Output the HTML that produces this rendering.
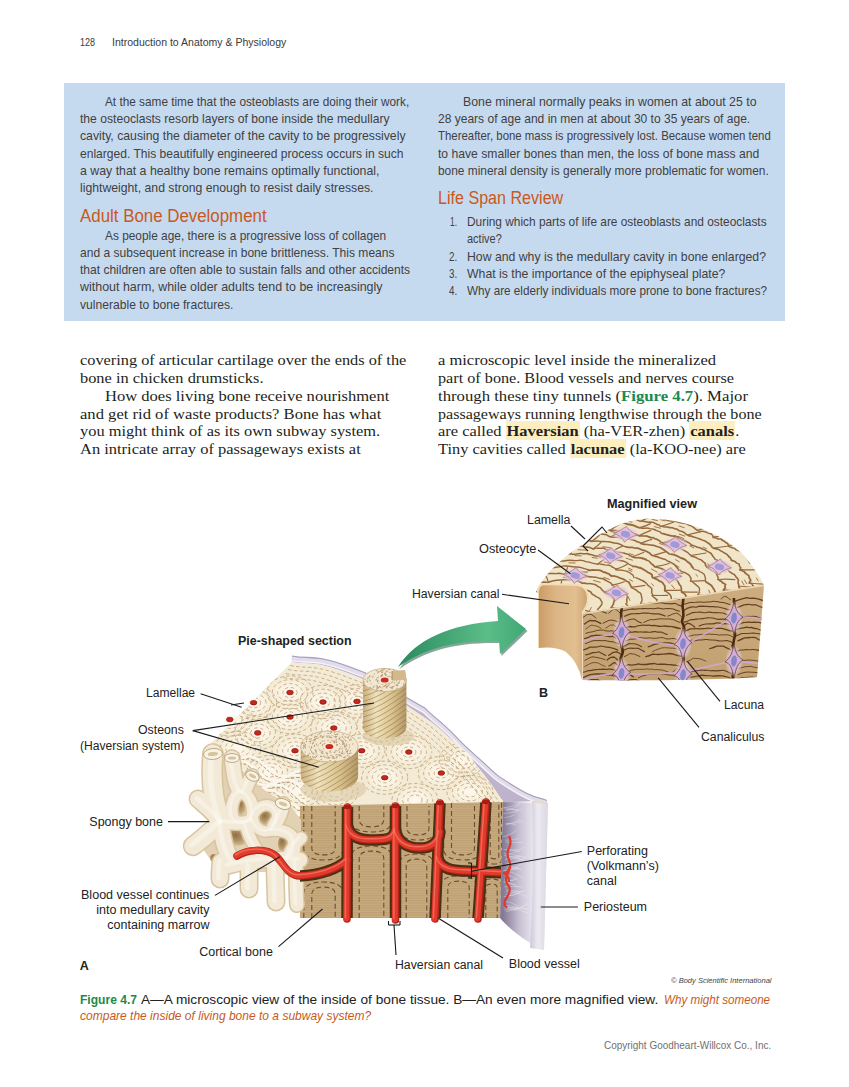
<!DOCTYPE html><html><head><meta charset="utf-8"><style>html,body{margin:0;padding:0;background:#fff}body{width:849px;height:1087px;position:relative;overflow:hidden}.t{position:absolute;white-space:nowrap;line-height:1;transform-origin:0 0}.hdr{font-family:"Liberation Sans", sans-serif;font-size:11.5px;color:#3a3a3a;}.box{font-family:"Liberation Sans", sans-serif;font-size:13px;color:#414141;}.h{font-family:"Liberation Sans", sans-serif;font-size:18px;color:#c8591a;}.body{font-family:"Liberation Serif", serif;font-size:15.5px;color:#231f20;}.lab{font-family:"Liberation Sans", sans-serif;font-size:12.5px;color:#222;}.labb{font-family:"Liberation Sans", sans-serif;font-size:12.5px;color:#222;font-weight:bold;}.cr{font-family:"Liberation Sans", sans-serif;font-size:8px;color:#444;font-style:italic;}.cap{font-family:"Liberation Sans", sans-serif;font-size:13.5px;color:#222;}.copy{font-family:"Liberation Sans", sans-serif;font-size:11px;color:#707070;}
.g{color:#1b8a4c;font-weight:bold}
.hl{background:#fdeebf;font-weight:bold;padding:1px 1px 0.5px 1px}
.fg{color:#1b8a4c;font-weight:bold}
.oi{color:#c8591a;font-style:italic}
.box{}#bluebox{position:absolute;left:64px;top:83px;width:721px;height:238px;background:#c6daef}</style></head><body><div id="bluebox"></div><svg style="position:absolute;left:0;top:0" width="849" height="1087" viewBox="0 0 849 1087"><defs><linearGradient id="canalG" x1="0" x2="1" y1="0" y2="0">
<stop offset="0" stop-color="#c99b66"/><stop offset="0.35" stop-color="#dcb584"/><stop offset="0.75" stop-color="#e2bf90"/><stop offset="1" stop-color="#c9a070"/></linearGradient>
<linearGradient id="arrowG" x1="0" x2="1" y1="0" y2="0">
<stop offset="0" stop-color="#2a8a5e"/><stop offset="0.7" stop-color="#5bbd88"/><stop offset="1" stop-color="#3fa776"/></linearGradient>
<linearGradient id="cylG" x1="0" x2="1" y1="0" y2="0">
<stop offset="0" stop-color="#cbb07e"/><stop offset="0.3" stop-color="#f0e2bc"/><stop offset="0.65" stop-color="#dcc591"/><stop offset="1" stop-color="#b39765"/></linearGradient>
<linearGradient id="perG" x1="0" x2="1" y1="0" y2="0">
<stop offset="0" stop-color="#bfb6cf"/><stop offset="0.5" stop-color="#d8d1e2"/><stop offset="1" stop-color="#e9e5ef"/></linearGradient>
<linearGradient id="sheetG" x1="0" x2="1" y1="0" y2="0">
<stop offset="0" stop-color="#c2b9d0"/><stop offset="0.3" stop-color="#e9e5f0"/><stop offset="1" stop-color="#f6f4f9"/></linearGradient>
<radialGradient id="lacG" cx="0.5" cy="0.5" r="0.5">
<stop offset="0" stop-color="#d6b3e0"/><stop offset="0.55" stop-color="#dcbfe2"/><stop offset="1" stop-color="#e8d2e8" stop-opacity="0"/></radialGradient>
<linearGradient id="frontBG" x1="0" x2="0" y1="0" y2="1">
<stop offset="0" stop-color="#cdad80"/><stop offset="1" stop-color="#c2a070"/></linearGradient>
<radialGradient id="holeG" cx="0.5" cy="0.4" r="0.6">
<stop offset="0" stop-color="#b89a6a"/><stop offset="0.7" stop-color="#cdb488"/><stop offset="1" stop-color="#e3d3b2"/></radialGradient>
<clipPath id="cTopB"><path d="M536,592 C545,572 565,555 590,540 C610,528 625,521 642,519 C682,517 722,533 742,554 C752,565 760,576 764,586 L582,614 Z"/></clipPath>
<clipPath id="cFrontB"><path d="M582,613 L764,585 L757,677 C720,680 640,681 582,680 Z"/></clipPath>
<clipPath id="cTopA"><path d="M292.0,662.0 C311.3,666.0 311.7,659.3 350.0,674.0 C388.3,688.7 371.5,682.7 407.0,706.0 C442.5,729.3 432.5,723.1 456.5,744.0 C480.5,764.9 463.3,749.1 479.0,768.6 C494.7,788.1 495.5,791.2 503.7,802.5 L300,806 L300,822 L262,798 L230,768 L210,750 L212,742 Z"/></clipPath>
<radialGradient id="halo" cx="0.5" cy="0.5" r="0.5"><stop offset="0" stop-color="#fffaf0"/><stop offset="0.5" stop-color="#faf3e2" stop-opacity="0.8"/><stop offset="1" stop-color="#f0e6ca" stop-opacity="0"/></radialGradient>
<clipPath id="cFrontA"><path d="M300,806 L503,802 L500,918 L300,918 Z"/></clipPath>
<pattern id="hstripe" width="4" height="2.4" patternUnits="userSpaceOnUse"><rect width="4" height="1.2" fill="#a2855a" opacity="0.35"/></pattern>
<radialGradient id="holeG2" cx="0.4" cy="0.35" r="0.7">
<stop offset="0" stop-color="#8f7048"/><stop offset="0.55" stop-color="#b49668"/><stop offset="1" stop-color="#d6c09a"/></radialGradient>
<linearGradient id="perG2" gradientUnits="userSpaceOnUse" x1="503" y1="0" x2="534" y2="0">
<stop offset="0" stop-color="#857a96"/><stop offset="0.5" stop-color="#c4bdd0"/><stop offset="1" stop-color="#ebe8ef"/></linearGradient>
<linearGradient id="sheetG2" gradientUnits="userSpaceOnUse" x1="531" y1="0" x2="548" y2="0">
<stop offset="0" stop-color="#d2ccda"/><stop offset="0.4" stop-color="#eceaf1"/><stop offset="1" stop-color="#dcd7e3"/></linearGradient>
<clipPath id="cyl1"><path d="M363.0,680 L363.0,727 A21.7,11.5 0 0 0 406.4,727 L406.4,680 Z"/></clipPath>
<clipPath id="cyl1t"><ellipse cx="384.7" cy="680" rx="21.7" ry="11.5"/></clipPath>
<clipPath id="cyl2"><path d="M300.7,746.5 L300.7,776.0 A28.7,15.5 0 0 0 358.09999999999997,776.0 L358.09999999999997,746.5 Z"/></clipPath>
<clipPath id="cyl2t"><ellipse cx="329.4" cy="746.5" rx="28.7" ry="15.5"/></clipPath></defs>
<path d="M536,592 C545,572 565,555 590,540 C610,528 625,521 642,519 C682,517 722,533 742,554 C752,565 760,576 764,586 L582,614 Z" fill="#f0e5c8"/>
<g clip-path="url(#cTopB)" fill="none" stroke="#96693d" stroke-linecap="round">
<path d="M543.5,603.5 Q543.0,601.6 543.1,600.5 Q543.6,598.7 544.7,597.2 Q547.6,596.3 550.5,595.3 Q554.1,594.8 556.5,593.5 Q560.2,594.3 563.6,593.6 Q566.2,593.8 569.6,595.1" stroke-width="1.67"/>
<path d="M569.6,595.1 Q570.8,591.8 575.7,588.4" stroke-width="1.2"/>
<path d="M561.5,590.1 l6.6,-0.2" stroke-width="0.9"/>
<path d="M548.6,594.0 l3.4,-1.1" stroke-width="0.9"/>
<path d="M569.8,595.4 Q572.8,596.2 575.9,596.0 Q578.5,597.3 580.8,597.9 Q582.6,599.2 585.4,600.3 Q585.3,602.5 585.2,603.6 Q584.2,605.2 583.6,606.5 Q581.6,607.6 580.6,609.0" stroke-width="1.49"/>
<path d="M580.1,608.9 Q587.8,610.7 592.9,613.1" stroke-width="1.2"/>
<path d="M591.3,607.5 l-1.8,3.2" stroke-width="0.9"/>
<path d="M527.8,603.0 Q527.7,602.0 526.6,600.6 Q526.6,599.9 527.4,598.1 Q528.1,597.4 527.8,595.5 Q530.0,594.0 532.0,593.7 Q533.5,593.5 535.6,591.9 Q538.3,591.0 540.8,591.1" stroke-width="1.83"/>
<path d="M540.6,591.0 Q537.4,588.1 533.6,585.8" stroke-width="1.2"/>
<path d="M526.1,598.2 l2.7,-3.7" stroke-width="0.9"/>
<path d="M524.4,595.1 l2.5,-2.4" stroke-width="0.9"/>
<path d="M541.9,590.6 Q543.5,589.7 544.2,589.3 Q545.6,588.9 546.8,588.0 Q548.0,587.3 549.5,586.5 Q551.8,587.1 553.4,586.4 Q554.9,587.3 557.2,586.8 Q558.5,587.4 560.9,587.3" stroke-width="1.79"/>
<path d="M560.9,587.3 Q560.9,584.8 561.6,581.1" stroke-width="1.2"/>
<path d="M540.4,586.4 l6.8,-1.9" stroke-width="0.9"/>
<path d="M561.9,587.5 Q564.8,586.8 568.0,586.9 Q571.8,586.8 574.5,586.9 Q578.1,587.5 580.5,588.0 Q583.2,589.4 585.9,589.6 Q588.5,590.8 590.5,591.7 Q591.5,593.8 592.7,594.6" stroke-width="1.55"/>
<path d="M593.7,594.8 Q594.9,595.7 596.6,596.9 Q598.2,597.3 600.4,599.1 Q600.8,601.0 601.8,601.7 Q602.2,602.4 601.8,604.4 Q601.0,605.6 599.9,606.9 Q598.9,608.4 597.6,609.3" stroke-width="1.48"/>
<path d="M515.1,602.8 Q514.6,602.4 513.3,600.8 Q512.9,600.4 512.4,598.7 Q512.1,597.0 513.0,596.7 Q513.4,595.4 514.9,594.9 Q516.5,593.7 518.6,593.5 Q519.8,592.0 520.9,591.9" stroke-width="1.65"/>
<path d="M521.4,592.1 Q516.4,589.0 509.9,587.8" stroke-width="1.2"/>
<path d="M511.8,592.3 l3.5,-3.4" stroke-width="0.9"/>
<path d="M522.5,591.7 Q523.1,590.0 524.1,589.0 Q525.5,588.1 527.8,586.9 Q529.8,585.4 531.2,584.5 Q534.1,584.2 536.2,583.0 Q538.7,583.0 542.1,582.2 Q545.7,581.9 548.4,582.5" stroke-width="1.64"/>
<path d="M548.2,582.2 Q547.3,578.0 545.5,575.4" stroke-width="1.2"/>
<path d="M549.3,581.8 Q551.4,581.4 554.6,580.5 Q557.2,580.3 560.4,580.0 Q564.0,579.6 566.4,579.5 Q569.1,579.7 572.4,580.0 Q575.4,579.9 577.9,581.1 Q580.0,581.6 582.4,583.3" stroke-width="1.70"/>
<path d="M563.2,577.3 l5.1,0.0" stroke-width="0.9"/>
<path d="M583.0,583.2 Q584.8,582.9 587.5,583.7 Q589.7,583.2 592.7,584.0 Q595.2,584.3 596.7,585.4 Q597.9,586.8 599.6,587.2 Q600.7,587.8 601.6,589.3 Q602.6,590.9 603.9,591.2" stroke-width="1.53"/>
<path d="M593.5,580.4 l6.7,1.9" stroke-width="0.9"/>
<path d="M604.2,592.0 Q606.4,593.8 608.0,594.2 Q609.5,594.9 612.0,596.5 Q613.5,598.1 614.3,599.2 Q614.3,601.5 613.8,602.2 Q613.8,604.2 612.8,605.0 Q612.3,606.2 611.1,607.7" stroke-width="1.68"/>
<path d="M611.0,607.7 Q619.2,609.2 625.2,609.7" stroke-width="1.2"/>
<path d="M499.1,603.5 Q499.1,602.4 498.1,601.8 Q497.4,601.3 497.5,600.1 Q498.1,598.6 497.4,598.3 Q498.1,598.0 498.3,596.7 Q500.1,595.4 500.9,595.3 Q501.4,595.3 502.8,593.8" stroke-width="1.37"/>
<path d="M503.3,593.9 Q497.5,592.2 491.0,590.7" stroke-width="1.2"/>
<path d="M496.8,596.4 l2.0,-3.9" stroke-width="0.9"/>
<path d="M490.2,600.0 l0.5,-2.0" stroke-width="0.9"/>
<path d="M503.9,593.6 Q504.4,592.3 503.8,591.8 Q503.6,590.4 503.7,589.9 Q504.1,588.4 505.4,588.4 Q506.8,587.2 508.2,587.2 Q508.7,587.0 509.9,585.7 Q511.7,584.8 513.5,584.9" stroke-width="1.70"/>
<path d="M514.0,585.1 Q509.4,582.2 504.7,580.1" stroke-width="1.2"/>
<path d="M502.4,586.4 l3.1,-2.4" stroke-width="0.9"/>
<path d="M501.3,584.6 l2.7,-1.9" stroke-width="0.9"/>
<path d="M513.6,584.8 Q514.7,583.1 514.9,582.9 Q516.1,582.5 517.6,581.6 Q518.0,580.3 519.5,579.8 Q521.5,580.2 523.6,579.3 Q525.7,579.4 527.2,578.5 Q529.5,578.7 531.2,578.2" stroke-width="1.81"/>
<path d="M531.2,578.2 Q529.7,574.7 526.3,572.0" stroke-width="1.2"/>
<path d="M511.3,579.7 l3.4,-1.6" stroke-width="0.9"/>
<path d="M533.0,577.9 Q535.3,576.4 536.9,575.7 Q539.9,575.5 542.2,574.7 Q545.1,574.9 547.5,573.5 Q550.4,573.4 553.4,573.5 Q556.4,573.9 559.0,573.2 Q561.7,573.9 564.7,574.2" stroke-width="1.43"/>
<path d="M564.7,574.2 Q567.1,570.1 567.4,567.7" stroke-width="1.2"/>
<path d="M533.0,571.7 l5.8,-1.2" stroke-width="0.9"/>
<path d="M543.7,571.0 l6.4,-0.8" stroke-width="0.9"/>
<path d="M566.1,574.2 Q567.5,574.0 570.0,573.6 Q571.6,572.8 574.0,573.0 Q576.2,572.9 577.5,573.8 Q579.3,574.4 581.2,574.1 Q583.1,574.7 584.6,575.1 Q586.3,575.7 587.4,576.5" stroke-width="1.67"/>
<path d="M581.9,571.3 l5.8,0.7" stroke-width="0.9"/>
<path d="M579.4,572.0 l7.5,0.8" stroke-width="0.9"/>
<path d="M588.2,576.5 Q590.7,577.1 593.4,577.0 Q595.3,577.2 598.3,577.9 Q601.3,578.5 603.4,578.8 Q605.1,580.1 606.7,580.8 Q608.7,581.8 610.2,582.6 Q611.2,583.3 612.4,585.0" stroke-width="1.48"/>
<path d="M612.0,585.1 Q617.9,584.5 624.3,581.8" stroke-width="1.2"/>
<path d="M603.9,577.5 l5.6,1.9" stroke-width="0.9"/>
<path d="M613.0,585.9 Q615.3,586.9 618.0,588.1 Q620.2,589.1 623.2,590.4 Q624.8,592.4 625.7,593.4 Q626.6,595.4 627.5,596.5 Q627.1,598.0 626.7,599.9 Q626.9,601.0 626.9,603.0" stroke-width="1.49"/>
<path d="M628.2,596.9 l1.7,3.5" stroke-width="0.9"/>
<path d="M625.7,603.8 Q626.9,605.0 628.1,606.2 Q628.2,606.9 628.0,608.6 Q628.6,609.5 628.1,611.1 Q626.8,611.8 625.9,613.3 Q624.2,614.3 623.4,615.5 Q621.7,616.7 619.4,617.2" stroke-width="1.42"/>
<path d="M619.7,617.3 Q624.7,619.8 631.2,621.2" stroke-width="1.2"/>
<path d="M630.5,616.2 l-2.6,3.1" stroke-width="0.9"/>
<path d="M485.9,601.5 Q484.9,600.1 484.7,599.4 Q485.3,597.6 484.7,597.3 Q484.4,595.7 484.8,595.2 Q485.4,593.4 486.0,593.2 Q487.6,591.8 489.3,591.5 Q490.5,591.2 492.3,589.9" stroke-width="1.41"/>
<path d="M491.8,589.8 Q485.7,587.8 480.3,586.1" stroke-width="1.2"/>
<path d="M485.1,592.3 l2.6,-3.9" stroke-width="0.9"/>
<path d="M493.2,589.2 Q492.8,587.4 493.5,586.2 Q494.0,585.4 495.6,583.5 Q497.5,583.0 498.5,581.0 Q501.0,580.4 503.3,579.2 Q505.6,578.3 507.4,577.2 Q510.7,576.7 512.9,575.9" stroke-width="1.50"/>
<path d="M513.3,576.1 Q508.0,573.7 506.6,570.4" stroke-width="1.2"/>
<path d="M513.7,575.7 Q516.5,574.3 518.3,573.5 Q521.4,572.9 523.5,571.6 Q526.8,570.6 529.2,569.9 Q531.7,569.9 535.5,568.9 Q538.5,568.1 542.1,568.4 Q545.7,568.6 548.7,568.3" stroke-width="1.43"/>
<path d="M548.7,568.3 Q550.5,564.5 548.8,561.7" stroke-width="1.2"/>
<path d="M533.9,568.2 l7.5,-1.4" stroke-width="0.9"/>
<path d="M517.2,570.4 l3.5,-1.1" stroke-width="0.9"/>
<path d="M549.9,568.5 Q553.4,567.5 556.0,567.2 Q559.6,566.9 562.6,566.1 Q566.2,566.0 569.3,566.2 Q572.8,566.9 575.8,567.0 Q578.8,566.7 582.1,567.9 Q585.6,569.1 587.9,569.6" stroke-width="1.42"/>
<path d="M568.9,562.8 l6.2,0.2" stroke-width="0.9"/>
<path d="M588.2,570.0 Q590.9,570.6 593.0,569.9 Q595.1,570.2 597.7,570.2 Q599.8,570.0 601.9,571.1 Q603.3,572.4 605.5,572.5 Q607.2,573.7 609.0,573.9 Q609.7,575.0 611.4,575.9" stroke-width="1.82"/>
<path d="M611.5,575.8 Q614.8,575.9 617.0,576.7 Q618.4,577.4 620.9,578.4 Q622.5,578.6 625.0,580.1 Q626.9,581.8 628.7,582.0 Q629.5,583.5 630.2,584.6 Q630.6,586.0 631.4,587.1" stroke-width="1.75"/>
<path d="M631.5,587.1 Q639.4,586.3 644.9,585.3" stroke-width="1.2"/>
<path d="M629.7,579.5 l3.0,1.8" stroke-width="0.9"/>
<path d="M631.5,587.7 Q634.1,589.0 636.2,590.0 Q637.6,591.9 639.8,592.7 Q641.1,593.5 641.4,595.7 Q641.4,596.7 642.0,598.8 Q642.2,601.0 641.6,601.8 Q640.5,603.1 640.4,604.9" stroke-width="1.42"/>
<path d="M640.3,604.9 Q648.8,604.7 653.9,606.3" stroke-width="1.2"/>
<path d="M640.4,605.0 Q640.7,606.7 642.0,607.5 Q641.8,609.2 642.0,610.0 Q640.9,611.8 640.9,612.4 Q639.8,613.6 639.5,614.8 Q638.8,616.0 637.7,617.2 Q635.4,617.5 633.8,619.1" stroke-width="1.47"/>
<path d="M633.5,619.0 Q638.0,620.2 644.8,622.8" stroke-width="1.2"/>
<path d="M647.0,611.4 l-1.0,2.5" stroke-width="0.9"/>
<path d="M472.1,603.5 Q470.8,601.9 470.1,601.5 Q469.9,600.6 469.8,599.4 Q470.0,597.7 469.2,597.2 Q470.0,596.2 470.4,595.2 Q471.4,595.1 473.4,593.4 Q474.7,591.9 475.4,591.6" stroke-width="1.84"/>
<path d="M475.8,591.6 Q467.4,589.6 462.3,588.2" stroke-width="1.2"/>
<path d="M471.3,593.5 l2.0,-3.9" stroke-width="0.9"/>
<path d="M476.1,591.1 Q476.3,590.0 475.9,589.3 Q476.2,589.0 475.9,587.4 Q476.9,586.2 476.7,585.7 Q477.7,585.7 478.8,584.2 Q480.5,583.3 481.1,582.8 Q483.8,582.3 485.5,582.1" stroke-width="1.52"/>
<path d="M485.5,581.6 Q486.1,580.1 487.2,579.4 Q487.9,578.0 489.2,577.3 Q490.5,576.0 491.1,575.1 Q492.8,574.5 494.9,573.6 Q496.6,572.3 499.1,572.3 Q501.6,572.2 503.6,571.3" stroke-width="1.48"/>
<path d="M503.9,571.4 Q498.4,568.1 496.5,565.1" stroke-width="1.2"/>
<path d="M490.7,573.9 l3.8,-2.0" stroke-width="0.9"/>
<path d="M505.2,571.3 Q507.2,569.7 508.0,568.7 Q510.4,568.7 512.6,567.2 Q515.1,565.4 516.5,565.1 Q519.4,564.9 522.3,564.5 Q525.3,563.9 527.8,563.9 Q530.5,563.0 533.6,563.7" stroke-width="1.32"/>
<path d="M533.4,563.5 Q530.8,559.3 531.6,556.3" stroke-width="1.2"/>
<path d="M508.1,567.9 l7.0,-2.4" stroke-width="0.9"/>
<path d="M514.6,565.0 l6.5,-1.8" stroke-width="0.9"/>
<path d="M533.2,563.2 Q534.5,561.9 536.9,561.9 Q539.0,560.8 540.9,561.0 Q542.6,561.6 545.2,560.8 Q547.2,560.4 549.5,560.5 Q551.3,561.2 554.0,561.0 Q556.4,561.3 558.3,561.5" stroke-width="1.67"/>
<path d="M558.3,561.3 Q558.6,557.8 560.7,554.1" stroke-width="1.2"/>
<path d="M560.2,561.1 Q563.8,561.2 566.6,560.5 Q569.8,560.0 573.1,560.5 Q575.9,560.9 579.8,560.1 Q583.4,560.4 585.8,561.6 Q589.2,562.1 591.7,562.9 Q594.3,563.6 597.4,564.2" stroke-width="1.30"/>
<path d="M597.3,564.4 Q600.4,561.8 606.0,558.3" stroke-width="1.2"/>
<path d="M592.1,557.5 l5.4,0.7" stroke-width="0.9"/>
<path d="M574.8,555.6 l6.5,0.3" stroke-width="0.9"/>
<path d="M597.8,564.0 Q600.2,563.6 601.4,564.3 Q602.7,564.4 604.8,564.9 Q607.1,565.2 608.5,565.2 Q610.3,565.8 611.4,566.2 Q612.3,567.4 613.8,567.6 Q614.5,568.6 616.3,568.9" stroke-width="1.42"/>
<path d="M615.9,569.1 Q623.4,566.8 627.2,564.2" stroke-width="1.2"/>
<path d="M604.2,562.0 l6.6,1.4" stroke-width="0.9"/>
<path d="M615.5,569.5 Q618.4,570.4 620.4,569.8 Q622.4,570.2 624.3,570.7 Q626.6,571.0 628.0,571.9 Q629.7,572.4 630.6,573.6 Q632.1,574.2 633.1,575.3 Q633.7,577.1 634.0,577.6" stroke-width="1.33"/>
<path d="M628.6,570.0 l3.2,1.4" stroke-width="0.9"/>
<path d="M628.7,568.3 l3.4,1.4" stroke-width="0.9"/>
<path d="M635.8,577.7 Q638.9,579.0 641.1,580.0 Q643.3,580.8 645.6,582.6 Q646.9,583.8 648.3,585.7 Q649.6,586.5 651.7,588.6 Q652.1,591.0 651.6,592.1 Q651.8,592.9 652.8,595.3" stroke-width="1.46"/>
<path d="M652.2,595.4 Q658.7,595.6 667.6,595.4" stroke-width="1.2"/>
<path d="M651.5,583.7 l2.2,2.1" stroke-width="0.9"/>
<path d="M652.3,596.0 Q653.4,597.0 654.7,597.9 Q656.3,599.2 657.1,599.9 Q656.4,600.4 656.8,602.1 Q657.6,602.4 657.2,604.2 Q656.0,606.0 655.2,606.3 Q654.1,606.8 654.2,608.4" stroke-width="1.43"/>
<path d="M653.6,608.3 Q660.8,609.6 668.3,610.5" stroke-width="1.2"/>
<path d="M457.7,600.1 Q456.4,598.9 456.0,597.5 Q456.1,596.5 455.6,594.8 Q455.8,594.3 456.6,592.3 Q457.4,590.9 457.8,589.7 Q459.4,589.0 461.3,587.5 Q462.5,586.6 464.5,585.3" stroke-width="1.73"/>
<path d="M464.5,585.3 Q459.6,583.1 451.7,581.1" stroke-width="1.2"/>
<path d="M464.2,584.8 Q465.4,584.0 465.4,582.8 Q465.1,581.7 465.8,580.5 Q466.3,579.7 467.9,578.7 Q468.5,577.5 469.9,576.8 Q471.4,576.2 473.3,575.3 Q476.2,575.6 478.4,574.4" stroke-width="1.50"/>
<path d="M477.8,574.2 Q470.7,571.1 467.7,568.6" stroke-width="1.2"/>
<path d="M477.7,574.1 Q479.6,572.6 481.0,571.4 Q482.1,569.9 484.0,568.4 Q486.3,567.4 489.0,566.3 Q491.7,565.8 493.8,564.1 Q496.6,563.7 500.5,563.1 Q504.3,562.5 506.8,562.0" stroke-width="1.76"/>
<path d="M506.5,561.7 Q505.5,558.4 501.5,554.7" stroke-width="1.2"/>
<path d="M492.5,559.9 l6.7,-2.4" stroke-width="0.9"/>
<path d="M474.7,568.2 l3.3,-1.8" stroke-width="0.9"/>
<path d="M506.9,561.5 Q508.5,560.7 510.0,559.8 Q511.9,559.2 513.3,558.1 Q515.3,557.1 517.9,557.6 Q520.0,557.8 522.2,556.8 Q524.6,555.9 526.8,556.4 Q529.1,556.0 531.4,556.1" stroke-width="1.65"/>
<path d="M531.6,556.3 Q532.9,552.3 530.5,549.0" stroke-width="1.2"/>
<path d="M516.1,552.9 l6.9,-1.4" stroke-width="0.9"/>
<path d="M532.5,556.2 Q535.4,555.3 538.0,554.3 Q540.7,554.5 544.4,553.7 Q547.0,554.2 550.7,553.2 Q554.4,552.6 557.1,552.6 Q560.0,553.7 563.6,553.5 Q566.8,553.1 570.0,553.9" stroke-width="1.60"/>
<path d="M570.0,554.2 Q571.9,550.9 574.6,547.1" stroke-width="1.2"/>
<path d="M561.9,548.8 l4.8,-0.0" stroke-width="0.9"/>
<path d="M571.0,553.9 Q573.3,554.6 576.1,554.0 Q578.4,553.3 581.6,553.5 Q583.8,553.9 587.0,553.5 Q589.2,554.7 591.8,554.7 Q594.6,556.0 596.4,556.0 Q598.4,555.9 600.9,557.3" stroke-width="1.53"/>
<path d="M578.1,549.7 l8.5,0.5" stroke-width="0.9"/>
<path d="M602.9,557.4 Q606.6,557.8 609.1,557.9 Q611.9,559.2 614.7,559.0 Q617.1,560.5 620.0,560.5 Q623.2,560.9 625.4,561.8 Q627.0,562.5 629.0,564.3 Q631.5,564.9 632.9,566.5" stroke-width="1.31"/>
<path d="M626.1,558.2 l6.4,2.0" stroke-width="0.9"/>
<path d="M610.3,557.2 l5.9,1.3" stroke-width="0.9"/>
<path d="M633.3,566.4 Q635.8,566.2 638.2,567.5 Q641.0,567.7 642.7,568.9 Q644.2,570.0 645.9,570.9 Q647.7,572.6 649.1,572.9 Q650.9,573.7 652.1,575.0 Q651.9,576.7 652.6,577.7" stroke-width="1.88"/>
<path d="M653.1,577.6 Q661.7,575.8 668.0,575.3" stroke-width="1.2"/>
<path d="M651.4,569.0 l5.8,3.2" stroke-width="0.9"/>
<path d="M654.1,578.1 Q655.4,578.8 657.6,579.7 Q658.9,581.2 660.8,581.5 Q662.4,582.3 663.2,583.6 Q664.1,585.3 664.8,585.7 Q664.7,587.0 665.0,588.1 Q664.8,589.5 664.8,590.5" stroke-width="1.88"/>
<path d="M665.2,590.4 Q674.9,590.6 680.9,590.1" stroke-width="1.2"/>
<path d="M671.6,585.1 l2.9,3.7" stroke-width="0.9"/>
<path d="M665.0,590.8 Q666.9,591.8 668.4,593.3 Q669.8,594.0 670.9,596.0 Q671.3,597.5 671.4,598.8 Q671.4,600.2 671.2,601.7 Q670.9,603.5 671.3,604.5 Q670.3,606.3 669.5,607.3" stroke-width="1.52"/>
<path d="M669.0,607.3 Q676.6,608.6 684.0,609.5" stroke-width="1.2"/>
<path d="M441.2,605.5 Q440.9,604.3 440.1,603.5 Q439.8,602.2 439.1,601.5 Q439.0,600.3 438.7,599.4 Q439.2,597.6 439.5,597.3 Q440.2,595.9 440.9,595.4 Q442.0,593.7 443.3,593.5" stroke-width="1.69"/>
<path d="M437.6,600.6 l0.4,-3.3" stroke-width="0.9"/>
<path d="M429.4,602.5 l0.1,-2.2" stroke-width="0.9"/>
<path d="M444.3,593.2 Q443.5,592.1 443.5,590.7 Q443.5,589.1 443.7,588.1 Q444.4,587.3 444.2,585.6 Q444.6,584.1 446.0,583.3 Q448.3,583.1 449.9,581.4 Q451.5,580.9 452.9,579.3" stroke-width="1.89"/>
<path d="M439.3,588.0 l1.9,-3.2" stroke-width="0.9"/>
<path d="M445.2,581.0 l2.3,-2.6" stroke-width="0.9"/>
<path d="M453.4,579.4 Q453.7,578.3 454.2,576.5 Q455.2,574.6 456.9,574.0 Q458.0,572.2 459.2,571.3 Q461.5,570.7 463.0,569.1 Q466.0,568.7 467.9,567.3 Q470.8,566.0 473.3,565.8" stroke-width="1.79"/>
<path d="M457.5,567.0 l4.9,-3.1" stroke-width="0.9"/>
<path d="M473.3,565.4 Q475.3,564.5 476.4,563.0 Q478.4,562.7 479.9,560.7 Q481.8,559.8 484.3,558.9 Q486.1,557.8 488.9,557.1 Q492.2,555.9 494.5,556.0 Q497.7,556.2 500.2,555.2" stroke-width="1.61"/>
<path d="M477.9,558.0 l3.8,-1.5" stroke-width="0.9"/>
<path d="M500.3,554.6 Q502.3,553.9 503.9,553.4 Q505.3,552.0 507.4,552.0 Q508.7,550.9 510.9,550.4 Q513.2,551.0 515.8,550.3 Q517.9,550.6 519.9,549.4 Q522.6,548.9 524.8,549.5" stroke-width="1.63"/>
<path d="M524.9,549.8 Q522.7,547.0 524.1,542.4" stroke-width="1.2"/>
<path d="M507.6,550.6 l4.1,-0.9" stroke-width="0.9"/>
<path d="M526.4,549.9 Q528.7,549.8 530.5,548.0 Q533.3,546.9 535.3,547.2 Q537.7,546.3 540.1,546.2 Q542.3,545.7 545.4,546.2 Q547.7,547.0 550.6,546.4 Q553.5,547.3 555.7,547.0" stroke-width="1.72"/>
<path d="M555.7,547.0 Q556.9,543.3 558.9,539.8" stroke-width="1.2"/>
<path d="M556.6,547.3 Q559.3,546.5 562.7,546.3 Q565.6,546.4 569.0,545.7 Q572.8,545.9 575.4,545.5 Q577.9,545.5 581.6,546.1 Q585.0,547.3 587.6,547.1 Q590.5,547.8 593.1,549.0" stroke-width="1.51"/>
<path d="M593.2,548.7 Q598.6,545.2 601.0,542.3" stroke-width="1.2"/>
<path d="M593.5,549.0 Q595.6,547.9 597.4,548.2 Q599.1,548.4 600.9,548.3 Q602.9,548.2 604.5,548.3 Q605.4,549.8 607.1,549.7 Q608.5,550.5 610.0,550.6 Q611.4,550.5 612.7,551.6" stroke-width="1.44"/>
<path d="M612.5,551.8 Q616.2,548.4 622.4,546.1" stroke-width="1.2"/>
<path d="M602.9,546.7 l7.7,1.2" stroke-width="0.9"/>
<path d="M612.7,551.6 Q615.1,551.5 616.6,551.9 Q618.0,552.7 620.5,552.3 Q621.9,552.9 623.9,553.0 Q626.0,554.0 627.2,553.9 Q628.8,554.7 629.5,555.5 Q631.3,556.1 632.3,556.7" stroke-width="1.46"/>
<path d="M631.9,557.0 Q637.3,555.1 643.9,552.2" stroke-width="1.2"/>
<path d="M629.3,553.7 l4.1,1.2" stroke-width="0.9"/>
<path d="M633.0,556.9 Q634.9,557.8 638.0,557.7 Q640.2,557.6 642.8,558.8 Q644.6,559.3 646.8,560.3 Q648.7,560.5 650.2,562.2 Q651.0,564.0 652.5,564.5 Q654.1,565.8 654.8,566.7" stroke-width="1.64"/>
<path d="M654.9,566.7 Q663.5,565.6 669.1,563.5" stroke-width="1.2"/>
<path d="M642.2,557.5 l4.6,1.7" stroke-width="0.9"/>
<path d="M655.3,566.9 Q657.0,566.8 658.8,567.7 Q660.7,568.3 661.8,568.8 Q663.0,569.7 664.4,570.0 Q665.5,571.3 666.0,571.6 Q666.9,572.7 667.1,573.3 Q667.8,573.6 667.9,575.0" stroke-width="1.72"/>
<path d="M667.7,575.0 Q674.3,573.3 682.9,573.1" stroke-width="1.2"/>
<path d="M663.6,569.4 l4.3,2.8" stroke-width="0.9"/>
<path d="M668.0,575.8 Q670.1,576.9 673.1,577.8 Q674.9,579.3 677.1,580.2 Q678.0,581.9 678.7,583.1 Q679.4,584.8 680.7,585.9 Q681.3,587.8 681.5,588.9 Q681.1,591.1 681.7,591.9" stroke-width="1.65"/>
<path d="M681.7,591.8 Q689.3,592.1 697.4,592.2" stroke-width="1.2"/>
<path d="M681.6,592.1 Q683.7,592.7 684.7,593.9 Q685.4,594.7 686.0,595.9 Q685.6,597.6 686.3,597.9 Q687.1,598.5 686.9,600.0 Q686.2,600.8 685.6,602.1 Q684.3,603.4 683.7,604.1" stroke-width="1.77"/>
<path d="M687.3,599.4 l0.4,2.4" stroke-width="0.9"/>
<path d="M684.3,604.6 Q684.8,605.3 685.8,607.4 Q686.4,609.1 687.1,610.3 Q685.9,612.2 685.4,613.1 Q684.5,614.8 684.3,615.9 Q682.7,617.8 681.9,618.5 Q680.4,620.2 679.8,621.1" stroke-width="1.80"/>
<path d="M679.0,621.0 Q684.0,623.2 692.2,625.0" stroke-width="1.2"/>
<path d="M426.7,599.2 Q426.5,597.4 425.6,596.7 Q425.1,595.5 425.2,594.2 Q425.4,592.6 426.1,591.8 Q426.5,590.6 427.3,589.4 Q428.8,589.0 429.8,587.2 Q431.7,586.0 432.8,585.0" stroke-width="1.57"/>
<path d="M432.4,585.0 Q425.3,583.9 420.3,581.0" stroke-width="1.2"/>
<path d="M422.4,596.1 l0.9,-3.4" stroke-width="0.9"/>
<path d="M432.1,584.4 Q432.9,584.0 432.8,582.3 Q433.3,581.7 432.9,580.1 Q433.6,578.4 435.0,578.2 Q435.4,576.5 436.0,576.2 Q438.6,574.7 440.1,574.8 Q441.4,573.5 443.2,573.2" stroke-width="1.31"/>
<path d="M443.0,573.2 Q436.2,571.5 432.9,568.1" stroke-width="1.2"/>
<path d="M426.5,577.8 l3.0,-3.5" stroke-width="0.9"/>
<path d="M442.7,572.8 Q444.3,571.6 445.1,569.9 Q446.2,568.6 448.0,567.1 Q449.2,566.3 450.8,564.2 Q452.8,562.6 455.2,561.9 Q457.6,560.8 461.1,560.2 Q464.6,559.0 467.0,558.7" stroke-width="1.57"/>
<path d="M441.5,569.1 l4.2,-3.3" stroke-width="0.9"/>
<path d="M437.9,566.6 l4.4,-3.2" stroke-width="0.9"/>
<path d="M466.7,558.3 Q468.5,557.7 469.4,555.9 Q471.2,555.3 473.3,554.0 Q475.3,552.7 477.3,552.1 Q479.6,552.2 482.2,550.8 Q484.6,550.4 487.4,549.7 Q490.7,549.1 493.0,549.1" stroke-width="1.79"/>
<path d="M492.8,548.9 Q492.0,546.1 489.4,542.1" stroke-width="1.2"/>
<path d="M494.1,548.1 Q496.9,546.5 499.1,546.5 Q501.9,545.2 503.8,544.6 Q506.3,544.6 509.3,543.5 Q512.7,543.5 515.2,542.7 Q517.9,542.4 521.1,542.1 Q524.5,541.7 527.2,541.8" stroke-width="1.78"/>
<path d="M505.3,540.0 l5.5,-1.1" stroke-width="0.9"/>
<path d="M513.2,539.7 l5.3,-0.9" stroke-width="0.9"/>
<path d="M528.3,541.8 Q530.4,541.8 533.5,540.8 Q535.9,540.3 538.5,539.1 Q541.7,538.8 544.1,538.5 Q546.5,539.3 549.9,539.1 Q553.0,539.6 555.5,538.7 Q558.1,539.7 561.2,539.7" stroke-width="1.82"/>
<path d="M561.2,539.7 Q563.0,536.1 565.6,533.1" stroke-width="1.2"/>
<path d="M537.3,538.0 l4.5,-0.4" stroke-width="0.9"/>
<path d="M562.7,539.7 Q565.3,540.1 567.7,539.2 Q569.9,539.0 572.7,538.7 Q575.5,537.9 577.8,538.4 Q580.8,538.8 582.7,539.1 Q584.7,539.9 587.4,539.9 Q590.0,540.8 591.9,541.3" stroke-width="1.85"/>
<path d="M591.9,541.2 Q595.7,538.7 599.3,535.2" stroke-width="1.2"/>
<path d="M593.7,541.3 Q597.2,540.7 599.6,541.4 Q602.9,541.4 605.6,541.5 Q608.7,541.5 611.2,542.2 Q613.9,543.2 616.7,543.2 Q618.5,543.6 621.4,544.8 Q623.6,546.3 625.8,546.7" stroke-width="1.46"/>
<path d="M626.3,546.9 Q629.5,547.8 632.0,547.3 Q634.6,548.4 637.3,548.2 Q639.0,548.5 641.6,549.8 Q644.2,550.2 646.3,551.2 Q648.1,552.2 649.8,553.2 Q650.8,554.8 652.6,555.6" stroke-width="1.74"/>
<path d="M652.7,555.5 Q658.1,554.3 665.4,551.9" stroke-width="1.2"/>
<path d="M654.1,556.1 Q656.8,556.2 659.8,557.7 Q662.6,558.9 665.4,559.5 Q667.7,561.5 669.8,561.9 Q672.3,563.3 674.0,564.3 Q675.8,565.7 676.6,567.2 Q678.0,568.4 678.7,570.3" stroke-width="1.62"/>
<path d="M675.6,559.7 l3.6,2.0" stroke-width="0.9"/>
<path d="M675.9,565.2 l3.1,2.0" stroke-width="0.9"/>
<path d="M680.0,570.1 Q680.8,571.5 682.3,571.8 Q683.6,571.8 685.8,573.2 Q686.9,574.0 688.6,574.8 Q689.9,576.2 690.2,576.8 Q690.7,577.8 691.0,578.8 Q691.0,580.2 690.5,581.1" stroke-width="1.50"/>
<path d="M690.7,581.1 Q696.9,581.4 705.5,580.7" stroke-width="1.2"/>
<path d="M695.9,574.5 l1.8,1.8" stroke-width="0.9"/>
<path d="M692.0,581.7 Q693.4,582.5 694.6,583.7 Q695.3,584.1 697.0,585.7 Q698.1,586.4 699.1,587.8 Q699.7,588.3 699.5,590.1 Q698.9,592.1 699.4,592.4 Q698.4,593.6 697.8,594.8" stroke-width="1.43"/>
<path d="M698.3,594.8 Q705.2,595.9 712.9,595.9" stroke-width="1.2"/>
<path d="M708.8,590.2 l1.3,3.1" stroke-width="0.9"/>
<path d="M697.9,595.1 Q698.6,596.4 700.2,597.0 Q701.6,597.7 702.6,598.9 Q702.7,599.5 702.0,600.9 Q702.4,601.3 702.9,602.9 Q702.4,603.3 701.6,604.9 Q699.8,606.3 698.8,606.9" stroke-width="1.60"/>
<path d="M699.6,606.9 Q707.4,608.3 713.4,609.3" stroke-width="1.2"/>
<path d="M412.5,599.6 Q411.8,598.6 411.8,597.5 Q411.6,597.1 411.1,595.4 Q410.2,595.0 410.4,593.3 Q411.5,592.0 411.4,591.2 Q413.0,590.8 414.0,589.4 Q415.4,588.1 416.5,587.5" stroke-width="1.67"/>
<path d="M410.6,593.5 l1.2,-3.8" stroke-width="0.9"/>
<path d="M411.3,590.9 l1.4,-3.6" stroke-width="0.9"/>
<path d="M416.6,586.9 Q415.6,585.3 415.7,584.9 Q416.4,584.4 416.2,583.1 Q416.9,582.3 416.7,581.3 Q417.3,580.4 417.7,579.5 Q419.4,578.5 420.6,578.1 Q422.2,577.4 423.8,576.7" stroke-width="1.70"/>
<path d="M423.8,576.7 Q416.9,573.7 413.8,572.3" stroke-width="1.2"/>
<path d="M423.6,576.5 Q424.3,574.8 424.7,573.4 Q425.5,572.1 427.0,570.5 Q428.7,568.9 430.3,567.8 Q431.7,566.8 433.6,565.1 Q435.5,564.0 437.7,562.7 Q440.2,562.2 443.3,560.8" stroke-width="1.52"/>
<path d="M443.3,560.8 Q441.5,558.5 436.2,555.3" stroke-width="1.2"/>
<path d="M421.9,568.0 l2.8,-2.4" stroke-width="0.9"/>
<path d="M444.4,560.0 Q445.3,558.1 447.2,557.0 Q449.2,556.2 451.1,554.5 Q452.8,554.0 455.4,552.0 Q458.1,551.9 461.2,550.3 Q464.0,549.2 466.2,548.2 Q469.3,546.9 472.7,546.9" stroke-width="1.35"/>
<path d="M472.9,547.1 Q472.2,544.8 469.2,540.9" stroke-width="1.2"/>
<path d="M447.7,551.0 l3.8,-1.8" stroke-width="0.9"/>
<path d="M460.4,545.6 l3.7,-1.4" stroke-width="0.9"/>
<path d="M474.1,546.5 Q475.7,545.8 478.0,544.2 Q480.1,542.8 482.7,542.4 Q484.8,541.7 487.7,540.8 Q490.2,539.9 493.3,539.8 Q495.6,538.9 498.9,538.7 Q502.3,537.7 505.0,538.2" stroke-width="1.59"/>
<path d="M505.2,538.5 Q503.2,534.9 504.8,532.1" stroke-width="1.2"/>
<path d="M496.2,535.4 l4.4,-0.9" stroke-width="0.9"/>
<path d="M506.8,538.5 Q509.4,537.6 510.8,536.7 Q512.5,536.0 514.9,535.1 Q517.5,534.6 519.7,534.2 Q522.1,533.8 524.9,534.1 Q527.3,533.5 530.2,534.4 Q532.4,534.9 535.2,534.0" stroke-width="1.30"/>
<path d="M525.1,532.4 l6.8,-0.8" stroke-width="0.9"/>
<path d="M512.6,533.1 l7.2,-1.1" stroke-width="0.9"/>
<path d="M536.6,533.8 Q539.5,533.0 541.5,532.8 Q544.6,531.8 546.6,532.2 Q549.2,531.3 551.8,531.7 Q554.1,532.3 557.1,532.0 Q559.2,531.8 562.3,532.0 Q564.5,533.1 567.4,533.0" stroke-width="1.35"/>
<path d="M567.4,533.1 Q571.5,530.5 572.7,527.2" stroke-width="1.2"/>
<path d="M562.6,531.6 l7.3,-0.0" stroke-width="0.9"/>
<path d="M557.0,529.0 l7.6,-0.1" stroke-width="0.9"/>
<path d="M567.6,532.9 Q569.3,533.1 571.3,532.4 Q572.7,532.3 575.0,532.2 Q576.4,532.7 578.7,532.3 Q580.7,531.9 582.5,532.4 Q584.7,533.2 585.8,533.5 Q587.4,534.3 589.4,534.0" stroke-width="1.53"/>
<path d="M576.3,528.3 l4.3,0.2" stroke-width="0.9"/>
<path d="M582.7,531.2 l6.1,0.4" stroke-width="0.9"/>
<path d="M590.5,534.5 Q592.8,534.3 594.2,534.2 Q596.3,534.2 598.1,533.5 Q600.2,533.4 601.5,534.1 Q602.7,534.3 604.9,534.5 Q606.0,534.3 607.9,535.7 Q609.8,536.5 610.7,537.0" stroke-width="1.55"/>
<path d="M610.9,536.8 Q616.3,534.3 619.6,531.8" stroke-width="1.2"/>
<path d="M610.7,531.6 l8.2,1.2" stroke-width="0.9"/>
<path d="M612.3,537.2 Q615.0,537.4 618.1,537.1 Q620.9,538.0 623.2,537.9 Q626.0,538.7 628.5,538.4 Q630.9,539.9 632.8,540.0 Q635.3,540.2 636.9,541.8 Q638.8,542.3 641.2,543.2" stroke-width="1.45"/>
<path d="M641.1,543.3 Q648.0,540.4 651.9,539.4" stroke-width="1.2"/>
<path d="M641.2,543.6 Q644.8,544.5 647.2,544.5 Q649.9,545.2 653.6,545.3 Q656.0,546.5 658.7,547.0 Q660.6,547.5 662.9,549.2 Q664.1,550.2 666.4,551.7 Q668.6,553.6 669.9,554.2" stroke-width="1.71"/>
<path d="M659.5,543.5 l7.1,2.5" stroke-width="0.9"/>
<path d="M671.3,554.2 Q673.7,554.2 676.8,555.8 Q679.2,557.2 680.9,558.0 Q683.7,558.4 685.6,560.0 Q686.8,561.5 688.7,562.6 Q690.5,563.9 691.3,565.3 Q691.9,566.9 693.2,568.2" stroke-width="1.87"/>
<path d="M693.8,569.0 Q696.5,570.4 698.4,570.4 Q699.8,572.0 701.5,572.3 Q702.7,573.2 704.1,574.3 Q704.6,575.0 705.0,576.6 Q705.0,577.5 705.5,579.0 Q705.2,580.2 705.6,581.4" stroke-width="1.36"/>
<path d="M705.7,581.8 Q707.9,583.1 709.3,584.1 Q711.0,584.8 712.2,586.6 Q713.0,588.2 713.9,589.2 Q714.8,591.0 715.1,591.9 Q714.5,593.8 714.6,594.6 Q713.7,596.3 712.6,597.5" stroke-width="1.81"/>
<path d="M713.2,597.4 Q721.5,599.1 726.4,599.2" stroke-width="1.2"/>
<path d="M713.4,598.2 Q713.5,599.9 714.7,600.4 Q715.8,601.1 717.0,602.6 Q716.8,604.2 717.7,604.9 Q716.6,606.0 715.9,607.1 Q715.3,608.4 715.4,609.3 Q714.2,610.9 713.3,611.5" stroke-width="1.70"/>
<path d="M399.2,597.2 Q398.8,595.9 398.6,594.5 Q397.9,592.9 398.4,591.7 Q398.6,590.6 399.3,589.0 Q400.5,587.9 401.0,586.4 Q402.3,585.3 403.3,583.9 Q404.8,582.5 406.8,581.6" stroke-width="1.81"/>
<path d="M405.8,581.2 Q405.6,580.7 405.5,579.5 Q405.3,579.0 405.8,577.9 Q405.8,577.4 406.3,576.2 Q407.7,575.4 408.3,574.9 Q409.8,574.4 410.2,573.5 Q412.4,572.2 414.0,572.5" stroke-width="1.37"/>
<path d="M414.8,572.1 Q415.1,570.6 415.1,568.6 Q416.2,566.7 417.3,565.5 Q418.4,563.7 420.7,562.8 Q423.3,561.1 425.0,560.3 Q426.8,558.7 429.5,557.9 Q432.5,557.1 435.5,556.0" stroke-width="1.83"/>
<path d="M420.8,555.0 l3.7,-2.4" stroke-width="0.9"/>
<path d="M406.9,564.8 l2.4,-2.1" stroke-width="0.9"/>
<path d="M435.5,555.3 Q436.4,553.9 437.8,553.6 Q439.1,553.0 439.6,551.6 Q441.3,551.6 442.5,550.0 Q443.8,548.7 445.1,548.4 Q447.3,547.6 449.3,547.4 Q451.5,547.0 453.6,546.6" stroke-width="1.64"/>
<path d="M434.8,547.6 l5.7,-2.9" stroke-width="0.9"/>
<path d="M454.4,546.0 Q456.1,544.5 457.9,544.0 Q459.4,542.4 461.8,542.2 Q464.0,541.0 465.8,540.4 Q467.9,540.4 470.1,538.9 Q473.0,539.0 475.6,538.1 Q478.6,538.5 481.0,537.5" stroke-width="1.34"/>
<path d="M480.9,537.4 Q481.1,533.5 477.7,529.8" stroke-width="1.2"/>
<path d="M473.1,536.9 l3.6,-1.1" stroke-width="0.9"/>
<path d="M470.8,536.2 l5.5,-1.7" stroke-width="0.9"/>
<path d="M482.2,536.7 Q483.3,535.3 485.5,535.4 Q486.7,535.0 488.8,534.1 Q490.9,533.6 492.4,533.1 Q494.4,532.9 496.2,532.3 Q497.8,531.8 500.6,532.1 Q503.3,531.6 504.8,531.8" stroke-width="1.87"/>
<path d="M505.0,532.0 Q503.6,527.1 504.5,524.2" stroke-width="1.2"/>
<path d="M487.4,531.7 l5.6,-1.3" stroke-width="0.9"/>
<path d="M490.9,530.7 l3.8,-0.8" stroke-width="0.9"/>
<path d="M505.8,532.3 Q509.1,530.9 511.4,530.0 Q514.1,528.6 517.8,528.7 Q521.5,527.8 524.4,527.5 Q527.4,527.5 531.4,527.3 Q535.3,527.4 538.4,527.2 Q541.5,527.2 545.4,527.5" stroke-width="1.46"/>
<path d="M545.4,527.5 Q549.1,523.6 549.1,519.9" stroke-width="1.2"/>
<path d="M545.6,527.1 Q549.4,527.3 552.1,526.2 Q555.3,526.2 558.8,525.9 Q561.7,525.9 565.5,525.8 Q568.3,525.2 572.1,525.8 Q575.0,525.9 578.7,526.6 Q581.7,527.3 585.2,527.5" stroke-width="1.35"/>
<path d="M585.1,527.7 Q589.4,524.6 592.5,520.8" stroke-width="1.2"/>
<path d="M572.0,522.4 l6.8,0.2" stroke-width="0.9"/>
<path d="M572.3,525.3 l5.1,0.1" stroke-width="0.9"/>
<path d="M586.6,527.8 Q589.0,527.9 590.7,527.6 Q592.8,528.0 595.0,527.2 Q597.4,528.0 599.3,527.2 Q601.4,528.2 603.1,527.9 Q605.0,528.8 606.7,529.1 Q608.8,529.1 610.1,530.5" stroke-width="1.58"/>
<path d="M610.2,530.3 Q613.3,527.7 619.9,524.0" stroke-width="1.2"/>
<path d="M605.1,523.3 l5.7,0.7" stroke-width="0.9"/>
<path d="M600.7,522.9 l5.9,0.6" stroke-width="0.9"/>
<path d="M611.7,530.6 Q613.8,530.0 616.8,530.7 Q618.7,531.5 621.8,531.0 Q623.8,531.6 626.7,531.5 Q628.6,531.7 630.9,532.8 Q632.9,533.6 635.4,533.9 Q636.7,535.2 639.2,535.5" stroke-width="1.64"/>
<path d="M638.8,535.8 Q643.7,533.4 650.8,530.4" stroke-width="1.2"/>
<path d="M639.3,535.9 Q642.1,536.0 644.5,536.0 Q646.9,535.9 648.8,536.9 Q650.8,537.9 653.2,537.7 Q654.8,539.0 656.7,539.2 Q658.7,540.2 659.7,540.9 Q660.6,542.3 662.4,542.8" stroke-width="1.70"/>
<path d="M662.4,542.8 Q670.7,540.6 676.2,538.5" stroke-width="1.2"/>
<path d="M645.8,535.6 l4.5,1.2" stroke-width="0.9"/>
<path d="M663.0,543.4 Q666.4,544.5 668.8,544.7 Q671.3,544.8 675.0,546.0 Q677.5,547.7 679.8,548.0 Q681.4,549.2 684.0,550.3 Q685.8,551.4 687.9,552.7 Q689.1,553.7 690.9,555.4" stroke-width="1.44"/>
<path d="M690.4,555.6 Q698.4,554.2 706.0,553.0" stroke-width="1.2"/>
<path d="M689.8,545.9 l4.0,1.9" stroke-width="0.9"/>
<path d="M691.7,556.2 Q693.4,556.4 696.0,557.5 Q697.8,559.1 699.3,559.2 Q701.4,559.6 702.4,560.9 Q703.2,561.9 704.9,562.9 Q705.2,563.9 705.6,565.3 Q706.7,566.7 707.1,567.4" stroke-width="1.64"/>
<path d="M707.1,567.4 Q715.6,567.2 723.5,566.2" stroke-width="1.2"/>
<path d="M715.7,562.0 l4.5,3.6" stroke-width="0.9"/>
<path d="M707.2,563.6 l3.2,2.5" stroke-width="0.9"/>
<path d="M708.0,568.1 Q709.8,568.6 710.6,569.8 Q712.1,571.0 713.8,571.4 Q715.2,571.5 716.3,573.1 Q716.4,574.4 717.2,575.3 Q717.3,575.9 718.2,577.3 Q718.2,578.4 717.8,579.6" stroke-width="1.46"/>
<path d="M718.2,579.5 Q727.1,578.6 734.8,579.6" stroke-width="1.2"/>
<path d="M723.4,569.8 l1.8,1.8" stroke-width="0.9"/>
<path d="M717.0,571.5 l3.1,3.2" stroke-width="0.9"/>
<path d="M719.3,580.2 Q720.4,580.9 721.6,581.6 Q722.8,582.9 723.0,583.1 Q724.3,583.2 725.5,584.6 Q725.1,585.3 724.9,586.4 Q725.7,587.5 725.3,588.1 Q724.2,588.8 723.3,590.0" stroke-width="1.76"/>
<path d="M724.0,589.9 Q733.5,590.8 740.4,591.1" stroke-width="1.2"/>
<path d="M724.0,590.3 Q724.7,591.7 726.1,593.0 Q727.9,594.9 728.5,595.7 Q729.1,597.4 728.8,598.6 Q728.9,600.1 728.8,601.4 Q728.6,602.7 728.3,604.2 Q727.5,605.2 727.1,607.0" stroke-width="1.34"/>
<path d="M726.6,607.0 Q735.4,608.5 742.1,609.8" stroke-width="1.2"/>
<path d="M730.2,602.3 l0.2,4.1" stroke-width="0.9"/>
<path d="M735.6,600.2 l0.3,2.8" stroke-width="0.9"/>
<path d="M383.9,606.9 Q383.3,605.7 382.0,604.4 Q381.6,603.5 380.7,601.9 Q381.6,600.1 381.3,599.4 Q381.5,598.1 380.6,596.9 Q381.3,595.5 382.7,594.5 Q384.1,594.0 385.9,592.2" stroke-width="1.61"/>
<path d="M385.3,592.1 Q380.4,590.4 373.7,588.6" stroke-width="1.2"/>
<path d="M384.9,591.3 Q384.9,589.9 383.9,589.6 Q384.5,589.0 384.7,587.9 Q384.3,586.6 384.3,586.2 Q385.7,584.7 386.0,584.7 Q386.4,583.6 387.4,583.1 Q389.0,582.2 390.5,581.8" stroke-width="1.37"/>
<path d="M389.9,581.7 Q385.5,580.0 379.3,577.5" stroke-width="1.2"/>
<path d="M383.8,587.5 l1.3,-3.1" stroke-width="0.9"/>
<path d="M389.5,581.0 Q390.5,579.7 390.5,578.7 Q390.5,578.2 390.0,576.2 Q390.9,575.2 391.5,573.9 Q391.9,573.0 393.4,571.7 Q394.6,570.6 396.4,569.8 Q398.5,569.7 400.9,568.2" stroke-width="1.68"/>
<path d="M387.5,576.7 l2.6,-3.7" stroke-width="0.9"/>
<path d="M400.8,568.0 Q401.3,565.9 402.4,564.8 Q403.4,562.5 404.5,561.6 Q406.1,560.2 407.8,558.7 Q410.2,556.8 411.9,556.1 Q414.3,555.4 416.9,553.8 Q419.2,553.2 422.0,551.5" stroke-width="1.73"/>
<path d="M422.2,551.6 Q418.7,549.3 416.0,545.9" stroke-width="1.2"/>
<path d="M404.4,554.8 l4.1,-2.9" stroke-width="0.9"/>
<path d="M423.0,551.3 Q425.3,549.8 426.4,548.7 Q427.6,547.4 429.5,545.9 Q431.3,544.0 433.4,543.4 Q435.9,542.6 438.0,541.2 Q441.6,539.9 444.0,539.7 Q447.6,539.6 450.3,538.5" stroke-width="1.45"/>
<path d="M450.1,538.4 Q448.9,534.9 446.7,532.1" stroke-width="1.2"/>
<path d="M421.5,545.2 l3.2,-1.7" stroke-width="0.9"/>
<path d="M450.4,537.9 Q452.4,537.4 453.7,536.1 Q455.9,535.2 457.2,534.3 Q458.5,533.6 460.6,532.4 Q463.6,531.8 465.6,531.7 Q467.3,530.7 470.1,530.7 Q473.4,529.8 475.6,530.5" stroke-width="1.33"/>
<path d="M475.4,530.3 Q476.4,526.9 474.4,523.9" stroke-width="1.2"/>
<path d="M476.5,529.9 Q478.1,529.7 480.3,528.3 Q482.1,526.9 484.2,526.7 Q486.6,526.3 488.7,525.7 Q490.6,525.2 493.6,525.2 Q496.1,524.4 498.3,524.4 Q501.6,525.0 503.7,524.5" stroke-width="1.60"/>
<path d="M479.1,526.9 l7.6,-1.8" stroke-width="0.9"/>
<path d="M488.3,525.1 l6.3,-1.3" stroke-width="0.9"/>
<path d="M505.2,524.5 Q507.1,524.3 510.0,523.0 Q512.3,522.8 514.9,521.4 Q517.8,521.3 520.4,520.9 Q523.1,520.9 525.9,520.4 Q528.4,519.9 531.5,520.1 Q534.8,519.8 537.3,520.5" stroke-width="1.53"/>
<path d="M515.4,517.8 l4.9,-0.6" stroke-width="0.9"/>
<path d="M512.5,518.3 l5.2,-0.7" stroke-width="0.9"/>
<path d="M538.0,520.6 Q541.5,519.3 544.2,519.0 Q547.1,518.2 550.8,518.3 Q553.7,518.0 557.4,517.9 Q560.8,518.4 564.1,518.5 Q566.9,518.4 570.7,519.2 Q573.5,519.1 577.3,519.7" stroke-width="1.41"/>
<path d="M578.0,519.8 Q580.4,519.9 582.1,519.0 Q584.0,519.5 586.0,518.8 Q588.2,519.2 589.9,518.9 Q591.5,518.9 593.7,519.6 Q595.1,520.7 597.3,520.5 Q599.4,521.7 600.7,521.7" stroke-width="1.79"/>
<path d="M594.4,518.9 l7.2,0.6" stroke-width="0.9"/>
<path d="M601.0,521.2 Q604.5,522.1 607.8,521.8 Q611.7,521.3 615.1,521.7 Q618.6,522.2 621.9,522.4 Q624.3,522.8 627.9,524.3 Q630.9,524.5 634.2,525.7 Q636.7,527.0 639.8,527.8" stroke-width="1.88"/>
<path d="M639.8,527.7 Q645.7,526.2 650.4,523.6" stroke-width="1.2"/>
<path d="M628.2,521.4 l3.8,0.7" stroke-width="0.9"/>
<path d="M641.2,528.3 Q643.8,528.2 645.6,528.2 Q647.2,527.6 649.8,528.6 Q651.8,528.8 653.6,529.2 Q655.0,529.6 656.5,530.6 Q657.7,531.1 659.8,531.6 Q660.6,533.2 662.0,533.5" stroke-width="1.41"/>
<path d="M654.4,526.6 l6.0,1.6" stroke-width="0.9"/>
<path d="M662.9,533.6 Q665.6,534.3 668.5,535.1 Q671.7,536.2 675.0,536.0 Q677.7,536.9 679.4,538.2 Q681.4,539.5 683.9,540.4 Q685.7,541.3 688.3,542.5 Q690.1,543.1 691.5,545.3" stroke-width="1.76"/>
<path d="M678.5,536.5 l5.2,2.0" stroke-width="0.9"/>
<path d="M679.2,534.1 l5.5,2.0" stroke-width="0.9"/>
<path d="M692.2,545.3 Q695.3,546.1 697.2,547.2 Q700.2,547.4 702.5,549.0 Q704.6,549.6 707.0,551.1 Q709.5,552.4 711.1,553.5 Q711.7,554.3 713.0,556.5 Q714.0,557.3 715.2,559.4" stroke-width="1.59"/>
<path d="M703.3,547.1 l3.2,1.7" stroke-width="0.9"/>
<path d="M716.5,559.9 Q718.0,560.8 719.2,561.2 Q720.7,561.2 722.7,562.3 Q724.1,563.5 724.9,563.7 Q724.7,564.0 725.3,565.6 Q725.9,566.6 726.8,567.2 Q726.8,568.9 727.2,569.1" stroke-width="1.77"/>
<path d="M727.7,569.6 Q728.7,571.1 730.2,572.2 Q732.5,574.0 734.3,574.6 Q735.7,575.8 736.2,577.3 Q737.6,578.2 738.5,580.1 Q737.9,581.9 738.1,583.1 Q739.0,584.9 738.8,586.0" stroke-width="1.61"/>
<path d="M738.4,586.0 Q746.0,586.9 751.8,587.4" stroke-width="1.2"/>
<path d="M741.8,581.1 l2.2,3.9" stroke-width="0.9"/>
<path d="M744.5,580.0 l2.2,3.7" stroke-width="0.9"/>
<path d="M738.8,586.9 Q740.1,589.0 741.5,590.1 Q743.3,591.4 744.2,593.2 Q745.0,594.9 745.8,596.5 Q745.0,597.4 745.3,599.9 Q744.4,601.5 743.4,603.2 Q743.0,604.3 741.7,606.5" stroke-width="1.81"/>
<path d="M742.4,606.5 Q748.8,608.3 754.7,609.3" stroke-width="1.2"/>
<path d="M750.7,591.1 l1.3,4.1" stroke-width="0.9"/>
<path d="M370.4,607.1 Q370.3,605.8 369.8,604.4 Q369.6,603.5 368.8,601.7 Q367.6,600.9 367.5,598.9 Q368.8,598.2 369.2,596.1 Q370.6,594.6 371.3,593.5 Q372.2,592.8 373.6,590.9" stroke-width="1.55"/>
<path d="M373.0,590.8 Q367.0,589.3 359.4,586.9" stroke-width="1.2"/>
<path d="M363.5,597.3 l0.6,-3.7" stroke-width="0.9"/>
<path d="M372.4,590.4 Q371.8,589.6 371.7,588.3 Q371.0,587.1 371.5,586.2 Q372.4,585.0 372.8,584.2 Q374.0,583.9 374.4,582.3 Q374.4,581.6 375.3,580.3 Q376.5,578.9 378.0,578.6" stroke-width="1.51"/>
<path d="M378.6,578.6 Q374.1,576.8 366.3,573.9" stroke-width="1.2"/>
<path d="M370.2,588.3 l1.5,-4.2" stroke-width="0.9"/>
<path d="M366.9,583.1 l1.3,-2.6" stroke-width="0.9"/>
<path d="M379.0,577.9 Q379.0,576.3 379.6,575.3 Q379.1,574.1 379.5,572.6 Q381.0,570.8 381.9,570.3 Q383.2,569.2 384.5,568.0 Q385.3,566.9 387.1,565.8 Q388.5,564.2 390.5,563.7" stroke-width="1.89"/>
<path d="M391.0,563.8 Q385.2,561.2 380.6,558.1" stroke-width="1.2"/>
<path d="M369.8,573.9 l1.6,-2.3" stroke-width="0.9"/>
<path d="M390.7,563.3 Q391.1,562.0 392.5,560.2 Q393.7,558.3 395.5,557.3 Q396.4,556.6 398.2,554.4 Q399.8,553.8 402.2,551.8 Q404.7,550.6 407.9,549.8 Q409.8,549.4 412.3,547.5" stroke-width="1.36"/>
<path d="M387.8,554.6 l4.0,-3.1" stroke-width="0.9"/>
<path d="M413.6,547.6 Q415.1,545.8 415.4,545.2 Q416.7,543.4 418.5,543.1 Q419.6,541.8 420.9,540.8 Q423.0,539.7 425.0,539.2 Q427.2,539.1 430.0,538.1 Q432.3,537.3 435.2,537.1" stroke-width="1.59"/>
<path d="M434.7,536.8 Q433.0,532.5 429.5,529.8" stroke-width="1.2"/>
<path d="M434.9,536.4 Q436.8,535.2 437.6,534.8 Q438.5,534.3 440.1,533.0 Q441.4,531.8 443.2,531.5 Q444.4,531.1 446.6,530.3 Q449.5,530.7 451.4,529.9 Q453.4,529.3 455.2,529.0" stroke-width="1.89"/>
<path d="M455.5,529.2 Q455.8,525.9 452.5,521.8" stroke-width="1.2"/>
<path d="M457.0,529.0 Q458.6,527.8 461.0,526.8 Q463.2,525.4 465.7,525.0 Q467.4,524.2 470.0,522.9 Q473.1,521.6 475.5,521.8 Q478.4,521.2 481.7,521.3 Q484.9,521.4 488.1,521.2" stroke-width="1.55"/>
<path d="M462.4,521.4 l7.1,-1.9" stroke-width="0.9"/>
<path d="M478.2,520.6 l4.5,-1.0" stroke-width="0.9"/>
<path d="M488.6,520.7 Q491.9,520.2 494.4,518.8 Q497.5,517.7 500.8,517.4 Q504.4,516.6 507.0,515.7 Q510.3,515.1 514.2,515.6 Q518.0,515.9 521.1,515.1 Q524.7,514.9 528.1,515.1" stroke-width="1.70"/>
<path d="M507.4,512.4 l8.1,-1.1" stroke-width="0.9"/>
<path d="M529.8,515.3 Q532.5,513.9 534.4,513.8 Q537.1,513.0 539.4,512.8 Q542.5,512.3 544.5,512.3 Q546.7,513.0 549.8,512.9 Q552.2,513.0 555.0,513.3 Q557.2,513.2 560.2,513.6" stroke-width="1.38"/>
<path d="M560.2,513.7 Q563.5,509.9 566.2,506.8" stroke-width="1.2"/>
<path d="M562.0,514.1 Q564.7,513.6 567.5,512.6 Q570.2,512.4 573.0,512.8 Q575.7,512.5 578.6,512.6 Q581.1,512.9 584.1,512.9 Q586.7,513.2 589.4,513.7 Q592.2,514.9 594.5,515.1" stroke-width="1.69"/>
<path d="M594.5,514.9 Q600.6,511.0 603.1,508.6" stroke-width="1.2"/>
<path d="M586.1,511.0 l5.9,0.3" stroke-width="0.9"/>
<path d="M587.3,510.0 l8.8,0.5" stroke-width="0.9"/>
<path d="M596.3,515.1 Q598.1,514.5 600.4,514.5 Q602.0,514.5 604.1,514.8 Q606.5,514.8 608.1,514.7 Q610.1,514.2 611.9,515.0 Q612.9,516.5 614.9,516.5 Q616.3,517.9 618.0,517.8" stroke-width="1.50"/>
<path d="M618.2,517.5 Q623.9,513.8 628.4,511.8" stroke-width="1.2"/>
<path d="M619.0,517.8 Q621.2,517.0 623.0,517.7 Q625.7,517.6 627.1,517.7 Q629.5,517.0 630.9,518.0 Q632.1,517.8 634.3,518.9 Q636.4,519.4 637.4,520.1 Q639.3,521.1 640.4,521.4" stroke-width="1.35"/>
<path d="M640.4,521.4 Q645.5,518.7 652.0,516.2" stroke-width="1.2"/>
<path d="M642.1,521.4 Q643.9,521.1 645.8,521.7 Q647.3,522.5 649.5,522.1 Q651.5,522.1 653.2,522.4 Q654.9,523.7 656.0,523.7 Q657.1,525.0 659.0,524.7 Q659.5,525.8 661.1,526.5" stroke-width="1.46"/>
<path d="M661.2,526.4 Q667.6,524.4 674.0,522.0" stroke-width="1.2"/>
<path d="M660.4,519.6 l4.3,1.1" stroke-width="0.9"/>
<path d="M652.0,519.3 l5.4,1.3" stroke-width="0.9"/>
<path d="M661.9,526.4 Q664.2,527.4 667.3,526.9 Q669.6,527.7 672.4,527.8 Q674.9,529.1 676.9,529.1 Q678.8,530.9 680.4,531.1 Q681.9,531.1 684.4,532.7 Q685.4,533.9 687.2,534.9" stroke-width="1.55"/>
<path d="M687.0,535.0 Q692.9,533.5 701.2,531.7" stroke-width="1.2"/>
<path d="M679.0,526.0 l5.2,1.7" stroke-width="0.9"/>
<path d="M688.3,535.6 Q691.0,535.7 693.8,537.0 Q696.8,537.9 698.9,538.7 Q700.8,539.4 703.7,540.6 Q705.4,541.1 707.7,542.8 Q709.2,543.6 710.9,545.4 Q711.6,547.1 713.3,548.2" stroke-width="1.56"/>
<path d="M713.7,548.0 Q721.2,547.0 729.0,546.0" stroke-width="1.2"/>
<path d="M714.0,548.4 Q716.6,548.8 719.0,549.6 Q720.8,551.1 722.2,551.5 Q723.5,552.7 725.4,553.4 Q727.0,554.3 728.0,555.5 Q728.7,556.8 730.3,557.7 Q730.6,558.7 731.6,560.2" stroke-width="1.63"/>
<path d="M731.3,560.4 Q733.3,560.7 735.0,561.4 Q735.9,561.8 736.4,563.0 Q737.3,563.1 739.2,564.2 Q739.1,564.6 739.5,566.1 Q739.7,567.0 740.7,567.7 Q740.3,569.2 740.0,569.7" stroke-width="1.60"/>
<path d="M740.6,569.6 Q749.4,570.3 756.5,569.6" stroke-width="1.2"/>
<path d="M739.9,569.7 Q742.2,570.9 744.1,571.5 Q744.8,572.7 746.1,573.7 Q747.3,574.3 748.9,575.8 Q748.8,576.2 749.4,578.2 Q750.2,578.7 750.7,580.5 Q749.6,581.1 749.2,583.1" stroke-width="1.78"/>
<path d="M749.8,583.0 Q757.6,583.8 765.5,584.3" stroke-width="1.2"/>
<path d="M756.4,578.0 l1.8,3.0" stroke-width="0.9"/>
<path d="M750.7,583.3 Q752.3,583.7 752.8,585.6 Q753.2,586.0 754.8,587.9 Q755.8,588.5 756.7,590.3 Q756.3,591.9 755.7,592.9 Q754.8,594.7 755.1,595.4 Q754.8,596.7 755.1,597.9" stroke-width="1.51"/>
<path d="M754.6,597.9 Q761.8,598.1 769.7,600.3" stroke-width="1.2"/>
<path d="M758.5,587.6 l0.8,2.2" stroke-width="0.9"/>
<path d="M762.1,588.1 l1.5,4.1" stroke-width="0.9"/>
<path d="M754.9,598.1 Q755.6,600.2 755.9,601.1 Q756.5,602.4 757.1,604.2 Q757.7,605.3 758.8,607.3 Q758.0,609.6 757.0,610.4 Q755.5,611.7 755.0,613.4 Q754.1,614.2 753.5,616.4" stroke-width="1.66"/>
<path d="M765.2,604.4 l-0.0,4.0" stroke-width="0.9"/>
<path d="M357.6,595.0 Q356.7,594.0 356.4,592.2 Q356.5,591.5 356.3,589.5 Q356.2,587.4 355.6,586.7 Q356.3,585.5 357.2,584.0 Q359.5,582.6 360.8,581.6 Q361.5,580.0 363.0,579.1" stroke-width="1.45"/>
<path d="M363.1,579.1 Q356.0,576.2 350.2,574.3" stroke-width="1.2"/>
<path d="M348.9,581.3 l1.1,-2.2" stroke-width="0.9"/>
<path d="M350.0,585.4 l0.9,-2.2" stroke-width="0.9"/>
<path d="M363.5,578.7 Q363.9,577.4 363.2,576.6 Q362.6,575.9 362.5,574.5 Q363.3,574.0 364.2,572.7 Q364.5,571.3 365.5,570.9 Q367.0,569.9 368.0,569.3 Q370.1,568.1 371.3,567.8" stroke-width="1.44"/>
<path d="M362.2,573.6 l1.6,-2.3" stroke-width="0.9"/>
<path d="M371.6,567.1 Q371.5,565.5 371.4,564.8 Q371.4,563.5 372.4,562.8 Q372.6,562.2 373.7,560.8 Q374.8,559.2 375.7,559.0 Q378.2,558.5 379.7,557.7 Q381.0,556.3 382.4,556.0" stroke-width="1.58"/>
<path d="M368.3,560.0 l2.9,-2.9" stroke-width="0.9"/>
<path d="M384.0,555.8 Q384.9,554.4 384.9,553.8 Q384.4,552.2 384.9,551.6 Q386.4,550.5 387.9,550.2 Q389.0,549.7 390.2,548.6 Q391.4,548.1 393.1,547.2 Q394.4,546.7 396.9,546.1" stroke-width="1.84"/>
<path d="M379.8,546.9 l2.9,-2.0" stroke-width="0.9"/>
<path d="M397.2,545.9 Q397.6,544.3 398.6,543.4 Q399.5,542.1 401.3,541.4 Q403.1,540.1 404.7,539.6 Q405.6,538.8 407.6,537.7 Q410.3,536.5 412.4,536.6 Q414.3,535.1 416.3,535.1" stroke-width="1.31"/>
<path d="M416.7,535.3 Q412.9,532.4 410.8,528.1" stroke-width="1.2"/>
<path d="M400.8,536.1 l4.0,-2.1" stroke-width="0.9"/>
<path d="M402.4,538.7 l3.4,-1.9" stroke-width="0.9"/>
<path d="M417.4,535.5 Q419.5,533.5 420.9,532.7 Q422.4,531.7 424.5,529.8 Q426.8,529.5 429.6,527.8 Q432.0,526.9 435.1,525.9 Q438.3,525.3 441.4,524.6 Q445.0,523.4 447.9,523.5" stroke-width="1.63"/>
<path d="M447.7,523.3 Q450.2,522.6 451.4,521.4 Q453.0,519.8 455.2,519.5 Q456.9,518.3 459.6,518.0 Q461.6,517.7 464.5,516.9 Q467.4,516.6 469.7,516.1 Q472.4,515.9 475.4,515.8" stroke-width="1.46"/>
<path d="M453.4,516.7 l4.2,-1.2" stroke-width="0.9"/>
<path d="M477.2,515.7 Q479.1,515.5 481.4,514.2 Q483.7,513.8 485.6,512.6 Q488.3,512.5 490.1,511.4 Q492.4,511.3 495.2,510.9 Q497.6,510.4 500.6,510.9 Q502.8,510.1 505.7,510.5" stroke-width="1.44"/>
<path d="M505.7,510.6 Q507.6,506.3 508.0,502.9" stroke-width="1.2"/>
<path d="M506.0,510.8 Q507.8,510.0 510.1,509.1 Q512.3,508.0 514.7,508.3 Q516.5,508.4 519.3,507.4 Q521.7,507.7 524.4,507.4 Q526.8,507.9 529.4,507.3 Q531.5,507.4 534.4,507.4" stroke-width="1.63"/>
<path d="M515.5,505.6 l6.8,-0.7" stroke-width="0.9"/>
<path d="M534.7,507.6 Q537.8,506.2 539.8,506.5 Q543.0,505.5 545.1,506.1 Q547.3,505.3 550.4,505.5 Q552.9,506.2 555.9,505.7 Q559.0,506.6 561.3,506.1 Q563.8,505.7 566.6,506.9" stroke-width="1.68"/>
<path d="M566.8,507.2 Q569.7,506.5 573.3,506.0 Q576.0,505.7 579.7,505.8 Q582.9,504.9 586.3,505.6 Q589.4,506.5 592.7,506.2 Q595.1,507.7 598.6,507.8 Q601.7,507.8 604.7,508.8" stroke-width="1.88"/>
<path d="M604.7,508.8 Q609.3,505.4 614.3,502.5" stroke-width="1.2"/>
<path d="M576.3,504.6 l5.4,0.2" stroke-width="0.9"/>
<path d="M574.8,501.5 l6.4,0.2" stroke-width="0.9"/>
<path d="M605.9,508.9 Q609.5,508.4 612.6,509.0 Q616.6,508.6 619.4,509.1 Q622.4,508.9 626.0,509.8 Q628.9,510.3 632.0,511.1 Q635.2,512.6 637.8,512.8 Q640.3,514.2 643.4,514.6" stroke-width="1.48"/>
<path d="M643.5,514.5 Q648.0,512.6 655.5,509.2" stroke-width="1.2"/>
<path d="M624.5,506.2 l4.0,0.6" stroke-width="0.9"/>
<path d="M631.9,509.7 l5.9,1.0" stroke-width="0.9"/>
<path d="M644.8,514.7 Q647.0,514.8 649.3,514.5 Q651.5,515.2 652.9,515.3 Q654.7,515.5 656.9,515.7 Q658.7,516.9 660.1,517.0 Q661.8,517.7 663.0,518.4 Q664.1,519.6 666.0,519.7" stroke-width="1.47"/>
<path d="M666.0,519.7 Q674.2,516.8 679.2,515.1" stroke-width="1.2"/>
<path d="M653.1,514.5 l5.9,1.3" stroke-width="0.9"/>
<path d="M663.2,515.2 l7.3,1.8" stroke-width="0.9"/>
<path d="M666.4,520.1 Q669.8,521.3 672.8,520.9 Q675.2,521.3 678.6,522.2 Q682.1,523.3 684.7,523.3 Q687.5,523.9 689.4,525.4 Q691.7,525.9 693.9,527.6 Q695.5,529.1 697.3,530.3" stroke-width="1.46"/>
<path d="M697.6,530.2 Q704.5,527.7 712.4,526.9" stroke-width="1.2"/>
<path d="M678.9,517.4 l3.4,1.0" stroke-width="0.9"/>
<path d="M700.5,523.9 l7.0,2.6" stroke-width="0.9"/>
<path d="M698.4,530.9 Q700.0,531.6 702.1,531.2 Q704.1,531.3 705.3,532.0 Q706.1,531.9 707.9,533.0 Q709.3,533.9 711.0,533.8 Q711.2,534.4 712.5,535.3 Q712.9,536.8 713.5,537.0" stroke-width="1.39"/>
<path d="M713.2,537.2 Q720.3,536.2 728.7,534.6" stroke-width="1.2"/>
<path d="M717.6,531.5 l3.9,1.8" stroke-width="0.9"/>
<path d="M713.3,537.5 Q715.7,537.7 716.9,538.4 Q718.5,539.2 721.1,539.0 Q721.8,540.2 723.1,540.6 Q723.6,540.6 725.3,542.1 Q726.6,543.1 727.6,543.5 Q728.1,544.5 728.6,545.4" stroke-width="1.66"/>
<path d="M728.2,545.5 Q734.5,544.4 744.2,543.8" stroke-width="1.2"/>
<path d="M725.9,540.0 l3.1,1.8" stroke-width="0.9"/>
<path d="M726.1,538.9 l3.5,1.9" stroke-width="0.9"/>
<path d="M728.8,546.4 Q731.2,547.7 734.6,548.4 Q736.3,550.3 739.0,550.9 Q741.5,551.8 743.1,553.5 Q744.7,555.7 745.8,556.5 Q746.4,558.1 748.0,559.6 Q748.7,560.9 749.5,562.8" stroke-width="1.47"/>
<path d="M750.2,562.6 Q759.0,562.0 766.6,562.5" stroke-width="1.2"/>
<path d="M752.4,557.8 l2.6,2.3" stroke-width="0.9"/>
<path d="M754.5,557.3 l3.2,2.9" stroke-width="0.9"/>
<path d="M750.2,562.9 Q752.0,563.6 754.2,565.0 Q755.3,565.8 757.3,567.3 Q758.1,568.0 759.3,569.8 Q760.4,570.7 762.0,572.2 Q762.7,573.5 762.4,575.0 Q763.1,575.7 762.9,577.8" stroke-width="1.41"/>
<path d="M756.4,564.9 l2.6,2.8" stroke-width="0.9"/>
<path d="M762.5,578.1 Q763.5,579.0 765.1,579.7 Q765.3,581.2 766.6,581.6 Q768.1,582.2 768.4,583.3 Q768.9,583.9 768.7,585.3 Q769.3,585.8 768.9,587.2 Q767.2,587.6 766.8,589.3" stroke-width="1.58"/>
<path d="M767.4,589.3 Q777.3,590.5 783.3,591.3" stroke-width="1.2"/>
<path d="M772.8,584.0 l1.7,3.9" stroke-width="0.9"/>
<path d="M767.3,589.9 Q768.4,590.4 769.3,592.2 Q770.4,593.5 771.3,594.4 Q771.3,596.3 772.2,596.7 Q771.5,597.5 771.7,599.1 Q772.1,600.0 772.0,601.4 Q771.2,602.1 769.4,603.7" stroke-width="1.49"/>
<path d="M769.8,603.7 Q778.8,606.0 784.9,606.8" stroke-width="1.2"/>
<path d="M777.2,594.4 l0.6,2.8" stroke-width="0.9"/>
<path d="M770.4,604.4 Q771.2,606.0 771.7,606.3 Q771.7,608.0 771.9,608.3 Q771.8,608.5 772.3,610.3 Q771.5,611.6 771.6,612.3 Q771.1,613.8 771.0,614.2 Q769.6,615.5 768.2,616.1" stroke-width="1.51"/>
<path d="M768.2,616.1 Q776.1,617.8 782.3,620.1" stroke-width="1.2"/>
<path d="M781.3,613.6 l-0.5,2.7" stroke-width="0.9"/>
</g>
<ellipse cx="625.5" cy="534.2" rx="14" ry="8" fill="url(#lacG)" clip-path="url(#cTopB)"/>
<path d="M613.5,533.2 C619.5,532.2 621.5,529.2 626.5,526.2 C628.5,530.2 631.5,532.2 637.5,535.2 C631.5,536.2 628.5,538.2 624.5,542.2 C622.5,538.2 619.5,535.2 613.5,533.2 Z" fill="#e2bfe2" stroke="#9a6b45" stroke-width="0.6" clip-path="url(#cTopB)"/>
<ellipse cx="625.5" cy="534.2" rx="4.8" ry="3.2" fill="#a19ad6" transform="rotate(15 625.5 534.2)"/>
<ellipse cx="610.7" cy="555.8" rx="14" ry="8" fill="url(#lacG)" clip-path="url(#cTopB)"/>
<path d="M598.7,554.8 C604.7,553.8 606.7,550.8 611.7,547.8 C613.7,551.8 616.7,553.8 622.7,556.8 C616.7,557.8 613.7,559.8 609.7,563.8 C607.7,559.8 604.7,556.8 598.7,554.8 Z" fill="#e2bfe2" stroke="#9a6b45" stroke-width="0.6" clip-path="url(#cTopB)"/>
<ellipse cx="610.7" cy="555.8" rx="4.8" ry="3.2" fill="#a19ad6" transform="rotate(15 610.7 555.8)"/>
<ellipse cx="575.3" cy="575.5" rx="14" ry="8" fill="url(#lacG)" clip-path="url(#cTopB)"/>
<path d="M563.3,574.5 C569.3,573.5 571.3,570.5 576.3,567.5 C578.3,571.5 581.3,573.5 587.3,576.5 C581.3,577.5 578.3,579.5 574.3,583.5 C572.3,579.5 569.3,576.5 563.3,574.5 Z" fill="#e2bfe2" stroke="#9a6b45" stroke-width="0.6" clip-path="url(#cTopB)"/>
<ellipse cx="575.3" cy="575.5" rx="4.8" ry="3.2" fill="#a19ad6" transform="rotate(15 575.3 575.5)"/>
<ellipse cx="616.4" cy="592.9" rx="14" ry="8" fill="url(#lacG)" clip-path="url(#cTopB)"/>
<path d="M604.4,591.9 C610.4,590.9 612.4,587.9 617.4,584.9 C619.4,588.9 622.4,590.9 628.4,593.9 C622.4,594.9 619.4,596.9 615.4,600.9 C613.4,596.9 610.4,593.9 604.4,591.9 Z" fill="#e2bfe2" stroke="#9a6b45" stroke-width="0.6" clip-path="url(#cTopB)"/>
<ellipse cx="616.4" cy="592.9" rx="4.8" ry="3.2" fill="#a19ad6" transform="rotate(15 616.4 592.9)"/>
<ellipse cx="675" cy="544.6" rx="14" ry="8" fill="url(#lacG)" clip-path="url(#cTopB)"/>
<path d="M663,543.6 C669,542.6 671,539.6 676,536.6 C678,540.6 681,542.6 687,545.6 C681,546.6 678,548.6 674,552.6 C672,548.6 669,545.6 663,543.6 Z" fill="#e2bfe2" stroke="#9a6b45" stroke-width="0.6" clip-path="url(#cTopB)"/>
<ellipse cx="675" cy="544.6" rx="4.8" ry="3.2" fill="#a19ad6" transform="rotate(15 675 544.6)"/>
<ellipse cx="719.5" cy="566.9" rx="14" ry="8" fill="url(#lacG)" clip-path="url(#cTopB)"/>
<path d="M707.5,565.9 C713.5,564.9 715.5,561.9 720.5,558.9 C722.5,562.9 725.5,564.9 731.5,567.9 C725.5,568.9 722.5,570.9 718.5,574.9 C716.5,570.9 713.5,567.9 707.5,565.9 Z" fill="#e2bfe2" stroke="#9a6b45" stroke-width="0.6" clip-path="url(#cTopB)"/>
<ellipse cx="719.5" cy="566.9" rx="4.8" ry="3.2" fill="#a19ad6" transform="rotate(15 719.5 566.9)"/>
<ellipse cx="670" cy="575.5" rx="14" ry="8" fill="url(#lacG)" clip-path="url(#cTopB)"/>
<path d="M658,574.5 C664,573.5 666,570.5 671,567.5 C673,571.5 676,573.5 682,576.5 C676,577.5 673,579.5 669,583.5 C667,579.5 664,576.5 658,574.5 Z" fill="#e2bfe2" stroke="#9a6b45" stroke-width="0.6" clip-path="url(#cTopB)"/>
<ellipse cx="670" cy="575.5" rx="4.8" ry="3.2" fill="#a19ad6" transform="rotate(15 670 575.5)"/>
<path d="M582,613 L764,585 L757,677 C720,680 640,681 582,680 Z" fill="url(#frontBG)"/>
<g clip-path="url(#cFrontB)" fill="none" stroke="#654020" stroke-linecap="round">
<path d="M583.8,601.4 Q586.8,600.3 590.1,598.7 Q592.6,598.8 595.4,598.2 Q598.1,598.6 600.7,598.2 Q603.7,598.2 606.0,598.1 Q609.2,599.1 611.3,599.2 Q614.9,599.3 617.6,600.9" stroke-width="0.81"/>
<path d="M583.3,607.3 Q586.9,605.5 590.8,603.7 Q594.6,604.4 597.3,603.8 Q600.8,605.7 604.8,606.9" stroke-width="1.37"/>
<path d="M609.0,607.3 Q611.2,606.5 612.4,604.2 Q613.2,604.5 614.7,604.3 Q615.9,605.5 618.0,606.4" stroke-width="1.23"/>
<path d="M585.4,613.3 Q589.5,612.0 592.8,609.8 Q596.5,609.7 599.2,610.3 Q602.7,612.0 606.6,613.2" stroke-width="1.15"/>
<path d="M608.6,613.3 Q610.9,611.2 612.8,609.7 Q613.9,608.8 616.1,609.5 Q617.9,611.0 620.3,613.3" stroke-width="0.92"/>
<path d="M582.7,617.7 Q584.9,616.2 587.4,614.4 Q589.6,614.7 591.2,614.5 Q594.0,615.6 595.9,618.1" stroke-width="0.98"/>
<path d="M584.5,624.1 Q587.2,621.6 590.2,620.3 Q592.2,621.0 594.9,620.7 Q597.7,621.7 600.7,623.4" stroke-width="1.39"/>
<path d="M603.0,623.3 Q606.0,621.5 609.1,620.4 Q612.1,619.8 614.3,620.6 Q618.0,621.4 620.5,623.1" stroke-width="1.00"/>
<path d="M585.7,629.0 Q588.6,626.9 591.1,625.1 Q593.4,625.5 595.6,625.8 Q598.4,626.3 601.0,628.2" stroke-width="0.84"/>
<path d="M605.6,628.2 Q608.5,626.6 610.1,625.2 Q611.7,624.9 613.7,625.1 Q615.4,626.2 618.2,628.6" stroke-width="0.83"/>
<path d="M585.9,633.3 Q589.7,632.1 592.4,631.8 Q595.6,630.8 597.9,630.3 Q600.8,629.9 603.4,630.1 Q606.0,631.3 608.9,631.1 Q612.2,630.6 614.4,631.1 Q618.0,631.7 620.9,633.5" stroke-width="0.98"/>
<path d="M584.6,638.6 Q588.3,637.9 590.9,636.0 Q593.9,635.7 596.3,635.1 Q598.6,635.6 601.6,635.4 Q604.2,636.1 606.9,636.2 Q609.3,636.9 612.3,636.3 Q615.0,638.0 618.6,638.9" stroke-width="1.33"/>
<path d="M585.5,643.6 Q588.4,642.8 591.7,641.1 Q594.9,640.4 596.9,640.7 Q599.5,640.3 602.2,640.7 Q605.4,640.1 607.4,641.0 Q610.5,641.8 612.7,641.6 Q615.6,642.9 618.9,643.6" stroke-width="1.02"/>
<path d="M583.7,649.8 Q587.0,648.7 590.1,647.1 Q593.3,647.1 595.4,647.2 Q598.5,647.0 600.8,646.0 Q603.9,646.5 606.1,647.1 Q609.0,646.8 611.5,647.9 Q614.1,648.4 617.8,650.1" stroke-width="1.24"/>
<path d="M585.6,654.8 Q589.1,654.4 592.7,652.6 Q595.4,652.9 598.7,651.8 Q602.0,653.6 605.7,655.5" stroke-width="1.18"/>
<path d="M608.8,655.3 Q611.3,653.9 613.3,652.3 Q615.1,652.0 616.7,651.8 Q619.5,652.8 621.2,654.5" stroke-width="1.35"/>
<path d="M584.8,660.4 Q588.1,658.4 591.9,656.9 Q594.8,656.9 598.0,657.7 Q601.0,658.2 605.1,659.6" stroke-width="0.96"/>
<path d="M607.2,660.0 Q608.7,658.3 611.0,657.4 Q612.9,657.1 613.9,657.0 Q615.6,658.1 617.7,660.0" stroke-width="1.33"/>
<path d="M584.8,666.4 Q588.9,664.3 591.9,662.8 Q594.6,662.3 598.0,662.9 Q601.8,665.3 605.1,666.4" stroke-width="0.81"/>
<path d="M609.0,665.8 Q611.0,665.5 612.4,663.7 Q614.0,662.5 614.9,662.7 Q616.5,664.2 618.3,665.7" stroke-width="1.34"/>
<path d="M582.2,672.5 Q585.4,671.9 588.3,670.5 Q591.3,670.9 593.4,669.9 Q595.6,669.4 598.4,669.4 Q600.6,669.3 603.5,669.1 Q606.6,669.5 608.6,669.1 Q611.0,668.8 613.6,669.6 Q617.1,671.3 619.7,671.9" stroke-width="1.26"/>
<path d="M583.6,677.5 Q586.8,675.7 590.2,674.6 Q593.3,674.2 595.8,673.9 Q598.0,674.1 601.4,673.9 Q604.8,673.7 607.0,674.9 Q610.4,674.5 612.6,675.4 Q615.6,677.2 619.2,677.5" stroke-width="1.38"/>
<path d="M584.9,682.9 Q587.8,680.6 591.7,679.7 Q594.0,679.9 597.5,679.7 Q600.8,681.8 604.2,682.9" stroke-width="1.38"/>
<path d="M623.7,600.0 Q627.2,598.9 630.1,597.5 Q633.0,597.2 635.4,597.3 Q637.6,597.5 640.8,596.3 Q643.9,597.2 646.2,596.6 Q648.8,597.1 651.5,596.4 Q654.7,596.7 656.9,596.7 Q660.1,597.3 662.3,596.9 Q664.5,596.5 667.6,597.3 Q670.2,597.7 673.0,598.0 Q676.4,598.8 679.4,599.3" stroke-width="1.33"/>
<path d="M621.9,605.3 Q625.5,604.3 628.2,604.1 Q631.0,603.1 633.4,603.0 Q635.7,602.8 638.7,603.1 Q641.0,604.0 643.9,603.4 Q646.2,602.6 649.2,602.1 Q651.8,602.9 654.4,603.0 Q657.6,603.1 659.6,602.8 Q662.7,602.6 664.9,603.6 Q667.7,603.2 670.1,603.9 Q673.2,603.8 675.4,603.4 Q678.1,605.3 681.6,606.1" stroke-width="1.11"/>
<path d="M621.8,611.0 Q624.6,610.8 627.9,609.8 Q630.5,609.2 632.9,608.9 Q635.8,609.5 638.0,608.7 Q640.7,608.9 643.0,608.6 Q646.0,608.3 648.1,608.7 Q651.2,608.2 653.1,608.8 Q655.1,608.9 658.2,608.0 Q660.3,608.3 663.2,609.1 Q665.8,608.2 668.3,608.6 Q670.7,608.5 673.3,609.0 Q675.9,610.3 679.4,611.3" stroke-width="1.07"/>
<path d="M624.7,616.3 Q627.5,614.7 631.2,613.8 Q633.5,613.8 636.7,613.5 Q639.9,613.8 642.2,613.0 Q644.9,613.4 647.7,613.0 Q650.8,613.7 653.2,613.9 Q656.3,613.7 658.7,613.9 Q662.3,615.0 665.2,616.0" stroke-width="1.24"/>
<path d="M667.8,616.1 Q670.4,615.5 672.7,614.0 Q674.1,613.8 676.5,613.0 Q678.8,614.0 681.4,616.5" stroke-width="1.00"/>
<path d="M621.8,623.1 Q625.1,621.2 628.7,619.9 Q631.9,618.8 634.6,619.1 Q637.4,621.7 641.5,622.9" stroke-width="1.01"/>
<path d="M643.7,622.4 Q646.8,620.8 650.4,619.6 Q653.7,620.0 656.0,619.4 Q659.1,618.7 661.7,618.8 Q664.8,619.2 667.3,618.9 Q670.2,618.8 673.0,619.5 Q675.9,620.8 679.6,622.4" stroke-width="0.97"/>
<path d="M623.4,628.4 Q626.1,627.7 629.9,626.5 Q632.1,627.1 635.3,626.8 Q637.7,625.3 640.8,625.3 Q644.2,624.8 646.3,625.3 Q649.2,624.8 651.8,625.7 Q655.1,625.1 657.3,626.0 Q660.3,626.7 662.8,626.2 Q665.3,625.6 668.3,626.5 Q670.5,626.1 673.8,627.0 Q677.3,627.9 680.3,628.7" stroke-width="1.34"/>
<path d="M623.9,634.9 Q626.5,634.4 630.1,632.2 Q632.4,632.4 635.2,631.6 Q637.5,632.4 640.4,631.8 Q643.0,632.4 645.6,631.9 Q648.3,632.4 650.8,632.1 Q652.9,631.3 656.0,631.7 Q658.4,632.5 661.2,632.0 Q664.7,633.6 667.3,634.5" stroke-width="1.16"/>
<path d="M624.1,641.2 Q627.8,640.4 630.6,639.2 Q633.1,639.5 636.0,638.8 Q638.9,637.6 641.5,637.6 Q643.9,638.4 646.9,638.1 Q650.0,637.5 652.3,638.2 Q655.1,638.5 657.8,638.0 Q660.3,637.2 663.2,637.7 Q665.8,639.1 668.7,639.0 Q671.7,638.3 674.1,638.5 Q677.7,639.9 680.5,640.7" stroke-width="0.97"/>
<path d="M622.2,646.9 Q625.8,645.5 629.0,643.5 Q632.2,644.0 634.8,643.8 Q638.6,645.0 641.6,646.7" stroke-width="1.02"/>
<path d="M648.2,646.8 Q651.9,645.8 654.4,644.4 Q657.0,644.2 659.6,643.2 Q662.7,643.6 664.8,642.9 Q667.2,642.9 670.0,642.8 Q673.1,643.7 675.2,644.5 Q678.6,645.5 681.4,646.5" stroke-width="1.30"/>
<path d="M621.5,651.6 Q624.0,650.0 627.7,648.5 Q630.1,648.0 633.0,648.3 Q635.3,648.2 638.2,648.3 Q641.3,650.0 644.4,651.6" stroke-width="1.24"/>
<path d="M652.3,651.8 Q655.4,649.9 658.9,648.9 Q661.8,647.6 664.6,647.7 Q667.5,647.8 670.3,648.1 Q672.5,648.0 676.0,648.6 Q679.9,649.9 682.6,650.9" stroke-width="0.84"/>
<path d="M624.3,656.6 Q627.1,655.6 629.8,653.5 Q632.4,654.1 634.4,654.1 Q636.5,655.2 639.9,656.5" stroke-width="0.95"/>
<path d="M645.8,656.6 Q649.0,656.2 652.6,654.2 Q656.0,654.3 658.4,654.5 Q661.5,654.1 664.1,654.2 Q667.4,653.5 669.9,653.5 Q672.4,653.7 675.7,655.0 Q679.2,655.8 682.5,656.5" stroke-width="1.34"/>
<path d="M621.9,667.1 Q624.9,666.3 628.1,664.6 Q631.2,665.3 633.4,664.9 Q636.1,664.9 638.6,663.8 Q640.8,664.8 643.9,664.3 Q646.0,664.8 649.1,664.0 Q652.1,663.6 654.4,663.5 Q657.4,664.6 659.6,664.2 Q661.9,664.4 664.9,664.1 Q666.9,664.6 670.2,664.7 Q672.3,665.2 675.4,665.2 Q678.0,665.9 681.7,666.9" stroke-width="1.32"/>
<path d="M625.4,673.0 Q628.7,670.9 631.5,670.3 Q634.1,669.6 636.6,669.3 Q639.3,669.4 641.7,669.3 Q644.2,669.5 646.8,668.9 Q649.4,669.6 651.9,669.1 Q654.5,669.9 657.0,669.5 Q659.9,670.0 662.0,669.9 Q664.9,670.9 668.1,671.9" stroke-width="0.85"/>
<path d="M672.0,672.6 Q673.8,671.6 675.4,669.8 Q676.0,668.6 677.7,668.9 Q679.2,670.2 681.1,672.0" stroke-width="0.83"/>
<path d="M622.3,677.5 Q623.9,676.6 626.3,674.3 Q628.2,674.3 629.3,674.0 Q631.5,675.8 633.4,676.9" stroke-width="1.29"/>
<path d="M638.5,677.8 Q641.2,676.2 644.8,675.4 Q647.0,674.3 650.1,674.4 Q653.0,673.9 655.4,674.0 Q658.1,673.6 660.7,673.7 Q663.9,674.2 666.0,674.3 Q668.2,675.2 671.3,675.2 Q673.7,675.3 676.6,675.6 Q679.5,676.3 682.9,677.0" stroke-width="0.98"/>
<path d="M622.1,682.6 Q626.0,681.6 629.4,679.8 Q632.2,679.4 635.6,679.7 Q639.4,681.0 642.9,682.6" stroke-width="1.30"/>
<path d="M721.2,599.0 Q722.5,597.0 724.6,596.3 Q726.1,596.8 727.1,597.0 Q728.2,598.5 730.5,599.7" stroke-width="0.91"/>
<path d="M683.4,604.5 Q687.1,603.3 690.0,602.5 Q692.6,602.4 695.6,602.2 Q698.4,601.9 701.1,602.0 Q703.3,602.4 706.7,602.0 Q709.0,602.3 712.3,601.4 Q714.8,601.2 717.9,601.8 Q720.7,602.8 723.5,602.5 Q726.6,603.5 730.0,604.6" stroke-width="1.05"/>
<path d="M684.2,610.3 Q686.8,608.1 690.7,607.1 Q693.7,606.6 696.2,607.3 Q698.4,606.2 701.7,606.1 Q705.1,606.2 707.2,606.4 Q709.6,606.8 712.8,606.6 Q715.4,606.9 718.3,607.0 Q721.6,607.9 723.8,608.2 Q727.1,609.7 730.3,609.7" stroke-width="1.10"/>
<path d="M686.4,615.3 Q689.5,614.2 692.6,612.6 Q695.2,612.2 697.8,612.3 Q700.8,611.8 703.1,612.6 Q706.2,613.1 708.3,612.1 Q711.3,612.3 713.5,612.7 Q716.1,612.6 718.7,612.8 Q721.3,612.6 723.9,613.3 Q727.4,615.1 730.2,615.8" stroke-width="1.10"/>
<path d="M684.2,622.2 Q687.0,621.4 690.7,619.7 Q694.0,619.6 696.3,619.1 Q698.5,619.2 701.8,618.5 Q704.6,618.7 707.4,617.8 Q709.7,617.6 712.9,618.0 Q716.2,619.2 718.5,619.3 Q721.7,619.2 724.0,619.1 Q727.5,621.2 730.6,621.9" stroke-width="1.20"/>
<path d="M683.6,626.5 Q686.2,624.1 687.6,623.1 Q689.2,623.8 690.6,624.0 Q692.6,625.1 694.6,627.1" stroke-width="1.35"/>
<path d="M699.2,626.0 Q702.2,624.4 705.7,624.0 Q708.9,623.7 711.1,623.8 Q714.2,624.0 716.6,622.9 Q719.1,622.6 722.1,623.9 Q724.8,623.4 727.5,623.9 Q731.2,624.7 734.0,626.5" stroke-width="1.23"/>
<path d="M684.1,631.6 Q686.8,630.5 690.3,628.8 Q692.4,629.1 695.6,628.6 Q698.4,628.5 700.8,628.9 Q703.4,628.6 706.0,628.3 Q708.1,627.7 711.3,628.5 Q713.7,627.6 716.5,628.4 Q718.7,628.2 721.7,628.4 Q724.5,629.2 727.0,629.8 Q729.7,630.9 733.2,631.2" stroke-width="1.28"/>
<path d="M685.8,637.0 Q689.3,636.1 691.8,635.5 Q694.5,634.6 696.8,634.9 Q699.4,634.8 701.8,634.4 Q704.7,635.0 706.9,634.1 Q709.3,633.9 711.9,634.4 Q714.0,634.2 716.9,634.6 Q719.4,635.5 721.9,634.8 Q724.5,635.1 727.0,634.7 Q730.3,635.1 733.0,637.1" stroke-width="0.94"/>
<path d="M683.2,642.7 Q686.4,641.2 689.6,640.5 Q692.3,639.9 694.9,640.8 Q697.2,639.8 700.3,640.0 Q703.2,640.1 705.6,639.6 Q708.0,639.5 711.0,640.1 Q714.0,640.0 716.3,640.2 Q718.8,641.3 721.7,641.0 Q724.4,640.8 727.0,640.5 Q730.4,641.2 733.4,643.4" stroke-width="1.04"/>
<path d="M709.6,648.8 Q713.6,647.5 716.9,646.1 Q720.2,646.0 723.2,646.1 Q726.6,647.8 730.4,649.6" stroke-width="1.18"/>
<path d="M686.4,661.8 Q690.3,660.7 693.2,658.3 Q695.6,658.5 699.0,658.6 Q702.7,659.4 705.9,661.2" stroke-width="0.82"/>
<path d="M684.7,674.0 Q687.7,672.2 690.8,671.6 Q693.0,671.2 695.9,670.7 Q698.7,670.7 701.0,670.0 Q703.7,670.4 706.0,670.3 Q708.0,670.1 711.1,670.8 Q713.5,670.5 716.2,670.9 Q718.6,670.5 721.3,670.3 Q723.6,670.0 726.4,671.2 Q729.8,673.1 732.4,673.5" stroke-width="1.17"/>
<path d="M684.8,679.0 Q687.5,677.6 691.2,677.2 Q694.3,676.8 696.7,676.2 Q699.7,675.8 702.1,675.1 Q704.7,675.8 707.6,675.5 Q709.9,675.6 713.0,676.1 Q715.6,676.1 718.5,675.6 Q721.5,675.9 723.9,676.1 Q727.3,676.8 730.4,678.2" stroke-width="1.16"/>
<path d="M684.8,685.1 Q687.6,684.0 691.3,682.4 Q694.0,681.8 696.8,681.9 Q699.3,682.4 702.3,681.5 Q705.1,682.4 707.9,681.8 Q710.4,681.5 713.4,682.1 Q716.4,682.9 718.9,682.5 Q721.3,683.1 724.5,682.5 Q727.8,684.3 731.0,684.8" stroke-width="1.37"/>
<path d="M734.7,601.3 Q738.1,599.8 741.2,599.1 Q744.1,598.5 746.7,597.6 Q749.8,598.6 752.2,598.1 Q755.5,598.4 757.7,598.8 Q760.7,599.5 764.2,601.0" stroke-width="1.27"/>
<path d="M737.2,607.6 Q741.1,606.0 744.0,604.8 Q747.3,604.3 749.9,604.5 Q752.8,605.3 755.8,604.8 Q759.8,607.0 762.7,607.7" stroke-width="1.25"/>
<path d="M737.0,620.0 Q740.7,618.6 744.0,617.0 Q746.8,616.2 750.1,616.6 Q753.2,616.0 756.1,616.6 Q759.9,617.7 763.1,619.8" stroke-width="1.26"/>
<path d="M737.6,625.5 Q740.7,623.6 743.7,622.4 Q745.8,622.8 748.8,621.9 Q750.9,622.8 753.9,622.1 Q756.9,622.2 759.0,622.4 Q762.5,623.0 765.1,625.0" stroke-width="1.14"/>
<path d="M735.2,630.1 Q737.7,628.8 741.2,628.2 Q743.8,628.0 746.3,627.1 Q748.2,627.8 751.3,627.4 Q754.3,628.7 756.4,628.5 Q759.0,629.3 762.4,630.9" stroke-width="1.30"/>
<path d="M735.0,636.5 Q738.3,634.8 741.8,633.5 Q745.1,633.4 747.6,633.5 Q750.1,633.2 753.4,633.0 Q756.8,633.6 759.1,633.7 Q762.1,634.8 765.9,636.1" stroke-width="1.08"/>
<path d="M737.8,640.8 Q741.0,639.7 744.5,637.9 Q747.7,637.8 750.1,637.5 Q752.7,637.0 755.7,637.7 Q759.2,639.8 762.3,641.3" stroke-width="1.27"/>
<path d="M734.2,651.6 Q738.0,651.0 740.7,650.0 Q743.7,650.0 746.1,649.4 Q748.5,650.0 751.6,649.5 Q754.5,649.2 757.0,649.9 Q760.1,650.3 763.5,651.9" stroke-width="1.06"/>
<path d="M737.0,663.7 Q740.4,662.2 743.3,660.5 Q745.7,660.4 748.6,660.0 Q750.6,660.1 753.9,660.4 Q756.9,660.5 759.2,661.6 Q762.5,663.0 765.5,663.8" stroke-width="0.89"/>
<path d="M735.0,670.4 Q737.5,668.8 741.0,667.7 Q744.0,667.2 746.0,666.6 Q748.2,666.7 751.1,666.3 Q753.5,667.5 756.1,667.4 Q759.1,667.9 762.1,669.9" stroke-width="0.90"/>
<path d="M737.8,674.6 Q741.4,673.1 745.0,672.3 Q748.3,671.8 751.2,672.2 Q753.9,672.1 757.4,672.7 Q760.5,673.9 764.6,674.5" stroke-width="0.97"/>
<path d="M735.1,680.7 Q738.8,678.3 741.6,677.5 Q744.0,678.0 747.1,677.4 Q749.3,676.8 752.5,677.0 Q755.0,677.7 758.0,677.4 Q760.8,679.4 764.5,680.0" stroke-width="0.87"/>
</g>
<path d="M583,641 C600,636 612,634 621,633 C640,640 665,646 683,645 C700,640 720,622 734,618 C745,616 755,617 766,620" fill="none" stroke="#cfa9d9" stroke-width="1.6" opacity="0.9" clip-path="url(#cFrontB)"/>
<path d="M583,680 C595,676 608,674 618,673 C640,676 665,672 683,673 C700,668 720,664 734,661 C748,662 758,664 766,664" fill="none" stroke="#cfa9d9" stroke-width="1.6" opacity="0.9" clip-path="url(#cFrontB)"/>
<path d="M622.3,598.0 Q622.1,601.5 621.7,604.0 Q622.0,607.3 621.5,610.0 Q620.8,613.5 621.3,616.0 Q620.5,619.6 620.8,622.0 Q621.3,625.4 623.0,628.0 Q622.3,630.2 621.2,634.0 Q621.9,637.1 621.9,640.0 Q621.4,643.6 621.7,646.0 Q622.4,648.9 622.9,652.0 Q622.3,654.5 620.7,658.0 Q620.2,661.6 620.5,664.0 Q621.2,667.5 622.7,670.0 Q621.8,673.5 621.5,676.0 Q621.6,679.2 621.9,682.0" stroke="#4a2c12" stroke-width="2.6" fill="none" clip-path="url(#cFrontB)"/>
<ellipse cx="621.5" cy="632.5" rx="9" ry="16" fill="url(#lacG)" clip-path="url(#cFrontB)"/>
<path d="M621.5,615.5 C623.0,623.5 624.5,627.5 630.5,631.5 C625.5,634.5 623.5,639.5 621.5,649.5 C619.5,639.5 617.5,634.5 612.5,633.5 C618.5,628.5 620.0,623.5 621.5,615.5 Z" fill="#d3acdc" stroke="#5c3a1a" stroke-width="0.7" clip-path="url(#cFrontB)"/>
<ellipse cx="621.5" cy="632.5" rx="2.8" ry="5.5" fill="#8388c8" transform="rotate(8 621.5 632.5)"/>
<ellipse cx="621.5" cy="673.4" rx="9" ry="16" fill="url(#lacG)" clip-path="url(#cFrontB)"/>
<path d="M621.5,656.4 C623.0,664.4 624.5,668.4 630.5,672.4 C625.5,675.4 623.5,680.4 621.5,690.4 C619.5,680.4 617.5,675.4 612.5,674.4 C618.5,669.4 620.0,664.4 621.5,656.4 Z" fill="#d3acdc" stroke="#5c3a1a" stroke-width="0.7" clip-path="url(#cFrontB)"/>
<ellipse cx="621.5" cy="673.4" rx="2.8" ry="5.5" fill="#8388c8" transform="rotate(8 621.5 673.4)"/>
<path d="M683.3,598.0 Q683.3,601.4 682.7,604.0 Q682.4,607.1 683.1,610.0 Q683.4,613.8 683.4,616.0 Q682.4,618.9 681.9,622.0 Q683.6,624.4 684.2,628.0 Q684.6,630.8 684.0,634.0 Q682.9,637.8 682.1,640.0 Q682.0,642.6 682.2,646.0 Q682.1,649.3 682.7,652.0 Q683.4,654.6 683.8,658.0 Q683.4,660.7 683.1,664.0 Q683.2,666.8 682.4,670.0 Q683.3,673.7 683.8,676.0 Q682.6,679.7 682.1,682.0" stroke="#4a2c12" stroke-width="2.6" fill="none" clip-path="url(#cFrontB)"/>
<ellipse cx="683" cy="643.7" rx="9" ry="16" fill="url(#lacG)" clip-path="url(#cFrontB)"/>
<path d="M683,626.7 C684.5,634.7 686,638.7 692,642.7 C687,645.7 685,650.7 683,660.7 C681,650.7 679,645.7 674,644.7 C680,639.7 681.5,634.7 683,626.7 Z" fill="#d3acdc" stroke="#5c3a1a" stroke-width="0.7" clip-path="url(#cFrontB)"/>
<ellipse cx="683" cy="643.7" rx="2.8" ry="5.5" fill="#8388c8" transform="rotate(8 683 643.7)"/>
<ellipse cx="683" cy="674.8" rx="9" ry="16" fill="url(#lacG)" clip-path="url(#cFrontB)"/>
<path d="M683,657.8 C684.5,665.8 686,669.8 692,673.8 C687,676.8 685,681.8 683,691.8 C681,681.8 679,676.8 674,675.8 C680,670.8 681.5,665.8 683,657.8 Z" fill="#d3acdc" stroke="#5c3a1a" stroke-width="0.7" clip-path="url(#cFrontB)"/>
<ellipse cx="683" cy="674.8" rx="2.8" ry="5.5" fill="#8388c8" transform="rotate(8 683 674.8)"/>
<path d="M734.0,598.0 Q733.7,601.2 734.4,604.0 Q734.3,607.3 733.3,610.0 Q734.3,612.7 734.6,616.0 Q734.1,618.9 734.7,622.0 Q734.1,624.7 734.3,628.0 Q734.4,630.5 735.1,634.0 Q734.7,637.2 733.9,640.0 Q733.6,643.8 732.5,646.0 Q733.6,649.7 735.2,652.0 Q735.0,655.1 734.2,658.0 Q734.8,661.0 734.3,664.0 Q733.8,666.4 734.3,670.0 Q733.2,673.3 732.6,676.0 Q733.1,679.3 733.4,682.0" stroke="#4a2c12" stroke-width="2.6" fill="none" clip-path="url(#cFrontB)"/>
<ellipse cx="734" cy="618" rx="9" ry="16" fill="url(#lacG)" clip-path="url(#cFrontB)"/>
<path d="M734,601 C735.5,609 737,613 743,617 C738,620 736,625 734,635 C732,625 730,620 725,619 C731,614 732.5,609 734,601 Z" fill="#d3acdc" stroke="#5c3a1a" stroke-width="0.7" clip-path="url(#cFrontB)"/>
<ellipse cx="734" cy="618" rx="2.8" ry="5.5" fill="#8388c8" transform="rotate(8 734 618)"/>
<ellipse cx="734" cy="661" rx="9" ry="16" fill="url(#lacG)" clip-path="url(#cFrontB)"/>
<path d="M734,644 C735.5,652 737,656 743,660 C738,663 736,668 734,678 C732,668 730,663 725,662 C731,657 732.5,652 734,644 Z" fill="#d3acdc" stroke="#5c3a1a" stroke-width="0.7" clip-path="url(#cFrontB)"/>
<ellipse cx="734" cy="661" rx="2.8" ry="5.5" fill="#8388c8" transform="rotate(8 734 661)"/>
<path d="M538,590 Q538,584 545,584 L578,585 Q588,587 588,598 Q588,606 582,613 L582,680 Q578,662 566,652 Q556,646 538,648 Z" fill="url(#canalG)"/>
<path d="M538,592 Q538,584 545,584 L578,585 Q588,587 588,598 Q588,606 582,613" fill="none" stroke="#f2dcb5" stroke-width="2"/>
<path d="M538.5,590 L538.5,648" stroke="#f0d8b0" stroke-width="1"/>
<path d="M582.5,613 L582.5,680" stroke="#eed9bd" stroke-width="1"/>
<path d="M583,613.5 L764,585.5" stroke="#ecd9b4" stroke-width="1.5"/>
<path d="M398,667 C415,640 450,624 498,621 L497,606 L526,629 L500,654 L499,641 C455,640 425,648 398,667 Z" fill="#1f5e44" transform="translate(1.5,2)" opacity="0.55"/>
<path d="M398,667 C415,640 450,624 498,621 L497,606 L526,629 L500,654 L499,641 C455,640 425,648 398,667 Z" fill="url(#arrowG)"/>
<path d="M292.0,656.0 C311.3,659.7 311.5,653.0 350.0,667.0 C388.5,681.0 378.3,680.5 407.5,698.0 C436.7,715.5 415.1,700.5 437.7,719.6 C460.3,738.7 450.3,733.4 475.4,755.4 C500.5,777.4 489.1,770.4 513.0,785.5 C536.9,800.6 535.7,795.6 547.0,800.6 L503.7,802.5 C495.5,791.2 494.7,788.1 479.0,768.6 C463.3,749.1 480.5,764.9 456.5,744.0 C432.5,723.1 442.5,729.3 407.0,706.0 C371.5,682.7 388.3,688.7 350.0,674.0 C311.7,659.3 311.3,666.0 292.0,662.0 Z" fill="#bdb3cc"/>
<path d="M291.5,659.0 C310.8,662.7 311.0,656.0 349.5,670.0 C388.0,684.0 377.8,683.5 407.0,701.0 C436.2,718.5 414.6,703.5 437.2,722.6 C459.8,741.7 449.8,736.4 474.9,758.4 C500.0,780.4 488.6,773.4 512.5,788.5 C536.4,803.6 535.2,798.6 546.5,803.6" fill="none" stroke="#e2dcea" stroke-width="5"/>
<path d="M291.0,660.5 C310.3,664.2 310.5,657.5 349.0,671.5 C387.5,685.5 377.3,685.0 406.5,702.5 C435.7,720.0 414.1,705.0 436.7,724.1 C459.3,743.2 449.3,737.9 474.4,759.9 C499.5,781.9 488.1,774.9 512.0,790.0 C535.9,805.1 534.7,800.1 546.0,805.1" fill="none" stroke="#f6f4f9" stroke-width="1.2"/>
<path d="M292.0,656.0 C311.3,659.7 311.5,653.0 350.0,667.0 C388.5,681.0 378.3,680.5 407.5,698.0 C436.7,715.5 415.1,700.5 437.7,719.6 C460.3,738.7 450.3,733.4 475.4,755.4 C500.5,777.4 489.1,770.4 513.0,785.5 C536.9,800.6 535.7,795.6 547.0,800.6" fill="none" stroke="#a79fbb" stroke-width="1.1"/>
<path d="M292.0,662.0 C311.3,666.0 311.7,659.3 350.0,674.0 C388.3,688.7 371.5,682.7 407.0,706.0 C442.5,729.3 432.5,723.1 456.5,744.0 C480.5,764.9 463.3,749.1 479.0,768.6 C494.7,788.1 495.5,791.2 503.7,802.5 L300,806 L300,822 L262,798 L230,768 L210,750 L212,742 Z" fill="#f3ebd5"/>
<g clip-path="url(#cTopA)">
<ellipse cx="253.6" cy="702.7" rx="26" ry="19" fill="url(#halo)"/>
<ellipse cx="290" cy="692.5" rx="26" ry="19" fill="url(#halo)"/>
<ellipse cx="323" cy="702" rx="26" ry="19" fill="url(#halo)"/>
<ellipse cx="357" cy="701.4" rx="26" ry="19" fill="url(#halo)"/>
<ellipse cx="229.8" cy="719.5" rx="26" ry="19" fill="url(#halo)"/>
<ellipse cx="257.7" cy="732.9" rx="26" ry="19" fill="url(#halo)"/>
<ellipse cx="290" cy="717" rx="26" ry="19" fill="url(#halo)"/>
<ellipse cx="333.8" cy="728" rx="26" ry="19" fill="url(#halo)"/>
<ellipse cx="295" cy="750.7" rx="26" ry="19" fill="url(#halo)"/>
<ellipse cx="361.7" cy="750.7" rx="26" ry="19" fill="url(#halo)"/>
<ellipse cx="408.8" cy="752" rx="26" ry="19" fill="url(#halo)"/>
<ellipse cx="384.7" cy="777.7" rx="26" ry="19" fill="url(#halo)"/>
<ellipse cx="441.3" cy="773" rx="26" ry="19" fill="url(#halo)"/>
<ellipse cx="270" cy="772" rx="26" ry="19" fill="url(#halo)"/>
<ellipse cx="470" cy="792" rx="26" ry="19" fill="url(#halo)"/>
<ellipse cx="335" cy="792" rx="26" ry="19" fill="url(#halo)"/>
<ellipse cx="238" cy="748" rx="26" ry="19" fill="url(#halo)"/>
<ellipse cx="300" cy="790" rx="26" ry="19" fill="url(#halo)"/>
<ellipse cx="415" cy="800" rx="26" ry="19" fill="url(#halo)"/>
<ellipse cx="462" cy="760" rx="26" ry="19" fill="url(#halo)"/>
<ellipse cx="380" cy="725" rx="26" ry="19" fill="url(#halo)"/>
</g>
<g clip-path="url(#cTopA)" fill="none" stroke="#bfa07a" stroke-width="0.8" stroke-dasharray="3.5 2.5">
<path d="M290.1,665.5 C309.4,669.5 309.7,662.8 348.1,677.5 C386.4,692.2 369.6,686.2 405.1,709.5 C440.6,732.8 430.6,726.6 454.6,747.5 C478.6,768.4 461.3,752.6 477.1,772.1 C492.8,791.6 493.5,794.7 501.8,806.0"/>
<path d="M287.9,669.5 C307.2,673.5 307.5,666.8 345.9,681.5 C384.2,696.2 367.4,690.2 402.9,713.5 C438.4,736.8 428.4,730.6 452.4,751.5 C476.4,772.4 459.1,756.6 474.9,776.1 C490.6,795.6 491.3,798.7 499.6,810.0"/>
<path d="M285.7,673.5 C305.0,677.5 305.3,670.8 343.7,685.5 C382.0,700.2 365.2,694.2 400.7,717.5 C436.2,740.8 426.2,734.6 450.2,755.5 C474.2,776.4 456.9,760.6 472.7,780.1 C488.4,799.6 489.1,802.7 497.4,814.0"/>
<path d="M283.5,677.5 C302.8,681.5 303.1,674.8 341.5,689.5 C379.8,704.2 363.0,698.2 398.5,721.5 C434.0,744.8 424.0,738.6 448.0,759.5 C472.0,780.4 454.7,764.6 470.5,784.1 C486.2,803.6 486.9,806.7 495.2,818.0"/>
<ellipse cx="253.6" cy="702.7" rx="7.1" ry="5.1" stroke-dashoffset="0.6"/>
<ellipse cx="253.6" cy="702.7" rx="12.4" ry="8.9" stroke-dashoffset="2.5"/>
<ellipse cx="253.6" cy="702.7" rx="17.7" ry="12.8" stroke-dashoffset="3.0"/>
<ellipse cx="253.6" cy="702.7" rx="23.0" ry="16.6" stroke-dashoffset="0.1"/>
<ellipse cx="290" cy="692.5" rx="7.1" ry="5.1" stroke-dashoffset="0.7"/>
<ellipse cx="290" cy="692.5" rx="12.4" ry="8.9" stroke-dashoffset="4.6"/>
<ellipse cx="290" cy="692.5" rx="17.7" ry="12.8" stroke-dashoffset="0.4"/>
<ellipse cx="290" cy="692.5" rx="23.0" ry="16.6" stroke-dashoffset="0.6"/>
<ellipse cx="323" cy="702" rx="7.1" ry="5.1" stroke-dashoffset="4.7"/>
<ellipse cx="323" cy="702" rx="12.4" ry="8.9" stroke-dashoffset="3.1"/>
<ellipse cx="323" cy="702" rx="17.7" ry="12.8" stroke-dashoffset="1.8"/>
<ellipse cx="323" cy="702" rx="23.0" ry="16.6" stroke-dashoffset="2.6"/>
<ellipse cx="357" cy="701.4" rx="7.1" ry="5.1" stroke-dashoffset="3.3"/>
<ellipse cx="357" cy="701.4" rx="12.4" ry="8.9" stroke-dashoffset="1.4"/>
<ellipse cx="357" cy="701.4" rx="17.7" ry="12.8" stroke-dashoffset="0.7"/>
<ellipse cx="357" cy="701.4" rx="23.0" ry="16.6" stroke-dashoffset="3.9"/>
<ellipse cx="229.8" cy="719.5" rx="7.1" ry="5.1" stroke-dashoffset="3.4"/>
<ellipse cx="229.8" cy="719.5" rx="12.4" ry="8.9" stroke-dashoffset="2.6"/>
<ellipse cx="229.8" cy="719.5" rx="17.7" ry="12.8" stroke-dashoffset="4.1"/>
<ellipse cx="229.8" cy="719.5" rx="23.0" ry="16.6" stroke-dashoffset="2.7"/>
<ellipse cx="257.7" cy="732.9" rx="7.1" ry="5.1" stroke-dashoffset="4.9"/>
<ellipse cx="257.7" cy="732.9" rx="12.4" ry="8.9" stroke-dashoffset="1.0"/>
<ellipse cx="257.7" cy="732.9" rx="17.7" ry="12.8" stroke-dashoffset="2.8"/>
<ellipse cx="257.7" cy="732.9" rx="23.0" ry="16.6" stroke-dashoffset="2.4"/>
<ellipse cx="290" cy="717" rx="7.1" ry="5.1" stroke-dashoffset="1.8"/>
<ellipse cx="290" cy="717" rx="12.4" ry="8.9" stroke-dashoffset="3.0"/>
<ellipse cx="290" cy="717" rx="17.7" ry="12.8" stroke-dashoffset="1.2"/>
<ellipse cx="290" cy="717" rx="23.0" ry="16.6" stroke-dashoffset="4.0"/>
<ellipse cx="333.8" cy="728" rx="7.1" ry="5.1" stroke-dashoffset="4.3"/>
<ellipse cx="333.8" cy="728" rx="12.4" ry="8.9" stroke-dashoffset="0.6"/>
<ellipse cx="333.8" cy="728" rx="17.7" ry="12.8" stroke-dashoffset="2.3"/>
<ellipse cx="333.8" cy="728" rx="23.0" ry="16.6" stroke-dashoffset="1.4"/>
<ellipse cx="295" cy="750.7" rx="7.1" ry="5.1" stroke-dashoffset="0.4"/>
<ellipse cx="295" cy="750.7" rx="12.4" ry="8.9" stroke-dashoffset="4.5"/>
<ellipse cx="295" cy="750.7" rx="17.7" ry="12.8" stroke-dashoffset="2.1"/>
<ellipse cx="295" cy="750.7" rx="23.0" ry="16.6" stroke-dashoffset="0.7"/>
<ellipse cx="361.7" cy="750.7" rx="7.1" ry="5.1" stroke-dashoffset="3.4"/>
<ellipse cx="361.7" cy="750.7" rx="12.4" ry="8.9" stroke-dashoffset="1.0"/>
<ellipse cx="361.7" cy="750.7" rx="17.7" ry="12.8" stroke-dashoffset="4.5"/>
<ellipse cx="361.7" cy="750.7" rx="23.0" ry="16.6" stroke-dashoffset="1.1"/>
<ellipse cx="408.8" cy="752" rx="7.1" ry="5.1" stroke-dashoffset="0.2"/>
<ellipse cx="408.8" cy="752" rx="12.4" ry="8.9" stroke-dashoffset="1.0"/>
<ellipse cx="408.8" cy="752" rx="17.7" ry="12.8" stroke-dashoffset="1.7"/>
<ellipse cx="408.8" cy="752" rx="23.0" ry="16.6" stroke-dashoffset="2.3"/>
<ellipse cx="384.7" cy="777.7" rx="7.1" ry="5.1" stroke-dashoffset="4.5"/>
<ellipse cx="384.7" cy="777.7" rx="12.4" ry="8.9" stroke-dashoffset="3.5"/>
<ellipse cx="384.7" cy="777.7" rx="17.7" ry="12.8" stroke-dashoffset="1.7"/>
<ellipse cx="384.7" cy="777.7" rx="23.0" ry="16.6" stroke-dashoffset="0.1"/>
<ellipse cx="441.3" cy="773" rx="7.1" ry="5.1" stroke-dashoffset="0.8"/>
<ellipse cx="441.3" cy="773" rx="12.4" ry="8.9" stroke-dashoffset="5.0"/>
<ellipse cx="441.3" cy="773" rx="17.7" ry="12.8" stroke-dashoffset="2.3"/>
<ellipse cx="441.3" cy="773" rx="23.0" ry="16.6" stroke-dashoffset="3.5"/>
<ellipse cx="270" cy="772" rx="7.1" ry="5.1" stroke-dashoffset="0.3"/>
<ellipse cx="270" cy="772" rx="12.4" ry="8.9" stroke-dashoffset="0.2"/>
<ellipse cx="270" cy="772" rx="17.7" ry="12.8" stroke-dashoffset="4.2"/>
<ellipse cx="270" cy="772" rx="23.0" ry="16.6" stroke-dashoffset="2.9"/>
<ellipse cx="470" cy="792" rx="7.1" ry="5.1" stroke-dashoffset="1.5"/>
<ellipse cx="470" cy="792" rx="12.4" ry="8.9" stroke-dashoffset="1.6"/>
<ellipse cx="470" cy="792" rx="17.7" ry="12.8" stroke-dashoffset="0.4"/>
<ellipse cx="470" cy="792" rx="23.0" ry="16.6" stroke-dashoffset="0.9"/>
<ellipse cx="335" cy="792" rx="7.1" ry="5.1" stroke-dashoffset="0.1"/>
<ellipse cx="335" cy="792" rx="12.4" ry="8.9" stroke-dashoffset="4.2"/>
<ellipse cx="335" cy="792" rx="17.7" ry="12.8" stroke-dashoffset="2.3"/>
<ellipse cx="335" cy="792" rx="23.0" ry="16.6" stroke-dashoffset="0.6"/>
<ellipse cx="238" cy="748" rx="7.1" ry="5.1" stroke-dashoffset="3.7"/>
<ellipse cx="238" cy="748" rx="12.4" ry="8.9" stroke-dashoffset="1.0"/>
<ellipse cx="238" cy="748" rx="17.7" ry="12.8" stroke-dashoffset="0.3"/>
<ellipse cx="238" cy="748" rx="23.0" ry="16.6" stroke-dashoffset="3.0"/>
<ellipse cx="300" cy="790" rx="7.1" ry="5.1" stroke-dashoffset="4.5"/>
<ellipse cx="300" cy="790" rx="12.4" ry="8.9" stroke-dashoffset="0.1"/>
<ellipse cx="300" cy="790" rx="17.7" ry="12.8" stroke-dashoffset="4.0"/>
<ellipse cx="300" cy="790" rx="23.0" ry="16.6" stroke-dashoffset="1.0"/>
<ellipse cx="415" cy="800" rx="7.1" ry="5.1" stroke-dashoffset="0.5"/>
<ellipse cx="415" cy="800" rx="12.4" ry="8.9" stroke-dashoffset="0.1"/>
<ellipse cx="415" cy="800" rx="17.7" ry="12.8" stroke-dashoffset="1.5"/>
<ellipse cx="415" cy="800" rx="23.0" ry="16.6" stroke-dashoffset="3.6"/>
<ellipse cx="462" cy="760" rx="7.1" ry="5.1" stroke-dashoffset="2.5"/>
<ellipse cx="462" cy="760" rx="12.4" ry="8.9" stroke-dashoffset="4.3"/>
<ellipse cx="462" cy="760" rx="17.7" ry="12.8" stroke-dashoffset="1.1"/>
<ellipse cx="462" cy="760" rx="23.0" ry="16.6" stroke-dashoffset="1.6"/>
<ellipse cx="380" cy="725" rx="7.1" ry="5.1" stroke-dashoffset="1.3"/>
<ellipse cx="380" cy="725" rx="12.4" ry="8.9" stroke-dashoffset="4.9"/>
<ellipse cx="380" cy="725" rx="17.7" ry="12.8" stroke-dashoffset="4.7"/>
<ellipse cx="380" cy="725" rx="23.0" ry="16.6" stroke-dashoffset="1.7"/>
</g>
<ellipse cx="253.6" cy="702.7" rx="5.5" ry="3.8" fill="#fdf7ea"/>
<ellipse cx="253.6" cy="702.7" rx="3.3" ry="2.3" fill="#c8261b" stroke="#8a1810" stroke-width="0.7"/>
<ellipse cx="290" cy="692.5" rx="5.5" ry="3.8" fill="#fdf7ea"/>
<ellipse cx="290" cy="692.5" rx="3.3" ry="2.3" fill="#c8261b" stroke="#8a1810" stroke-width="0.7"/>
<ellipse cx="323" cy="702" rx="5.5" ry="3.8" fill="#fdf7ea"/>
<ellipse cx="323" cy="702" rx="3.3" ry="2.3" fill="#c8261b" stroke="#8a1810" stroke-width="0.7"/>
<ellipse cx="357" cy="701.4" rx="5.5" ry="3.8" fill="#fdf7ea"/>
<ellipse cx="357" cy="701.4" rx="3.3" ry="2.3" fill="#c8261b" stroke="#8a1810" stroke-width="0.7"/>
<ellipse cx="229.8" cy="719.5" rx="5.5" ry="3.8" fill="#fdf7ea"/>
<ellipse cx="229.8" cy="719.5" rx="3.3" ry="2.3" fill="#c8261b" stroke="#8a1810" stroke-width="0.7"/>
<ellipse cx="257.7" cy="732.9" rx="5.5" ry="3.8" fill="#fdf7ea"/>
<ellipse cx="257.7" cy="732.9" rx="3.3" ry="2.3" fill="#c8261b" stroke="#8a1810" stroke-width="0.7"/>
<ellipse cx="290" cy="717" rx="5.5" ry="3.8" fill="#fdf7ea"/>
<ellipse cx="290" cy="717" rx="3.3" ry="2.3" fill="#c8261b" stroke="#8a1810" stroke-width="0.7"/>
<ellipse cx="333.8" cy="728" rx="5.5" ry="3.8" fill="#fdf7ea"/>
<ellipse cx="333.8" cy="728" rx="3.3" ry="2.3" fill="#c8261b" stroke="#8a1810" stroke-width="0.7"/>
<ellipse cx="295" cy="750.7" rx="5.5" ry="3.8" fill="#fdf7ea"/>
<ellipse cx="295" cy="750.7" rx="3.3" ry="2.3" fill="#c8261b" stroke="#8a1810" stroke-width="0.7"/>
<ellipse cx="361.7" cy="750.7" rx="5.5" ry="3.8" fill="#fdf7ea"/>
<ellipse cx="361.7" cy="750.7" rx="3.3" ry="2.3" fill="#c8261b" stroke="#8a1810" stroke-width="0.7"/>
<ellipse cx="408.8" cy="752" rx="5.5" ry="3.8" fill="#fdf7ea"/>
<ellipse cx="408.8" cy="752" rx="3.3" ry="2.3" fill="#c8261b" stroke="#8a1810" stroke-width="0.7"/>
<ellipse cx="384.7" cy="777.7" rx="5.5" ry="3.8" fill="#fdf7ea"/>
<ellipse cx="384.7" cy="777.7" rx="3.3" ry="2.3" fill="#c8261b" stroke="#8a1810" stroke-width="0.7"/>
<ellipse cx="441.3" cy="773" rx="5.5" ry="3.8" fill="#fdf7ea"/>
<ellipse cx="441.3" cy="773" rx="3.3" ry="2.3" fill="#c8261b" stroke="#8a1810" stroke-width="0.7"/>
<g clip-path="url(#cTopA)" fill="none">
<path d="M210.0,752.0 Q213.8,754.8 218.0,758.7 Q222.7,758.9 226.0,761.8 Q228.7,760.9 234.0,760.6 Q237.2,760.0 242.0,757.3 Q246.7,756.9 250.0,756.1 Q254.5,758.3 258.0,759.4 Q262.8,764.0 266.0,766.1 Q268.9,769.8 274.0,772.8 Q276.9,774.1 282.0,775.8 Q286.9,776.3 290.0,774.5 Q294.8,771.5 298.0,771.3 Q301.6,769.7 306.0,770.1" stroke="#fbf7ee" stroke-width="2.5"/>
<path d="M210.0,752.0 Q213.8,754.8 218.0,758.7 Q222.7,758.9 226.0,761.8 Q228.7,760.9 234.0,760.6 Q237.2,760.0 242.0,757.3 Q246.7,756.9 250.0,756.1 Q254.5,758.3 258.0,759.4 Q262.8,764.0 266.0,766.1 Q268.9,769.8 274.0,772.8 Q276.9,774.1 282.0,775.8 Q286.9,776.3 290.0,774.5 Q294.8,771.5 298.0,771.3 Q301.6,769.7 306.0,770.1" stroke="#b08a60" stroke-width="0.8" stroke-dasharray="3 2" transform="translate(0,2.5)"/>
<path d="M210.0,764.0 Q215.5,764.3 218.0,766.7 Q221.2,765.4 226.0,765.0 Q228.7,764.5 234.0,761.8 Q238.4,760.4 242.0,761.0 Q246.0,761.6 250.0,764.8 Q254.3,767.4 258.0,771.7 Q260.6,773.7 266.0,778.1 Q270.2,779.8 274.0,780.6 Q277.5,780.2 282.0,778.9 Q285.6,776.2 290.0,775.7 Q293.4,775.1 298.0,775.0 Q303.2,775.8 306.0,778.8" stroke="#fbf7ee" stroke-width="2.5"/>
<path d="M210.0,764.0 Q215.5,764.3 218.0,766.7 Q221.2,765.4 226.0,765.0 Q228.7,764.5 234.0,761.8 Q238.4,760.4 242.0,761.0 Q246.0,761.6 250.0,764.8 Q254.3,767.4 258.0,771.7 Q260.6,773.7 266.0,778.1 Q270.2,779.8 274.0,780.6 Q277.5,780.2 282.0,778.9 Q285.6,776.2 290.0,775.7 Q293.4,775.1 298.0,775.0 Q303.2,775.8 306.0,778.8" stroke="#b08a60" stroke-width="0.8" stroke-dasharray="3 2" transform="translate(0,2.5)"/>
<path d="M210.0,771.5 Q212.8,770.6 218.0,769.4 Q223.4,769.1 226.0,766.3 Q230.6,764.9 234.0,766.0 Q238.9,768.7 242.0,770.2 Q244.9,773.6 250.0,777.3 Q252.6,781.2 258.0,783.4 Q262.7,785.3 266.0,785.4 Q270.8,783.7 274.0,783.3 Q278.9,781.0 282.0,780.2 Q284.9,779.8 290.0,780.0 Q294.0,781.5 298.0,784.3 Q302.3,788.1 306.0,791.4" stroke="#fbf7ee" stroke-width="2.5"/>
<path d="M210.0,771.5 Q212.8,770.6 218.0,769.4 Q223.4,769.1 226.0,766.3 Q230.6,764.9 234.0,766.0 Q238.9,768.7 242.0,770.2 Q244.9,773.6 250.0,777.3 Q252.6,781.2 258.0,783.4 Q262.7,785.3 266.0,785.4 Q270.8,783.7 274.0,783.3 Q278.9,781.0 282.0,780.2 Q284.9,779.8 290.0,780.0 Q294.0,781.5 298.0,784.3 Q302.3,788.1 306.0,791.4" stroke="#b08a60" stroke-width="0.8" stroke-dasharray="3 2" transform="translate(0,2.5)"/>
<path d="M210.0,773.8 Q213.2,772.7 218.0,770.9 Q221.6,771.7 226.0,771.0 Q229.4,774.3 234.0,775.7 Q237.7,779.4 242.0,782.9 Q246.5,785.8 250.0,788.6 Q253.3,790.8 258.0,790.1 Q260.8,788.4 266.0,787.7 Q270.1,784.9 274.0,784.8 Q277.0,785.8 282.0,785.0 Q286.9,787.8 290.0,789.8 Q295.2,794.1 298.0,797.0 Q301.4,800.2 306.0,802.7" stroke="#fbf7ee" stroke-width="2.5"/>
<path d="M210.0,773.8 Q213.2,772.7 218.0,770.9 Q221.6,771.7 226.0,771.0 Q229.4,774.3 234.0,775.7 Q237.7,779.4 242.0,782.9 Q246.5,785.8 250.0,788.6 Q253.3,790.8 258.0,790.1 Q260.8,788.4 266.0,787.7 Q270.1,784.9 274.0,784.8 Q277.0,785.8 282.0,785.0 Q286.9,787.8 290.0,789.8 Q295.2,794.1 298.0,797.0 Q301.4,800.2 306.0,802.7" stroke="#b08a60" stroke-width="0.8" stroke-dasharray="3 2" transform="translate(0,2.5)"/>
<path d="M210.0,775.5 Q213.5,776.5 218.0,776.1 Q221.7,777.6 226.0,781.2 Q231.1,785.4 234.0,788.4 Q238.7,791.3 242.0,793.8 Q246.8,794.1 250.0,794.8 Q254.2,792.2 258.0,792.1 Q262.2,791.7 266.0,789.4 Q270.6,790.7 274.0,790.1 Q278.0,793.9 282.0,795.3 Q284.8,800.0 290.0,802.5 Q293.6,803.9 298.0,807.8 Q302.4,808.1 306.0,808.7" stroke="#fbf7ee" stroke-width="2.5"/>
<path d="M210.0,775.5 Q213.5,776.5 218.0,776.1 Q221.7,777.6 226.0,781.2 Q231.1,785.4 234.0,788.4 Q238.7,791.3 242.0,793.8 Q246.8,794.1 250.0,794.8 Q254.2,792.2 258.0,792.1 Q262.2,791.7 266.0,789.4 Q270.6,790.7 274.0,790.1 Q278.0,793.9 282.0,795.3 Q284.8,800.0 290.0,802.5 Q293.6,803.9 298.0,807.8 Q302.4,808.1 306.0,808.7" stroke="#b08a60" stroke-width="0.8" stroke-dasharray="3 2" transform="translate(0,2.5)"/>
<path d="M210.0,781.2 Q213.8,785.1 218.0,786.8 Q220.9,790.7 226.0,794.0 Q229.7,796.5 234.0,798.9 Q238.0,798.1 242.0,799.4 Q246.0,799.1 250.0,796.5 Q253.0,793.8 258.0,794.0 Q260.7,794.5 266.0,795.3 Q271.4,796.7 274.0,800.9 Q279.5,804.6 282.0,808.1 Q284.9,810.3 290.0,812.9 Q293.1,813.8 298.0,813.3 Q302.1,811.3 306.0,810.4" stroke="#fbf7ee" stroke-width="2.5"/>
<path d="M210.0,781.2 Q213.8,785.1 218.0,786.8 Q220.9,790.7 226.0,794.0 Q229.7,796.5 234.0,798.9 Q238.0,798.1 242.0,799.4 Q246.0,799.1 250.0,796.5 Q253.0,793.8 258.0,794.0 Q260.7,794.5 266.0,795.3 Q271.4,796.7 274.0,800.9 Q279.5,804.6 282.0,808.1 Q284.9,810.3 290.0,812.9 Q293.1,813.8 298.0,813.3 Q302.1,811.3 306.0,810.4" stroke="#b08a60" stroke-width="0.8" stroke-dasharray="3 2" transform="translate(0,2.5)"/>
<path d="M210.0,792.3 Q213.3,797.0 218.0,799.5 Q222.8,801.5 226.0,804.0 Q229.7,804.7 234.0,804.0 Q239.4,801.2 242.0,801.0 Q245.0,799.4 250.0,798.7 Q254.0,798.3 258.0,800.5 Q260.7,802.6 266.0,806.4 Q269.7,810.7 274.0,813.6 Q278.3,814.4 282.0,818.0 Q284.6,817.8 290.0,817.9 Q295.1,817.6 298.0,814.9 Q301.6,814.9 306.0,812.7" stroke="#fbf7ee" stroke-width="2.5"/>
<path d="M210.0,792.3 Q213.3,797.0 218.0,799.5 Q222.8,801.5 226.0,804.0 Q229.7,804.7 234.0,804.0 Q239.4,801.2 242.0,801.0 Q245.0,799.4 250.0,798.7 Q254.0,798.3 258.0,800.5 Q260.7,802.6 266.0,806.4 Q269.7,810.7 274.0,813.6 Q278.3,814.4 282.0,818.0 Q284.6,817.8 290.0,817.9 Q295.1,817.6 298.0,814.9 Q301.6,814.9 306.0,812.7" stroke="#b08a60" stroke-width="0.8" stroke-dasharray="3 2" transform="translate(0,2.5)"/>
</g>
<path d="M300,806 L503,802 L500,918 L300,918 Z" fill="#c9ad80"/>
<path d="M300,806 L503,802 L500,918 L300,918 Z" fill="url(#hstripe)"/>
<g clip-path="url(#cFrontA)" fill="none" stroke="#6e4e2c" stroke-width="1.1" stroke-dasharray="5 3">
<path d="M311.8,806 L311.8,847.9 Q311.8,854.9 323.5,854.9 Q335.2,854.9 335.2,847.9 L335.2,806"/>
<path d="M303.8,806 L303.8,848.2 Q303.8,860.0 323.5,860.0 Q343.2,860.0 343.2,848.2 L343.2,806"/>
<path d="M359.2,806 L359.2,819.5 Q359.2,826.9 371.5,826.9 Q383.8,826.9 383.8,819.5 L383.8,806"/>
<path d="M350.9,806 L350.9,819.7 Q350.9,832.0 371.5,832.0 Q392.1,832.0 392.1,819.7 L392.1,806"/>
<path d="M407.0,806 L407.0,828.3 Q407.0,834.9 418.0,834.9 Q429.0,834.9 429.0,828.3 L429.0,806"/>
<path d="M399.5,806 L399.5,828.9 Q399.5,840.0 418.0,840.0 Q436.5,840.0 436.5,828.9 L436.5,806"/>
<path d="M451.5,803 L451.5,848.0 Q451.5,854.9 463.0,854.9 Q474.5,854.9 474.5,848.0 L474.5,803"/>
<path d="M443.7,803 L443.7,848.4 Q443.7,860.0 463.0,860.0 Q482.3,860.0 482.3,848.4 L482.3,803"/>
<path d="M490.2,802 L490.2,856.4 Q490.2,858.9 494.5,858.9 Q498.8,858.9 498.8,856.4 L498.8,802"/>
<path d="M487.4,802 L487.4,859.7 Q487.4,864.0 494.5,864.0 Q501.6,864.0 501.6,859.7 L501.6,802"/>
<path d="M311.8,918 L311.8,894.1 Q311.8,887.1 323.5,887.1 Q335.2,887.1 335.2,894.1 L335.2,918"/>
<path d="M303.8,918 L303.8,893.8 Q303.8,882.0 323.5,882.0 Q343.2,882.0 343.2,893.8 L343.2,918"/>
<path d="M359.2,918 L359.2,858.5 Q359.2,851.1 371.5,851.1 Q383.8,851.1 383.8,858.5 L383.8,918"/>
<path d="M350.9,918 L350.9,858.3 Q350.9,846.0 371.5,846.0 Q392.1,846.0 392.1,858.3 L392.1,918"/>
<path d="M406.2,918 L406.2,865.2 Q406.2,859.1 416.5,859.1 Q426.8,859.1 426.8,865.2 L426.8,918"/>
<path d="M399.3,918 L399.3,864.3 Q399.3,854.0 416.5,854.0 Q433.7,854.0 433.7,864.3 L433.7,918"/>
<path d="M447.8,918 L447.8,887.6 Q447.8,881.1 458.5,881.1 Q469.2,881.1 469.2,887.6 L469.2,918"/>
<path d="M440.4,918 L440.4,886.8 Q440.4,876.0 458.5,876.0 Q476.6,876.0 476.6,886.8 L476.6,918"/>
<path d="M485.8,918 L485.8,887.6 Q485.8,884.1 491.5,884.1 Q497.2,884.1 497.2,887.6 L497.2,918"/>
<path d="M481.8,918 L481.8,884.8 Q481.8,879.0 491.5,879.0 Q501.2,879.0 501.2,884.8 L501.2,918"/>
</g>
<path d="M210,760 C222,756 240,766 252,780 C266,792 280,800 292,808 L301,820 L301,880 C290,874 276,872 262,872 C246,872 232,872 220,870 C212,862 204,852 202,846 C204,836 208,826 208,818 C206,808 206,796 208,786 C208,776 208,766 210,760 Z" fill="#e2d2b3"/>
<ellipse cx="237" cy="838" rx="10" ry="7.5" fill="url(#holeG2)" transform="rotate(15 237 838)"/>
<ellipse cx="241" cy="806" rx="5" ry="9" fill="url(#holeG2)" transform="rotate(0 241 806)"/>
<ellipse cx="265.5" cy="818" rx="6" ry="7" fill="url(#holeG2)" transform="rotate(10 265.5 818)"/>
<ellipse cx="283" cy="844" rx="5" ry="8" fill="url(#holeG2)" transform="rotate(0 283 844)"/>
<ellipse cx="262" cy="862" rx="8" ry="3.5" fill="url(#holeG2)" transform="rotate(-5 262 862)"/>
<ellipse cx="214" cy="858" rx="4" ry="4" fill="url(#holeG2)" transform="rotate(0 214 858)"/>
<g fill="none" stroke-linecap="round">
<path d="M213,754 C211,775 212,800 221,822" stroke="#d8c39f" stroke-width="21.8"/>
<path d="M232,758 C234,776 236,788 241,792" stroke="#d8c39f" stroke-width="17.5"/>
<path d="M252,776 C248,782 246,788 244,793" stroke="#d8c39f" stroke-width="16.0"/>
<path d="M241,792 C232,796 230,810 233,818 C236,824 248,826 252,818 C254,808 252,796 241,792" stroke="#d8c39f" stroke-width="14.6"/>
<path d="M198,799 C206,806 214,812 221,822" stroke="#d8c39f" stroke-width="18.9"/>
<path d="M193,846 C204,838 212,830 221,822" stroke="#d8c39f" stroke-width="20.4"/>
<path d="M221,822 C232,822 244,826 252,820" stroke="#d8c39f" stroke-width="16.0"/>
<path d="M252,818 C256,806 266,802 274,808 C280,814 278,826 272,830 C264,834 256,830 252,818" stroke="#d8c39f" stroke-width="13.2"/>
<path d="M283,804 C282,812 278,820 274,826" stroke="#d8c39f" stroke-width="16.0"/>
<path d="M272,830 C282,830 290,832 293,838 C296,848 294,856 288,858" stroke="#d8c39f" stroke-width="14.6"/>
<path d="M221,822 C222,840 226,852 232,862" stroke="#d8c39f" stroke-width="18.9"/>
<path d="M246,826 C250,840 256,850 262,856" stroke="#d8c39f" stroke-width="14.6"/>
<path d="M228,866 C250,860 276,858 300,860" stroke="#d8c39f" stroke-width="17.5"/>
<path d="M221,862 C220,868 220,874 220,879" stroke="#d8c39f" stroke-width="18.9"/>
<path d="M249,866 C249,874 249,882 249,889" stroke="#d8c39f" stroke-width="18.9"/>
<path d="M275,864 C275,880 276,892 276,902" stroke="#d8c39f" stroke-width="18.9"/>
<path d="M296,862 C296,880 296,894 297,905" stroke="#d8c39f" stroke-width="16.0"/>
<path d="M288,858 C290,850 296,842 301,838" stroke="#d8c39f" stroke-width="14.6"/>
<path d="M213,754 C211,775 212,800 221,822" stroke="#f2e9d7" stroke-width="18.8"/>
<path d="M232,758 C234,776 236,788 241,792" stroke="#f2e9d7" stroke-width="14.5"/>
<path d="M252,776 C248,782 246,788 244,793" stroke="#f2e9d7" stroke-width="13.0"/>
<path d="M241,792 C232,796 230,810 233,818 C236,824 248,826 252,818 C254,808 252,796 241,792" stroke="#f2e9d7" stroke-width="11.6"/>
<path d="M198,799 C206,806 214,812 221,822" stroke="#f2e9d7" stroke-width="15.9"/>
<path d="M193,846 C204,838 212,830 221,822" stroke="#f2e9d7" stroke-width="17.4"/>
<path d="M221,822 C232,822 244,826 252,820" stroke="#f2e9d7" stroke-width="13.0"/>
<path d="M252,818 C256,806 266,802 274,808 C280,814 278,826 272,830 C264,834 256,830 252,818" stroke="#f2e9d7" stroke-width="10.2"/>
<path d="M283,804 C282,812 278,820 274,826" stroke="#f2e9d7" stroke-width="13.0"/>
<path d="M272,830 C282,830 290,832 293,838 C296,848 294,856 288,858" stroke="#f2e9d7" stroke-width="11.6"/>
<path d="M221,822 C222,840 226,852 232,862" stroke="#f2e9d7" stroke-width="15.9"/>
<path d="M246,826 C250,840 256,850 262,856" stroke="#f2e9d7" stroke-width="11.6"/>
<path d="M228,866 C250,860 276,858 300,860" stroke="#f2e9d7" stroke-width="14.5"/>
<path d="M221,862 C220,868 220,874 220,879" stroke="#f2e9d7" stroke-width="15.9"/>
<path d="M249,866 C249,874 249,882 249,889" stroke="#f2e9d7" stroke-width="15.9"/>
<path d="M275,864 C275,880 276,892 276,902" stroke="#f2e9d7" stroke-width="15.9"/>
<path d="M296,862 C296,880 296,894 297,905" stroke="#f2e9d7" stroke-width="13.0"/>
<path d="M288,858 C290,850 296,842 301,838" stroke="#f2e9d7" stroke-width="11.6"/>
<path d="M213,754 C211,775 212,800 221,822" stroke="#fcf9f2" stroke-width="5.7" transform="translate(-1.5,-1)" opacity="0.5"/>
<path d="M232,758 C234,776 236,788 241,792" stroke="#fcf9f2" stroke-width="4.3" transform="translate(-1.5,-1)" opacity="0.5"/>
<path d="M252,776 C248,782 246,788 244,793" stroke="#fcf9f2" stroke-width="3.9" transform="translate(-1.5,-1)" opacity="0.5"/>
<path d="M241,792 C232,796 230,810 233,818 C236,824 248,826 252,818 C254,808 252,796 241,792" stroke="#fcf9f2" stroke-width="3.5" transform="translate(-1.5,-1)" opacity="0.5"/>
<path d="M198,799 C206,806 214,812 221,822" stroke="#fcf9f2" stroke-width="4.8" transform="translate(-1.5,-1)" opacity="0.5"/>
<path d="M193,846 C204,838 212,830 221,822" stroke="#fcf9f2" stroke-width="5.2" transform="translate(-1.5,-1)" opacity="0.5"/>
<path d="M221,822 C232,822 244,826 252,820" stroke="#fcf9f2" stroke-width="3.9" transform="translate(-1.5,-1)" opacity="0.5"/>
<path d="M252,818 C256,806 266,802 274,808 C280,814 278,826 272,830 C264,834 256,830 252,818" stroke="#fcf9f2" stroke-width="3.0" transform="translate(-1.5,-1)" opacity="0.5"/>
<path d="M283,804 C282,812 278,820 274,826" stroke="#fcf9f2" stroke-width="3.9" transform="translate(-1.5,-1)" opacity="0.5"/>
<path d="M272,830 C282,830 290,832 293,838 C296,848 294,856 288,858" stroke="#fcf9f2" stroke-width="3.5" transform="translate(-1.5,-1)" opacity="0.5"/>
<path d="M221,822 C222,840 226,852 232,862" stroke="#fcf9f2" stroke-width="4.8" transform="translate(-1.5,-1)" opacity="0.5"/>
<path d="M246,826 C250,840 256,850 262,856" stroke="#fcf9f2" stroke-width="3.5" transform="translate(-1.5,-1)" opacity="0.5"/>
<path d="M228,866 C250,860 276,858 300,860" stroke="#fcf9f2" stroke-width="4.3" transform="translate(-1.5,-1)" opacity="0.5"/>
<path d="M221,862 C220,868 220,874 220,879" stroke="#fcf9f2" stroke-width="4.8" transform="translate(-1.5,-1)" opacity="0.5"/>
<path d="M249,866 C249,874 249,882 249,889" stroke="#fcf9f2" stroke-width="4.8" transform="translate(-1.5,-1)" opacity="0.5"/>
<path d="M275,864 C275,880 276,892 276,902" stroke="#fcf9f2" stroke-width="4.8" transform="translate(-1.5,-1)" opacity="0.5"/>
<path d="M296,862 C296,880 296,894 297,905" stroke="#fcf9f2" stroke-width="3.9" transform="translate(-1.5,-1)" opacity="0.5"/>
<path d="M288,858 C290,850 296,842 301,838" stroke="#fcf9f2" stroke-width="3.5" transform="translate(-1.5,-1)" opacity="0.5"/>
</g>
<ellipse cx="213" cy="754" rx="9.5" ry="5.5" fill="#f8f2e6" stroke="#b9a27c" stroke-width="0.9" transform="rotate(-5 213 754)"/>
<ellipse cx="213" cy="754" rx="5.2" ry="1.9" fill="#d7c29c" transform="rotate(-5 213 754)"/>
<ellipse cx="232" cy="758" rx="7.5" ry="4.5" fill="#f8f2e6" stroke="#b9a27c" stroke-width="0.9" transform="rotate(0 232 758)"/>
<ellipse cx="232" cy="758" rx="4.1" ry="1.6" fill="#d7c29c" transform="rotate(0 232 758)"/>
<ellipse cx="252.5" cy="776" rx="7" ry="4.8" fill="#f8f2e6" stroke="#b9a27c" stroke-width="0.9" transform="rotate(25 252.5 776)"/>
<ellipse cx="252.5" cy="776" rx="3.9" ry="1.7" fill="#d7c29c" transform="rotate(25 252.5 776)"/>
<ellipse cx="283" cy="804" rx="8" ry="5.2" fill="#f8f2e6" stroke="#b9a27c" stroke-width="0.9" transform="rotate(20 283 804)"/>
<ellipse cx="283" cy="804" rx="4.4" ry="1.8" fill="#d7c29c" transform="rotate(20 283 804)"/>
<g clip-path="url(#cFrontA)"><path d="M347.5,807 L347,919" fill="none" stroke="#4d2f14" stroke-width="11.5" stroke-linecap="butt"/><path d="M395.5,806 L395.5,920" fill="none" stroke="#4d2f14" stroke-width="11.5" stroke-linecap="butt"/><path d="M440,803 L435,919" fill="none" stroke="#4d2f14" stroke-width="11.5" stroke-linecap="butt"/><path d="M486,802 L478,919" fill="none" stroke="#4d2f14" stroke-width="11.5" stroke-linecap="butt"/><path d="M347.5,826 C350,836 358,840 370,840 C384,840 394,840 395.5,830" fill="none" stroke="#4d2f14" stroke-width="11.5" stroke-linecap="round"/><path d="M395.5,830 C398,843 408,848 420,848 C432,848 439,842 440,832" fill="none" stroke="#4d2f14" stroke-width="11.5" stroke-linecap="round"/><path d="M237,856 C248,849 266,848 276,856 C284,864 288,876 300,876 C318,875 336,870 347.5,860" fill="none" stroke="#4d2f14" stroke-width="11.5" stroke-linecap="round"/><path d="M438,858 C440,868 450,871 465,871 C475,871 482,872 507,873" fill="none" stroke="#4d2f14" stroke-width="11.5" stroke-linecap="round"/></g>
<path d="M347.5,807 L347,919" fill="none" stroke="#b3241b" stroke-width="7.5" stroke-linecap="round"/>
<path d="M395.5,806 L395.5,920" fill="none" stroke="#b3241b" stroke-width="7.5" stroke-linecap="round"/>
<path d="M440,803 L435,919" fill="none" stroke="#b3241b" stroke-width="7.5" stroke-linecap="round"/>
<path d="M486,802 L478,919" fill="none" stroke="#b3241b" stroke-width="7.5" stroke-linecap="round"/>
<path d="M347.5,826 C350,836 358,840 370,840 C384,840 394,840 395.5,830" fill="none" stroke="#b3241b" stroke-width="7.5" stroke-linecap="round"/>
<path d="M395.5,830 C398,843 408,848 420,848 C432,848 439,842 440,832" fill="none" stroke="#b3241b" stroke-width="7.5" stroke-linecap="round"/>
<path d="M237,856 C248,849 266,848 276,856 C284,864 288,876 300,876 C318,875 336,870 347.5,860" fill="none" stroke="#b3241b" stroke-width="7.5" stroke-linecap="round"/>
<path d="M438,858 C440,868 450,871 465,871 C475,871 482,872 507,873" fill="none" stroke="#b3241b" stroke-width="7.5" stroke-linecap="round"/>
<path d="M347.5,807 L347,919" fill="none" stroke="#e23b2c" stroke-width="5.8" stroke-linecap="round" transform="translate(-0.6,-0.4)"/>
<path d="M395.5,806 L395.5,920" fill="none" stroke="#e23b2c" stroke-width="5.8" stroke-linecap="round" transform="translate(-0.6,-0.4)"/>
<path d="M440,803 L435,919" fill="none" stroke="#e23b2c" stroke-width="5.8" stroke-linecap="round" transform="translate(-0.6,-0.4)"/>
<path d="M486,802 L478,919" fill="none" stroke="#e23b2c" stroke-width="5.8" stroke-linecap="round" transform="translate(-0.6,-0.4)"/>
<path d="M347.5,826 C350,836 358,840 370,840 C384,840 394,840 395.5,830" fill="none" stroke="#e23b2c" stroke-width="5.8" stroke-linecap="round" transform="translate(-0.6,-0.4)"/>
<path d="M395.5,830 C398,843 408,848 420,848 C432,848 439,842 440,832" fill="none" stroke="#e23b2c" stroke-width="5.8" stroke-linecap="round" transform="translate(-0.6,-0.4)"/>
<path d="M237,856 C248,849 266,848 276,856 C284,864 288,876 300,876 C318,875 336,870 347.5,860" fill="none" stroke="#e23b2c" stroke-width="5.8" stroke-linecap="round" transform="translate(-0.6,-0.4)"/>
<path d="M438,858 C440,868 450,871 465,871 C475,871 482,872 507,873" fill="none" stroke="#e23b2c" stroke-width="5.8" stroke-linecap="round" transform="translate(-0.6,-0.4)"/>
<path d="M347.5,807 L347,919" fill="none" stroke="#f3816a" stroke-width="1.4" stroke-linecap="round" transform="translate(-1.6,-1.2)" opacity="0.7"/>
<path d="M395.5,806 L395.5,920" fill="none" stroke="#f3816a" stroke-width="1.4" stroke-linecap="round" transform="translate(-1.6,-1.2)" opacity="0.7"/>
<path d="M440,803 L435,919" fill="none" stroke="#f3816a" stroke-width="1.4" stroke-linecap="round" transform="translate(-1.6,-1.2)" opacity="0.7"/>
<path d="M486,802 L478,919" fill="none" stroke="#f3816a" stroke-width="1.4" stroke-linecap="round" transform="translate(-1.6,-1.2)" opacity="0.7"/>
<path d="M347.5,826 C350,836 358,840 370,840 C384,840 394,840 395.5,830" fill="none" stroke="#f3816a" stroke-width="1.4" stroke-linecap="round" transform="translate(-1.6,-1.2)" opacity="0.7"/>
<path d="M395.5,830 C398,843 408,848 420,848 C432,848 439,842 440,832" fill="none" stroke="#f3816a" stroke-width="1.4" stroke-linecap="round" transform="translate(-1.6,-1.2)" opacity="0.7"/>
<path d="M237,856 C248,849 266,848 276,856 C284,864 288,876 300,876 C318,875 336,870 347.5,860" fill="none" stroke="#f3816a" stroke-width="1.4" stroke-linecap="round" transform="translate(-1.6,-1.2)" opacity="0.7"/>
<path d="M438,858 C440,868 450,871 465,871 C475,871 482,872 507,873" fill="none" stroke="#f3816a" stroke-width="1.4" stroke-linecap="round" transform="translate(-1.6,-1.2)" opacity="0.7"/>
<ellipse cx="347.5" cy="807" rx="4.2" ry="2.2" fill="#a81e16"/>
<ellipse cx="395.5" cy="806" rx="4.2" ry="2.2" fill="#a81e16"/>
<ellipse cx="440" cy="803" rx="4.2" ry="2.2" fill="#a81e16"/>
<ellipse cx="486" cy="802" rx="4.2" ry="2.2" fill="#a81e16"/>
<path d="M503,802 L548,803 L544,950 C530,945 510,930 500,918 Z" fill="url(#perG2)"/>
<g stroke="#ffffff" stroke-width="0.5" opacity="0.6" fill="none">
<path d="M504.6,910.1 q9.5,-0.5 19.0,-2.5"/>
<path d="M505.3,823.2 q5.5,0.4 11.0,1.8"/>
<path d="M506.7,896.6 q7.7,-1.1 15.4,-5.7"/>
<path d="M506.5,907.1 q10.8,0.4 21.6,2.0"/>
<path d="M504.5,881.4 q6.1,-0.5 12.2,-2.5"/>
<path d="M504.3,886.7 q9.1,0.0 18.3,0.0"/>
<path d="M506.9,856.3 q6.0,-0.0 12.0,-0.2"/>
<path d="M506.7,823.9 q7.9,-0.5 15.9,-2.7"/>
<path d="M505.4,824.9 q7.4,-1.1 14.8,-5.4"/>
<path d="M504.6,809.6 q8.5,0.1 17.0,0.3"/>
<path d="M506.6,906.8 q10.6,1.3 21.2,6.3"/>
<path d="M505.1,859.5 q7.4,-0.3 14.8,-1.5"/>
<path d="M506.2,810.7 q6.5,-1.2 13.0,-5.9"/>
<path d="M505.9,858.2 q7.6,-0.4 15.2,-2.1"/>
<path d="M503.7,879.8 q5.1,0.2 10.1,0.9"/>
<path d="M506.5,865.4 q7.5,0.8 15.0,4.2"/>
<path d="M503.1,808.0 q8.6,-0.9 17.2,-4.6"/>
<path d="M503.5,813.5 q7.2,-0.5 14.5,-2.4"/>
<path d="M506.6,869.1 q7.2,-0.9 14.4,-4.5"/>
<path d="M503.0,870.7 q7.3,-0.5 14.6,-2.7"/>
<path d="M503.2,849.4 q8.3,0.4 16.7,2.1"/>
<path d="M506.8,889.9 q7.1,0.4 14.3,2.2"/>
<path d="M503.9,855.5 q10.3,1.0 20.7,5.0"/>
<path d="M506.3,911.6 q10.5,-1.5 21.0,-7.6"/>
<path d="M503.8,807.8 q7.5,0.6 14.9,2.8"/>
<path d="M505.1,855.1 q9.6,-1.6 19.1,-8.0"/>
<path d="M503.2,882.0 q6.5,0.6 13.0,2.9"/>
<path d="M504.6,882.5 q6.8,0.9 13.5,4.4"/>
<path d="M503.1,836.8 q6.5,-1.2 13.0,-6.0"/>
<path d="M503.5,896.8 q10.8,-1.2 21.7,-6.1"/>
<path d="M505.3,840.3 q6.8,-0.3 13.7,-1.6"/>
<path d="M504.6,817.7 q5.2,-0.6 10.3,-2.8"/>
<path d="M504.1,907.9 q6.6,0.5 13.3,2.4"/>
<path d="M504.2,904.9 q7.3,0.6 14.5,3.1"/>
<path d="M505.5,894.7 q6.1,-0.8 12.1,-3.8"/>
<path d="M505.8,890.9 q10.4,1.1 20.8,5.7"/>
<path d="M503.5,853.2 q10.3,0.8 20.7,4.0"/>
<path d="M505.7,870.6 q7.3,-0.5 14.6,-2.3"/>
<path d="M504.9,870.4 q9.3,1.6 18.5,7.8"/>
<path d="M504.5,900.9 q7.2,1.2 14.5,6.0"/>
<path d="M506.2,850.2 q5.6,-0.1 11.1,-0.5"/>
<path d="M506.2,863.8 q10.3,-1.4 20.5,-7.0"/>
<path d="M505.5,875.1 q5.9,0.8 11.8,3.9"/>
<path d="M506.8,868.0 q6.1,0.1 12.2,0.3"/>
<path d="M505.6,842.2 q8.6,0.0 17.3,0.2"/>
</g>
<path d="M509,836 q3,6 0,12 t0,12 t-1,13 t0,12 t-1,12 t0,11" fill="none" stroke="#e03a2c" stroke-width="2.2"/>
<path d="M503,873 C507,873 509,870 510,866 M503,873 C507,874 509,877 509,882" fill="none" stroke="#e03a2c" stroke-width="2.2"/>
<path d="M532,801 L548,803 L544,950 L530,948 C533,900 534,850 532,801 Z" fill="url(#sheetG2)"/>
<path d="M532,801.5 L548,803.5" stroke="#e6d9bd" stroke-width="1.6"/>
<ellipse cx="388.7" cy="736.5" rx="25.7" ry="9.2" fill="#d9c7a0" opacity="0.6"/>
<path d="M363.0,680 L363.0,727 A21.7,11.5 0 0 0 406.4,727 L406.4,680 Z" fill="url(#cylG)"/>
<g clip-path="url(#cyl1)" stroke="#87693f" stroke-width="0.6" fill="none" opacity="0.85">
<path d="M363.0,654.7 Q380.4,650.7 406.4,630.8"/>
<path d="M363.0,659.9 Q380.4,655.9 406.4,636.0"/>
<path d="M363.0,665.1 Q380.4,661.1 406.4,641.2"/>
<path d="M363.0,670.3 Q380.4,666.3 406.4,646.4"/>
<path d="M363.0,675.5 Q380.4,671.5 406.4,651.6"/>
<path d="M363.0,680.7 Q380.4,676.7 406.4,656.8"/>
<path d="M363.0,685.9 Q380.4,681.9 406.4,662.0"/>
<path d="M363.0,691.1 Q380.4,687.1 406.4,667.2"/>
<path d="M363.0,696.3 Q380.4,692.3 406.4,672.4"/>
<path d="M363.0,701.5 Q380.4,697.5 406.4,677.6"/>
<path d="M363.0,706.7 Q380.4,702.7 406.4,682.8"/>
<path d="M363.0,711.9 Q380.4,707.9 406.4,688.0"/>
<path d="M363.0,717.1 Q380.4,713.1 406.4,693.2"/>
<path d="M363.0,722.3 Q380.4,718.3 406.4,698.4"/>
<path d="M363.0,727.5 Q380.4,723.5 406.4,703.6"/>
<path d="M363.0,732.7 Q380.4,728.7 406.4,708.8"/>
<path d="M363.0,737.9 Q380.4,733.9 406.4,714.0"/>
<path d="M363.0,743.1 Q380.4,739.1 406.4,719.2"/>
<path d="M363.0,748.3 Q380.4,744.3 406.4,724.4"/>
<path d="M363.0,753.5 Q380.4,749.5 406.4,729.6"/>
<path d="M363.0,758.7 Q380.4,754.7 406.4,734.8"/>
<path d="M363.0,763.9 Q380.4,759.9 406.4,740.0"/>
<path d="M363.0,769.1 Q380.4,765.1 406.4,745.2"/>
<path d="M363.0,774.3 Q380.4,770.3 406.4,750.4"/>
<path d="M363.0,779.5 Q380.4,775.5 406.4,755.6"/>
<path d="M363.0,784.7 Q380.4,780.7 406.4,760.8"/>
<path d="M363.0,789.9 Q380.4,785.9 406.4,766.0"/>
</g>
<ellipse cx="384.7" cy="680" rx="21.7" ry="11.5" fill="#f2e8d2" stroke="#c9b084" stroke-width="0.8"/>
<g clip-path="url(#cyl1t)" fill="#a98a60" opacity="0.75">
<ellipse cx="377.5" cy="687.5" rx="0.9" ry="0.6" transform="rotate(207 377.5 687.5)"/>
<ellipse cx="396.5" cy="674.9" rx="1.0" ry="0.6" transform="rotate(411 396.5 674.9)"/>
<ellipse cx="384.1" cy="686.3" rx="1.4" ry="0.6" transform="rotate(183 384.1 686.3)"/>
<ellipse cx="376.7" cy="689.9" rx="1.1" ry="0.6" transform="rotate(203 376.7 689.9)"/>
<ellipse cx="394.7" cy="679.4" rx="1.4" ry="0.6" transform="rotate(443 394.7 679.4)"/>
<ellipse cx="387.1" cy="671.2" rx="1.2" ry="0.6" transform="rotate(368 387.1 671.2)"/>
<ellipse cx="382.1" cy="672.1" rx="1.1" ry="0.6" transform="rotate(350 382.1 672.1)"/>
<ellipse cx="385.5" cy="683.2" rx="1.1" ry="0.6" transform="rotate(172 385.5 683.2)"/>
<ellipse cx="364.3" cy="681.8" rx="0.8" ry="0.6" transform="rotate(261 364.3 681.8)"/>
<ellipse cx="393.6" cy="669.6" rx="1.3" ry="0.6" transform="rotate(384 393.6 669.6)"/>
<ellipse cx="394.4" cy="678.8" rx="0.7" ry="0.6" transform="rotate(437 394.4 678.8)"/>
<ellipse cx="386.6" cy="687.2" rx="0.7" ry="0.6" transform="rotate(172 386.6 687.2)"/>
<ellipse cx="388.2" cy="682.6" rx="1.3" ry="0.6" transform="rotate(144 388.2 682.6)"/>
<ellipse cx="373.5" cy="687.1" rx="1.0" ry="0.6" transform="rotate(220 373.5 687.1)"/>
<ellipse cx="383.8" cy="669.6" rx="0.9" ry="0.6" transform="rotate(357 383.8 669.6)"/>
<ellipse cx="376.5" cy="679.0" rx="0.8" ry="0.6" transform="rotate(283 376.5 679.0)"/>
<ellipse cx="386.9" cy="686.7" rx="0.9" ry="0.6" transform="rotate(170 386.9 686.7)"/>
<ellipse cx="372.9" cy="676.8" rx="0.9" ry="0.6" transform="rotate(297 372.9 676.8)"/>
<ellipse cx="387.5" cy="677.3" rx="0.6" ry="0.6" transform="rotate(389 387.5 677.3)"/>
<ellipse cx="403.7" cy="683.8" rx="1.1" ry="0.6" transform="rotate(111 403.7 683.8)"/>
<ellipse cx="381.8" cy="668.8" rx="0.8" ry="0.6" transform="rotate(352 381.8 668.8)"/>
<ellipse cx="394.9" cy="677.0" rx="1.0" ry="0.6" transform="rotate(421 394.9 677.0)"/>
<ellipse cx="376.5" cy="670.6" rx="0.8" ry="0.6" transform="rotate(335 376.5 670.6)"/>
<ellipse cx="377.8" cy="680.5" rx="0.8" ry="0.6" transform="rotate(262 377.8 680.5)"/>
<ellipse cx="405.3" cy="678.7" rx="1.1" ry="0.6" transform="rotate(443 405.3 678.7)"/>
<ellipse cx="389.4" cy="669.3" rx="0.9" ry="0.6" transform="rotate(373 389.4 669.3)"/>
<ellipse cx="399.6" cy="679.0" rx="0.7" ry="0.6" transform="rotate(443 399.6 679.0)"/>
<ellipse cx="367.9" cy="678.3" rx="1.2" ry="0.6" transform="rotate(281 367.9 678.3)"/>
<ellipse cx="381.4" cy="676.8" rx="1.1" ry="0.6" transform="rotate(332 381.4 676.8)"/>
<ellipse cx="400.6" cy="675.5" rx="1.4" ry="0.6" transform="rotate(422 400.6 675.5)"/>
<ellipse cx="365.1" cy="679.2" rx="0.7" ry="0.6" transform="rotate(274 365.1 679.2)"/>
<ellipse cx="396.5" cy="675.2" rx="1.3" ry="0.6" transform="rotate(412 396.5 675.2)"/>
<ellipse cx="377.2" cy="688.3" rx="1.3" ry="0.6" transform="rotate(205 377.2 688.3)"/>
<ellipse cx="380.5" cy="671.1" rx="1.4" ry="0.6" transform="rotate(346 380.5 671.1)"/>
<ellipse cx="392.0" cy="682.4" rx="1.0" ry="0.6" transform="rotate(122 392.0 682.4)"/>
<ellipse cx="402.2" cy="677.3" rx="0.8" ry="0.6" transform="rotate(434 402.2 677.3)"/>
<ellipse cx="396.4" cy="685.0" rx="1.0" ry="0.6" transform="rotate(129 396.4 685.0)"/>
<ellipse cx="367.7" cy="681.8" rx="0.8" ry="0.6" transform="rotate(259 367.7 681.8)"/>
<ellipse cx="393.8" cy="675.5" rx="0.7" ry="0.6" transform="rotate(407 393.8 675.5)"/>
<ellipse cx="372.4" cy="689.1" rx="0.7" ry="0.6" transform="rotate(216 372.4 689.1)"/>
<ellipse cx="381.1" cy="690.9" rx="0.9" ry="0.6" transform="rotate(190 381.1 690.9)"/>
<ellipse cx="388.5" cy="676.9" rx="1.3" ry="0.6" transform="rotate(394 388.5 676.9)"/>
<ellipse cx="385.5" cy="685.5" rx="1.2" ry="0.6" transform="rotate(175 385.5 685.5)"/>
<ellipse cx="405.9" cy="679.3" rx="1.2" ry="0.6" transform="rotate(446 405.9 679.3)"/>
<ellipse cx="403.2" cy="674.1" rx="1.0" ry="0.6" transform="rotate(419 403.2 674.1)"/>
<ellipse cx="397.1" cy="688.4" rx="0.9" ry="0.6" transform="rotate(142 397.1 688.4)"/>
<ellipse cx="378.6" cy="687.7" rx="0.6" ry="0.6" transform="rotate(203 378.6 687.7)"/>
<ellipse cx="396.7" cy="680.7" rx="1.1" ry="0.6" transform="rotate(97 396.7 680.7)"/>
<ellipse cx="384.6" cy="668.7" rx="1.3" ry="0.6" transform="rotate(360 384.6 668.7)"/>
<ellipse cx="401.1" cy="676.6" rx="1.2" ry="0.6" transform="rotate(429 401.1 676.6)"/>
<ellipse cx="377.9" cy="677.8" rx="0.6" ry="0.6" transform="rotate(301 377.9 677.8)"/>
<ellipse cx="385.4" cy="674.3" rx="1.2" ry="0.6" transform="rotate(364 385.4 674.3)"/>
<ellipse cx="379.2" cy="680.7" rx="1.0" ry="0.6" transform="rotate(257 379.2 680.7)"/>
<ellipse cx="377.4" cy="681.4" rx="0.8" ry="0.6" transform="rotate(249 377.4 681.4)"/>
<ellipse cx="380.0" cy="686.7" rx="1.2" ry="0.6" transform="rotate(200 380.0 686.7)"/>
<ellipse cx="392.1" cy="686.9" rx="1.1" ry="0.6" transform="rotate(150 392.1 686.9)"/>
<ellipse cx="393.1" cy="678.4" rx="0.7" ry="0.6" transform="rotate(431 393.1 678.4)"/>
<ellipse cx="388.7" cy="685.6" rx="0.7" ry="0.6" transform="rotate(159 388.7 685.6)"/>
<ellipse cx="394.5" cy="682.7" rx="0.8" ry="0.6" transform="rotate(117 394.5 682.7)"/>
<ellipse cx="367.1" cy="681.2" rx="0.9" ry="0.6" transform="rotate(263 367.1 681.2)"/>
<ellipse cx="388.8" cy="683.9" rx="0.8" ry="0.6" transform="rotate(151 388.8 683.9)"/>
<ellipse cx="392.1" cy="687.2" rx="1.3" ry="0.6" transform="rotate(151 392.1 687.2)"/>
<ellipse cx="382.4" cy="674.4" rx="0.6" ry="0.6" transform="rotate(348 382.4 674.4)"/>
<ellipse cx="398.2" cy="683.2" rx="0.9" ry="0.6" transform="rotate(114 398.2 683.2)"/>
<ellipse cx="381.4" cy="676.1" rx="0.8" ry="0.6" transform="rotate(336 381.4 676.1)"/>
<ellipse cx="378.1" cy="671.8" rx="1.0" ry="0.6" transform="rotate(337 378.1 671.8)"/>
<ellipse cx="391.9" cy="677.3" rx="0.8" ry="0.6" transform="rotate(415 391.9 677.3)"/>
<ellipse cx="369.4" cy="676.5" rx="1.4" ry="0.6" transform="rotate(294 369.4 676.5)"/>
<ellipse cx="401.5" cy="678.7" rx="1.2" ry="0.6" transform="rotate(442 401.5 678.7)"/>
<ellipse cx="381.7" cy="675.3" rx="1.1" ry="0.6" transform="rotate(341 381.7 675.3)"/>
<ellipse cx="380.0" cy="686.8" rx="0.7" ry="0.6" transform="rotate(200 380.0 686.8)"/>
<ellipse cx="404.8" cy="680.6" rx="1.2" ry="0.6" transform="rotate(93 404.8 680.6)"/>
<ellipse cx="384.9" cy="673.4" rx="0.9" ry="0.6" transform="rotate(361 384.9 673.4)"/>
<ellipse cx="392.4" cy="688.1" rx="1.3" ry="0.6" transform="rotate(153 392.4 688.1)"/>
<ellipse cx="388.5" cy="669.0" rx="0.8" ry="0.6" transform="rotate(370 388.5 669.0)"/>
<ellipse cx="381.9" cy="675.4" rx="1.0" ry="0.6" transform="rotate(342 381.9 675.4)"/>
<ellipse cx="397.3" cy="685.5" rx="1.0" ry="0.6" transform="rotate(130 397.3 685.5)"/>
<ellipse cx="377.0" cy="685.9" rx="1.2" ry="0.6" transform="rotate(215 377.0 685.9)"/>
<ellipse cx="370.4" cy="680.9" rx="0.7" ry="0.6" transform="rotate(263 370.4 680.9)"/>
<ellipse cx="380.7" cy="690.4" rx="1.4" ry="0.6" transform="rotate(192 380.7 690.4)"/>
<ellipse cx="370.5" cy="687.7" rx="1.3" ry="0.6" transform="rotate(224 370.5 687.7)"/>
<ellipse cx="387.1" cy="686.3" rx="1.2" ry="0.6" transform="rotate(169 387.1 686.3)"/>
<ellipse cx="377.4" cy="690.6" rx="0.9" ry="0.6" transform="rotate(200 377.4 690.6)"/>
<ellipse cx="382.4" cy="670.3" rx="0.8" ry="0.6" transform="rotate(353 382.4 670.3)"/>
<ellipse cx="393.5" cy="674.8" rx="0.7" ry="0.6" transform="rotate(402 393.5 674.8)"/>
<ellipse cx="399.1" cy="682.5" rx="1.1" ry="0.6" transform="rotate(108 399.1 682.5)"/>
<ellipse cx="382.0" cy="690.5" rx="0.8" ry="0.6" transform="rotate(188 382.0 690.5)"/>
</g>
<ellipse cx="384.7" cy="680" rx="8.7" ry="4.6" fill="none" stroke="#b39068" stroke-width="0.6" stroke-dasharray="2 2"/>
<ellipse cx="384.7" cy="680" rx="15.2" ry="8.0" fill="none" stroke="#b39068" stroke-width="0.6" stroke-dasharray="2 2"/>
<ellipse cx="384.7" cy="680" rx="5.5" ry="3.6" fill="#fbf3e6"/>
<ellipse cx="384.7" cy="680" rx="4" ry="2.6" fill="#cc2a1e"/>
<path d="M392,671 L405,670 C406,673 406,676 406,680 L392,680 Z" fill="#d2b88a"/>
<path d="M392,671 L392,680" stroke="#9c7f55" stroke-width="0.8"/>
<ellipse cx="333.4" cy="789.5" rx="32.7" ry="12.4" fill="#d9c7a0" opacity="0.6"/>
<path d="M300.7,746.5 L300.7,776.0 A28.7,15.5 0 0 0 358.09999999999997,776.0 L358.09999999999997,746.5 Z" fill="url(#cylG)"/>
<g clip-path="url(#cyl2)" stroke="#87693f" stroke-width="0.6" fill="none" opacity="0.85">
<path d="M300.7,726.4 Q323.7,721.4 358.09999999999997,694.9"/>
<path d="M300.7,731.6 Q323.7,726.6 358.09999999999997,700.1"/>
<path d="M300.7,736.8 Q323.7,731.8 358.09999999999997,705.3"/>
<path d="M300.7,742.0 Q323.7,737.0 358.09999999999997,710.5"/>
<path d="M300.7,747.2 Q323.7,742.2 358.09999999999997,715.7"/>
<path d="M300.7,752.4 Q323.7,747.4 358.09999999999997,720.9"/>
<path d="M300.7,757.6 Q323.7,752.6 358.09999999999997,726.1"/>
<path d="M300.7,762.8 Q323.7,757.8 358.09999999999997,731.3"/>
<path d="M300.7,768.0 Q323.7,763.0 358.09999999999997,736.5"/>
<path d="M300.7,773.2 Q323.7,768.2 358.09999999999997,741.7"/>
<path d="M300.7,778.4 Q323.7,773.4 358.09999999999997,746.9"/>
<path d="M300.7,783.6 Q323.7,778.6 358.09999999999997,752.1"/>
<path d="M300.7,788.8 Q323.7,783.8 358.09999999999997,757.3"/>
<path d="M300.7,794.0 Q323.7,789.0 358.09999999999997,762.5"/>
<path d="M300.7,799.2 Q323.7,794.2 358.09999999999997,767.7"/>
<path d="M300.7,804.4 Q323.7,799.4 358.09999999999997,772.9"/>
<path d="M300.7,809.6 Q323.7,804.6 358.09999999999997,778.1"/>
<path d="M300.7,814.8 Q323.7,809.8 358.09999999999997,783.3"/>
<path d="M300.7,820.0 Q323.7,815.0 358.09999999999997,788.5"/>
<path d="M300.7,825.2 Q323.7,820.2 358.09999999999997,793.7"/>
<path d="M300.7,830.4 Q323.7,825.4 358.09999999999997,798.9"/>
<path d="M300.7,835.6 Q323.7,830.6 358.09999999999997,804.1"/>
<path d="M300.7,840.8 Q323.7,835.8 358.09999999999997,809.3"/>
</g>
<ellipse cx="329.4" cy="746.5" rx="28.7" ry="15.5" fill="#f2e8d2" stroke="#c9b084" stroke-width="0.8"/>
<g clip-path="url(#cyl2t)" fill="#a98a60" opacity="0.75">
<ellipse cx="334.4" cy="742.7" rx="0.8" ry="0.6" transform="rotate(395 334.4 742.7)"/>
<ellipse cx="340.1" cy="755.6" rx="0.9" ry="0.6" transform="rotate(147 340.1 755.6)"/>
<ellipse cx="308.4" cy="755.3" rx="1.1" ry="0.6" transform="rotate(232 308.4 755.3)"/>
<ellipse cx="314.6" cy="740.3" rx="1.2" ry="0.6" transform="rotate(308 314.6 740.3)"/>
<ellipse cx="304.4" cy="746.3" rx="1.3" ry="0.6" transform="rotate(271 304.4 746.3)"/>
<ellipse cx="314.4" cy="739.6" rx="0.8" ry="0.6" transform="rotate(310 314.4 739.6)"/>
<ellipse cx="351.0" cy="739.3" rx="1.2" ry="0.6" transform="rotate(418 351.0 739.3)"/>
<ellipse cx="332.9" cy="757.0" rx="1.3" ry="0.6" transform="rotate(170 332.9 757.0)"/>
<ellipse cx="330.1" cy="760.6" rx="1.0" ry="0.6" transform="rotate(179 330.1 760.6)"/>
<ellipse cx="333.0" cy="756.3" rx="0.7" ry="0.6" transform="rotate(169 333.0 756.3)"/>
<ellipse cx="317.9" cy="734.7" rx="0.6" ry="0.6" transform="rotate(332 317.9 734.7)"/>
<ellipse cx="321.3" cy="759.5" rx="0.8" ry="0.6" transform="rotate(199 321.3 759.5)"/>
<ellipse cx="304.1" cy="743.3" rx="1.1" ry="0.6" transform="rotate(283 304.1 743.3)"/>
<ellipse cx="349.1" cy="756.8" rx="1.2" ry="0.6" transform="rotate(134 349.1 756.8)"/>
<ellipse cx="313.3" cy="742.7" rx="1.1" ry="0.6" transform="rotate(293 313.3 742.7)"/>
<ellipse cx="320.2" cy="750.5" rx="0.7" ry="0.6" transform="rotate(231 320.2 750.5)"/>
<ellipse cx="342.3" cy="748.5" rx="0.8" ry="0.6" transform="rotate(106 342.3 748.5)"/>
<ellipse cx="314.7" cy="737.4" rx="1.1" ry="0.6" transform="rotate(319 314.7 737.4)"/>
<ellipse cx="334.3" cy="741.1" rx="0.9" ry="0.6" transform="rotate(386 334.3 741.1)"/>
<ellipse cx="346.4" cy="751.5" rx="0.7" ry="0.6" transform="rotate(119 346.4 751.5)"/>
<ellipse cx="339.8" cy="749.0" rx="0.9" ry="0.6" transform="rotate(114 339.8 749.0)"/>
<ellipse cx="330.7" cy="737.7" rx="1.2" ry="0.6" transform="rotate(365 330.7 737.7)"/>
<ellipse cx="331.1" cy="755.4" rx="1.0" ry="0.6" transform="rotate(174 331.1 755.4)"/>
<ellipse cx="347.2" cy="751.4" rx="1.1" ry="0.6" transform="rotate(117 347.2 751.4)"/>
<ellipse cx="333.8" cy="741.9" rx="1.2" ry="0.6" transform="rotate(387 333.8 741.9)"/>
<ellipse cx="309.2" cy="741.4" rx="0.6" ry="0.6" transform="rotate(295 309.2 741.4)"/>
<ellipse cx="341.2" cy="740.5" rx="1.0" ry="0.6" transform="rotate(407 341.2 740.5)"/>
<ellipse cx="302.7" cy="742.9" rx="1.1" ry="0.6" transform="rotate(284 302.7 742.9)"/>
<ellipse cx="344.5" cy="746.1" rx="1.1" ry="0.6" transform="rotate(447 344.5 746.1)"/>
<ellipse cx="310.7" cy="741.2" rx="1.1" ry="0.6" transform="rotate(298 310.7 741.2)"/>
<ellipse cx="312.7" cy="743.5" rx="1.1" ry="0.6" transform="rotate(288 312.7 743.5)"/>
<ellipse cx="347.2" cy="752.0" rx="1.0" ry="0.6" transform="rotate(120 347.2 752.0)"/>
<ellipse cx="334.5" cy="758.1" rx="1.1" ry="0.6" transform="rotate(167 334.5 758.1)"/>
<ellipse cx="341.2" cy="752.9" rx="0.6" ry="0.6" transform="rotate(135 341.2 752.9)"/>
<ellipse cx="320.7" cy="743.2" rx="0.8" ry="0.6" transform="rotate(305 320.7 743.2)"/>
<ellipse cx="310.5" cy="750.0" rx="0.6" ry="0.6" transform="rotate(251 310.5 750.0)"/>
<ellipse cx="343.7" cy="743.9" rx="1.1" ry="0.6" transform="rotate(431 343.7 743.9)"/>
<ellipse cx="333.3" cy="758.5" rx="0.9" ry="0.6" transform="rotate(170 333.3 758.5)"/>
<ellipse cx="320.9" cy="756.5" rx="1.1" ry="0.6" transform="rotate(205 320.9 756.5)"/>
<ellipse cx="309.7" cy="739.0" rx="0.8" ry="0.6" transform="rotate(305 309.7 739.0)"/>
<ellipse cx="342.5" cy="751.1" rx="0.9" ry="0.6" transform="rotate(123 342.5 751.1)"/>
<ellipse cx="314.4" cy="740.0" rx="0.8" ry="0.6" transform="rotate(309 314.4 740.0)"/>
<ellipse cx="347.8" cy="753.6" rx="0.7" ry="0.6" transform="rotate(125 347.8 753.6)"/>
<ellipse cx="305.4" cy="745.1" rx="1.1" ry="0.6" transform="rotate(276 305.4 745.1)"/>
<ellipse cx="339.1" cy="754.7" rx="1.4" ry="0.6" transform="rotate(147 339.1 754.7)"/>
<ellipse cx="349.6" cy="753.5" rx="0.9" ry="0.6" transform="rotate(123 349.6 753.5)"/>
<ellipse cx="315.2" cy="739.8" rx="0.7" ry="0.6" transform="rotate(311 315.2 739.8)"/>
<ellipse cx="322.6" cy="745.0" rx="1.3" ry="0.6" transform="rotate(292 322.6 745.0)"/>
<ellipse cx="334.9" cy="737.0" rx="1.0" ry="0.6" transform="rotate(378 334.9 737.0)"/>
<ellipse cx="301.4" cy="743.9" rx="0.6" ry="0.6" transform="rotate(280 301.4 743.9)"/>
<ellipse cx="323.8" cy="756.4" rx="1.2" ry="0.6" transform="rotate(197 323.8 756.4)"/>
<ellipse cx="327.0" cy="736.1" rx="0.6" ry="0.6" transform="rotate(353 327.0 736.1)"/>
<ellipse cx="318.0" cy="738.2" rx="0.7" ry="0.6" transform="rotate(323 318.0 738.2)"/>
<ellipse cx="315.9" cy="738.6" rx="0.8" ry="0.6" transform="rotate(317 315.9 738.6)"/>
<ellipse cx="326.8" cy="757.9" rx="0.8" ry="0.6" transform="rotate(187 326.8 757.9)"/>
<ellipse cx="307.5" cy="755.9" rx="1.0" ry="0.6" transform="rotate(232 307.5 755.9)"/>
<ellipse cx="328.9" cy="758.0" rx="1.3" ry="0.6" transform="rotate(181 328.9 758.0)"/>
<ellipse cx="345.4" cy="736.9" rx="1.3" ry="0.6" transform="rotate(402 345.4 736.9)"/>
<ellipse cx="330.4" cy="733.5" rx="0.9" ry="0.6" transform="rotate(362 330.4 733.5)"/>
<ellipse cx="344.1" cy="757.3" rx="1.1" ry="0.6" transform="rotate(144 344.1 757.3)"/>
<ellipse cx="346.3" cy="744.6" rx="1.3" ry="0.6" transform="rotate(438 346.3 744.6)"/>
<ellipse cx="334.9" cy="761.3" rx="1.4" ry="0.6" transform="rotate(169 334.9 761.3)"/>
<ellipse cx="346.0" cy="749.2" rx="1.4" ry="0.6" transform="rotate(107 346.0 749.2)"/>
<ellipse cx="352.8" cy="744.0" rx="0.7" ry="0.6" transform="rotate(439 352.8 744.0)"/>
<ellipse cx="345.0" cy="746.8" rx="1.4" ry="0.6" transform="rotate(92 345.0 746.8)"/>
<ellipse cx="336.0" cy="736.6" rx="1.2" ry="0.6" transform="rotate(380 336.0 736.6)"/>
<ellipse cx="343.1" cy="741.3" rx="1.3" ry="0.6" transform="rotate(415 343.1 741.3)"/>
<ellipse cx="327.3" cy="755.8" rx="0.6" ry="0.6" transform="rotate(187 327.3 755.8)"/>
<ellipse cx="341.1" cy="756.5" rx="0.6" ry="0.6" transform="rotate(148 341.1 756.5)"/>
<ellipse cx="316.5" cy="744.4" rx="1.2" ry="0.6" transform="rotate(286 316.5 744.4)"/>
<ellipse cx="339.4" cy="752.1" rx="0.8" ry="0.6" transform="rotate(136 339.4 752.1)"/>
<ellipse cx="306.8" cy="739.5" rx="1.2" ry="0.6" transform="rotate(300 306.8 739.5)"/>
<ellipse cx="328.1" cy="733.5" rx="1.0" ry="0.6" transform="rotate(357 328.1 733.5)"/>
<ellipse cx="321.8" cy="752.7" rx="1.3" ry="0.6" transform="rotate(213 321.8 752.7)"/>
<ellipse cx="309.6" cy="753.4" rx="0.7" ry="0.6" transform="rotate(237 309.6 753.4)"/>
<ellipse cx="322.2" cy="751.2" rx="0.9" ry="0.6" transform="rotate(220 322.2 751.2)"/>
<ellipse cx="327.5" cy="737.0" rx="1.1" ry="0.6" transform="rotate(354 327.5 737.0)"/>
<ellipse cx="342.7" cy="753.5" rx="0.9" ry="0.6" transform="rotate(134 342.7 753.5)"/>
<ellipse cx="314.4" cy="746.0" rx="1.2" ry="0.6" transform="rotate(273 314.4 746.0)"/>
<ellipse cx="348.6" cy="737.0" rx="0.6" ry="0.6" transform="rotate(408 348.6 737.0)"/>
<ellipse cx="311.7" cy="747.2" rx="1.1" ry="0.6" transform="rotate(266 311.7 747.2)"/>
<ellipse cx="350.9" cy="753.2" rx="0.9" ry="0.6" transform="rotate(120 350.9 753.2)"/>
<ellipse cx="336.9" cy="745.0" rx="0.9" ry="0.6" transform="rotate(430 336.9 745.0)"/>
<ellipse cx="303.2" cy="747.7" rx="1.2" ry="0.6" transform="rotate(265 303.2 747.7)"/>
<ellipse cx="336.4" cy="754.8" rx="1.2" ry="0.6" transform="rotate(156 336.4 754.8)"/>
<ellipse cx="315.5" cy="750.7" rx="1.3" ry="0.6" transform="rotate(241 315.5 750.7)"/>
<ellipse cx="339.4" cy="738.4" rx="1.0" ry="0.6" transform="rotate(394 339.4 738.4)"/>
<ellipse cx="342.7" cy="743.1" rx="1.3" ry="0.6" transform="rotate(425 342.7 743.1)"/>
<ellipse cx="347.9" cy="737.6" rx="1.1" ry="0.6" transform="rotate(408 347.9 737.6)"/>
<ellipse cx="320.8" cy="735.7" rx="1.1" ry="0.6" transform="rotate(337 320.8 735.7)"/>
<ellipse cx="336.6" cy="757.7" rx="1.1" ry="0.6" transform="rotate(161 336.6 757.7)"/>
<ellipse cx="305.5" cy="747.7" rx="1.0" ry="0.6" transform="rotate(265 305.5 747.7)"/>
<ellipse cx="337.5" cy="733.9" rx="0.7" ry="0.6" transform="rotate(379 337.5 733.9)"/>
<ellipse cx="331.4" cy="737.7" rx="0.7" ry="0.6" transform="rotate(367 331.4 737.7)"/>
<ellipse cx="341.9" cy="753.0" rx="1.0" ry="0.6" transform="rotate(134 341.9 753.0)"/>
<ellipse cx="322.5" cy="753.3" rx="1.2" ry="0.6" transform="rotate(209 322.5 753.3)"/>
<ellipse cx="310.5" cy="756.9" rx="0.8" ry="0.6" transform="rotate(225 310.5 756.9)"/>
<ellipse cx="322.7" cy="737.4" rx="1.3" ry="0.6" transform="rotate(338 322.7 737.4)"/>
<ellipse cx="314.9" cy="736.2" rx="0.7" ry="0.6" transform="rotate(323 314.9 736.2)"/>
<ellipse cx="329.6" cy="736.8" rx="1.2" ry="0.6" transform="rotate(360 329.6 736.8)"/>
<ellipse cx="336.2" cy="741.1" rx="0.6" ry="0.6" transform="rotate(394 336.2 741.1)"/>
<ellipse cx="330.8" cy="731.3" rx="1.3" ry="0.6" transform="rotate(363 330.8 731.3)"/>
<ellipse cx="305.2" cy="752.1" rx="0.6" ry="0.6" transform="rotate(247 305.2 752.1)"/>
<ellipse cx="350.3" cy="750.8" rx="1.0" ry="0.6" transform="rotate(111 350.3 750.8)"/>
<ellipse cx="336.3" cy="739.2" rx="1.0" ry="0.6" transform="rotate(387 336.3 739.2)"/>
<ellipse cx="346.2" cy="745.9" rx="0.9" ry="0.6" transform="rotate(446 346.2 745.9)"/>
<ellipse cx="307.1" cy="736.8" rx="0.7" ry="0.6" transform="rotate(309 307.1 736.8)"/>
<ellipse cx="322.4" cy="736.8" rx="0.9" ry="0.6" transform="rotate(339 322.4 736.8)"/>
<ellipse cx="328.5" cy="757.4" rx="1.1" ry="0.6" transform="rotate(182 328.5 757.4)"/>
<ellipse cx="313.0" cy="753.6" rx="1.1" ry="0.6" transform="rotate(231 313.0 753.6)"/>
<ellipse cx="342.5" cy="737.0" rx="0.9" ry="0.6" transform="rotate(397 342.5 737.0)"/>
<ellipse cx="342.5" cy="744.7" rx="0.6" ry="0.6" transform="rotate(436 342.5 744.7)"/>
<ellipse cx="342.8" cy="741.8" rx="0.7" ry="0.6" transform="rotate(417 342.8 741.8)"/>
<ellipse cx="316.1" cy="752.8" rx="0.9" ry="0.6" transform="rotate(229 316.1 752.8)"/>
<ellipse cx="339.2" cy="739.3" rx="0.7" ry="0.6" transform="rotate(396 339.2 739.3)"/>
<ellipse cx="335.4" cy="761.3" rx="0.9" ry="0.6" transform="rotate(168 335.4 761.3)"/>
<ellipse cx="313.0" cy="757.1" rx="1.3" ry="0.6" transform="rotate(220 313.0 757.1)"/>
<ellipse cx="303.4" cy="745.6" rx="0.8" ry="0.6" transform="rotate(274 303.4 745.6)"/>
<ellipse cx="316.3" cy="756.2" rx="0.8" ry="0.6" transform="rotate(216 316.3 756.2)"/>
<ellipse cx="327.2" cy="753.9" rx="0.8" ry="0.6" transform="rotate(189 327.2 753.9)"/>
<ellipse cx="343.1" cy="734.7" rx="0.7" ry="0.6" transform="rotate(392 343.1 734.7)"/>
<ellipse cx="315.0" cy="757.3" rx="1.3" ry="0.6" transform="rotate(216 315.0 757.3)"/>
<ellipse cx="306.4" cy="741.6" rx="0.8" ry="0.6" transform="rotate(292 306.4 741.6)"/>
<ellipse cx="334.6" cy="732.6" rx="0.9" ry="0.6" transform="rotate(371 334.6 732.6)"/>
<ellipse cx="330.2" cy="751.2" rx="1.1" ry="0.6" transform="rotate(175 330.2 751.2)"/>
<ellipse cx="324.6" cy="743.7" rx="1.0" ry="0.6" transform="rotate(318 324.6 743.7)"/>
<ellipse cx="337.2" cy="744.8" rx="0.7" ry="0.6" transform="rotate(428 337.2 744.8)"/>
<ellipse cx="347.8" cy="750.3" rx="0.9" ry="0.6" transform="rotate(111 347.8 750.3)"/>
<ellipse cx="336.3" cy="742.6" rx="0.8" ry="0.6" transform="rotate(403 336.3 742.6)"/>
<ellipse cx="336.8" cy="744.9" rx="0.8" ry="0.6" transform="rotate(428 336.8 744.9)"/>
<ellipse cx="323.8" cy="748.9" rx="0.8" ry="0.6" transform="rotate(232 323.8 748.9)"/>
<ellipse cx="311.1" cy="739.0" rx="1.1" ry="0.6" transform="rotate(307 311.1 739.0)"/>
<ellipse cx="316.0" cy="736.4" rx="0.6" ry="0.6" transform="rotate(324 316.0 736.4)"/>
<ellipse cx="316.8" cy="736.5" rx="0.8" ry="0.6" transform="rotate(326 316.8 736.5)"/>
<ellipse cx="316.0" cy="750.5" rx="1.3" ry="0.6" transform="rotate(241 316.0 750.5)"/>
<ellipse cx="327.0" cy="753.5" rx="1.2" ry="0.6" transform="rotate(190 327.0 753.5)"/>
<ellipse cx="331.3" cy="732.2" rx="1.1" ry="0.6" transform="rotate(364 331.3 732.2)"/>
<ellipse cx="311.7" cy="752.0" rx="1.0" ry="0.6" transform="rotate(240 311.7 752.0)"/>
<ellipse cx="306.4" cy="737.9" rx="0.8" ry="0.6" transform="rotate(305 306.4 737.9)"/>
<ellipse cx="330.3" cy="742.3" rx="0.8" ry="0.6" transform="rotate(367 330.3 742.3)"/>
<ellipse cx="344.1" cy="743.6" rx="1.0" ry="0.6" transform="rotate(430 344.1 743.6)"/>
<ellipse cx="349.8" cy="740.1" rx="1.0" ry="0.6" transform="rotate(420 349.8 740.1)"/>
<ellipse cx="320.9" cy="731.9" rx="1.4" ry="0.6" transform="rotate(343 320.9 731.9)"/>
<ellipse cx="334.7" cy="752.7" rx="0.8" ry="0.6" transform="rotate(155 334.7 752.7)"/>
<ellipse cx="344.9" cy="757.3" rx="1.3" ry="0.6" transform="rotate(142 344.9 757.3)"/>
<ellipse cx="335.9" cy="750.8" rx="0.9" ry="0.6" transform="rotate(141 335.9 750.8)"/>
<ellipse cx="319.6" cy="733.8" rx="1.0" ry="0.6" transform="rotate(337 319.6 733.8)"/>
<ellipse cx="311.7" cy="735.1" rx="1.3" ry="0.6" transform="rotate(320 311.7 735.1)"/>
<ellipse cx="347.5" cy="755.4" rx="1.2" ry="0.6" transform="rotate(132 347.5 755.4)"/>
<ellipse cx="345.5" cy="740.8" rx="0.7" ry="0.6" transform="rotate(417 345.5 740.8)"/>
<ellipse cx="311.3" cy="748.1" rx="0.9" ry="0.6" transform="rotate(261 311.3 748.1)"/>
<ellipse cx="337.1" cy="734.5" rx="1.1" ry="0.6" transform="rotate(379 337.1 734.5)"/>
<ellipse cx="322.2" cy="740.9" rx="0.6" ry="0.6" transform="rotate(325 322.2 740.9)"/>
<ellipse cx="308.4" cy="755.3" rx="1.1" ry="0.6" transform="rotate(232 308.4 755.3)"/>
<ellipse cx="335.3" cy="734.5" rx="1.2" ry="0.6" transform="rotate(375 335.3 734.5)"/>
</g>
<ellipse cx="329.4" cy="746.5" rx="11.5" ry="6.2" fill="none" stroke="#b39068" stroke-width="0.6" stroke-dasharray="2 2"/>
<ellipse cx="329.4" cy="746.5" rx="20.1" ry="10.8" fill="none" stroke="#b39068" stroke-width="0.6" stroke-dasharray="2 2"/>
<ellipse cx="329.4" cy="746.5" rx="5.5" ry="3.6" fill="#fbf3e6"/>
<ellipse cx="329.4" cy="746.5" rx="4" ry="2.6" fill="#cc2a1e"/>
<g stroke="#1a1a1a" stroke-width="1.1" fill="none"><path d="M571,526 L585,539"/><path d="M583,546 L602,527 L607,533"/><path d="M583,546 L588,551"/><path d="M538,550 L570.5,573.7"/><path d="M502,594.3 L569,603.8"/><path d="M200.6,693.8 L241.6,707.2"/><path d="M231,705 L244,703"/><path d="M192.8,730.6 L374,703"/><path d="M192.8,730.6 L318.8,767.2"/><path d="M168,821.6 L209.4,821.6"/><path d="M215,895.4 L279.8,856.7"/><path d="M278.5,946.6 L322.5,909"/><path d="M396,955 L394,925"/><path d="M388.5,925 L400,925"/><path d="M388.5,925 L388.5,921"/><path d="M400,925 L400,921"/><path d="M503,958 L438,918"/><path d="M720,701.4 L687.4,661.4"/><path d="M699,727.3 L658.2,677.9"/><path d="M581.8,851.5 L471.5,871.3"/><path d="M471.5,863 L471.5,878 L468,878"/><path d="M471.5,863 L468,863"/><path d="M540.8,907 L577.9,907"/></g></svg>
<div class="t hdr" style="left:80.0px;top:37.0px;transform:scaleX(0.7818);">128</div>
<div class="t hdr" style="left:111.7px;top:37.0px;transform:scaleX(0.9150);">Introduction to Anatomy &amp; Physiology</div>
<div class="t box" style="left:104.8px;top:94.7px;transform:scaleX(0.9073);">At the same time that the osteoblasts are doing their work,</div>
<div class="t box" style="left:79.5px;top:112.0px;transform:scaleX(0.9331);">the osteoclasts resorb layers of bone inside the medullary</div>
<div class="t box" style="left:79.5px;top:129.3px;transform:scaleX(0.9411);">cavity, causing the diameter of the cavity to be progressively</div>
<div class="t box" style="left:79.5px;top:146.6px;transform:scaleX(0.9274);">enlarged. This beautifully engineered process occurs in such</div>
<div class="t box" style="left:79.5px;top:163.9px;transform:scaleX(0.9484);">a way that a healthy bone remains optimally functional,</div>
<div class="t box" style="left:79.5px;top:181.2px;transform:scaleX(0.9402);">lightweight, and strong enough to resist daily stresses.</div>
<div class="t h" style="left:80.0px;top:206.6px;transform:scaleX(0.9371);">Adult Bone Development</div>
<div class="t box" style="left:104.8px;top:228.8px;transform:scaleX(0.9134);">As people age, there is a progressive loss of collagen</div>
<div class="t box" style="left:79.5px;top:246.0px;transform:scaleX(0.9266);">and a subsequent increase in bone brittleness. This means</div>
<div class="t box" style="left:79.5px;top:263.2px;transform:scaleX(0.9246);">that children are often able to sustain falls and other accidents</div>
<div class="t box" style="left:79.5px;top:280.4px;transform:scaleX(0.9579);">without harm, while older adults tend to be increasingly</div>
<div class="t box" style="left:79.5px;top:297.6px;transform:scaleX(0.9315);">vulnerable to bone fractures.</div>
<div class="t box" style="left:463.0px;top:94.7px;transform:scaleX(0.9467);">Bone mineral normally peaks in women at about 25 to</div>
<div class="t box" style="left:437.8px;top:112.0px;transform:scaleX(0.9250);">28 years of age and in men at about 30 to 35 years of age.</div>
<div class="t box" style="left:437.8px;top:129.3px;transform:scaleX(0.8773);">Thereafter, bone mass is progressively lost. Because women tend</div>
<div class="t box" style="left:437.8px;top:146.6px;transform:scaleX(0.9338);">to have smaller bones than men, the loss of bone mass and</div>
<div class="t box" style="left:437.8px;top:163.9px;transform:scaleX(0.9154);">bone mineral density is generally more problematic for women.</div>
<div class="t h" style="left:437.8px;top:189.0px;transform:scaleX(0.8937);">Life Span Review</div>
<div class="t box" style="left:450.0px;top:215.2px;transform:scaleX(0.6455);">1.</div>
<div class="t box" style="left:467.0px;top:215.2px;transform:scaleX(0.9132);">During which parts of life are osteoblasts and osteoclasts</div>
<div class="t box" style="left:467.0px;top:232.4px;transform:scaleX(0.8446);">active?</div>
<div class="t box" style="left:448.8px;top:249.7px;transform:scaleX(0.7562);">2.</div>
<div class="t box" style="left:467.0px;top:249.7px;transform:scaleX(0.9425);">How and why is the medullary cavity in bone enlarged?</div>
<div class="t box" style="left:448.8px;top:266.9px;transform:scaleX(0.7562);">3.</div>
<div class="t box" style="left:467.0px;top:266.9px;transform:scaleX(0.9434);">What is the importance of the epiphyseal plate?</div>
<div class="t box" style="left:448.8px;top:284.2px;transform:scaleX(0.7562);">4.</div>
<div class="t box" style="left:467.0px;top:284.2px;transform:scaleX(0.9006);">Why are elderly individuals more prone to bone fractures?</div>
<div class="t body" style="left:79.5px;top:352.1px;transform:scaleX(1.0531);">covering of articular cartilage over the ends of the</div>
<div class="t body" style="left:79.5px;top:369.9px;transform:scaleX(1.0552);">bone in chicken drumsticks.</div>
<div class="t body" style="left:104.6px;top:387.7px;transform:scaleX(1.0670);">How does living bone receive nourishment</div>
<div class="t body" style="left:79.5px;top:405.5px;transform:scaleX(1.0703);">and get rid of waste products? Bone has what</div>
<div class="t body" style="left:79.5px;top:423.3px;transform:scaleX(1.0580);">you might think of as its own subway system.</div>
<div class="t body" style="left:79.5px;top:441.1px;transform:scaleX(1.0622);">An intricate array of passageways exists at</div>
<div class="t body" style="left:438.0px;top:352.1px;transform:scaleX(1.0641);">a microscopic level inside the mineralized</div>
<div class="t body" style="left:438.0px;top:369.9px;transform:scaleX(1.0451);">part of bone. Blood vessels and nerves course</div>
<div class="t body" style="left:438.0px;top:387.7px;transform:scaleX(1.0790);">through these tiny tunnels (<span class="g">Figure 4.7</span>). Major</div>
<div class="t body" style="left:438.0px;top:405.5px;transform:scaleX(1.0369);">passageways running lengthwise through the bone</div>
<div class="t body" style="left:438.0px;top:423.3px;transform:scaleX(1.0600);">are called <span class="hl">Haversian</span> (ha-VER-zhen) <span class="hl">canals</span>.</div>
<div class="t body" style="left:438.0px;top:441.1px;transform:scaleX(1.0570);">Tiny cavities called <span class="hl">lacunae</span> (la-KOO-nee) are</div>
<div class="t labb" style="left:606.6px;top:497.6px;transform:scaleX(1.0123);">Magnified view</div>
<div class="t lab" style="left:527.0px;top:514.2px;transform:scaleX(0.9913);">Lamella</div>
<div class="t lab" style="left:479.0px;top:542.8px;transform:scaleX(1.0199);">Osteocyte</div>
<div class="t lab" style="left:412.4px;top:588.0px;transform:scaleX(0.9772);">Haversian canal</div>
<div class="t labb" style="left:237.6px;top:634.5px;transform:scaleX(0.9970);">Pie-shaped section</div>
<div class="t lab" style="left:145.9px;top:686.6px;transform:scaleX(0.9678);">Lamellae</div>
<div class="t lab" style="left:138.2px;top:724.4px;transform:scaleX(0.9836);">Osteons</div>
<div class="t lab" style="left:79.7px;top:739.5px;transform:scaleX(0.9687);">(Haversian system)</div>
<div class="t lab" style="left:89.3px;top:815.8px;">Spongy bone</div>
<div class="t labb" style="left:539.0px;top:686.7px;">B</div>
<div class="t lab" style="left:724.0px;top:699.4px;transform:scaleX(0.9752);">Lacuna</div>
<div class="t lab" style="left:700.6px;top:730.5px;transform:scaleX(0.9810);">Canaliculus</div>
<div class="t lab" style="left:586.8px;top:845.0px;">Perforating</div>
<div class="t lab" style="left:586.8px;top:859.8px;">(Volkmann’s)</div>
<div class="t lab" style="left:586.8px;top:874.7px;">canal</div>
<div class="t lab" style="left:583.8px;top:901.0px;">Periosteum</div>
<div class="t lab" style="left:81.0px;top:889.0px;transform:scaleX(1.0042);">Blood vessel continues</div>
<div class="t lab" style="left:96.2px;top:904.1px;">into medullary cavity</div>
<div class="t lab" style="left:107.3px;top:918.5px;">containing marrow</div>
<div class="t lab" style="left:199.2px;top:946.0px;">Cortical bone</div>
<div class="t labb" style="left:79.7px;top:960.0px;">A</div>
<div class="t lab" style="left:395.0px;top:958.7px;transform:scaleX(0.9817);">Haversian canal</div>
<div class="t lab" style="left:508.8px;top:957.8px;">Blood vessel</div>
<div class="t cr" style="left:670.5px;top:976.7px;transform:scaleX(0.9406);">© Body Scientific International</div>
<div class="t cap" style="left:79.8px;top:992.9px;transform:scaleX(0.8937);"><span class="fg">Figure 4.7</span></div>
<div class="t cap" style="left:141.0px;top:992.9px;transform:scaleX(1.0123);">A—A microscopic view of the inside of bone tissue. B—An even more magnified view.</div>
<div class="t cap" style="left:663.8px;top:992.9px;transform:scaleX(0.8622);"><span class="oi">Why might someone</span></div>
<div class="t cap" style="left:79.8px;top:1008.8px;transform:scaleX(0.8900);"><span class="oi">compare the inside of living bone to a subway system?</span></div>
<div class="t copy" style="left:603.6px;top:1040.4px;transform:scaleX(0.9055);">Copyright Goodheart-Willcox Co., Inc.</div></body></html>
